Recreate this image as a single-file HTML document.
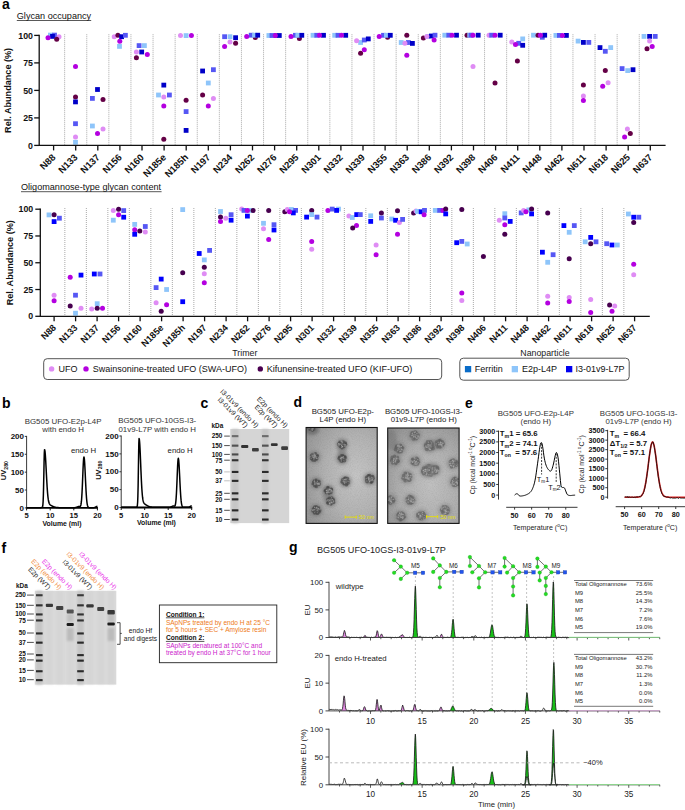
<!DOCTYPE html>
<html><head><meta charset="utf-8"><style>
html,body{margin:0;padding:0;background:#fff;}
svg{display:block;}
text{font-family:"Liberation Sans", sans-serif;}
</style></head><body>
<svg width="685" height="810" viewBox="0 0 685 810">
<rect width="685" height="810" fill="#fff"/>
<text x="2.00" y="9.00" font-size="14" font-weight="bold">a</text>
<text x="2.00" y="408.00" font-size="14" font-weight="bold">b</text>
<text x="200.50" y="408.30" font-size="14" font-weight="bold">c</text>
<text x="293.50" y="407.30" font-size="14" font-weight="bold">d</text>
<text x="465.00" y="408.00" font-size="14" font-weight="bold">e</text>
<text x="1.50" y="553.00" font-size="14" font-weight="bold">f</text>
<text x="289.00" y="551.50" font-size="14" font-weight="bold">g</text>
<text x="16.80" y="19.00" font-size="9.1" fill="#111">Glycan occupancy</text>
<line x1="16.80" y1="20.50" x2="91.20" y2="20.50" stroke="#222" stroke-width="0.75"/>
<line x1="64.65" y1="34.40" x2="64.65" y2="145.40" stroke="#7a7a7a" stroke-width="0.8" stroke-dasharray="0.8 1.2"/>
<line x1="86.75" y1="34.40" x2="86.75" y2="145.40" stroke="#7a7a7a" stroke-width="0.8" stroke-dasharray="0.8 1.2"/>
<line x1="108.85" y1="34.40" x2="108.85" y2="145.40" stroke="#7a7a7a" stroke-width="0.8" stroke-dasharray="0.8 1.2"/>
<line x1="130.95" y1="34.40" x2="130.95" y2="145.40" stroke="#7a7a7a" stroke-width="0.8" stroke-dasharray="0.8 1.2"/>
<line x1="153.05" y1="34.40" x2="153.05" y2="145.40" stroke="#7a7a7a" stroke-width="0.8" stroke-dasharray="0.8 1.2"/>
<line x1="175.15" y1="34.40" x2="175.15" y2="145.40" stroke="#7a7a7a" stroke-width="0.8" stroke-dasharray="0.8 1.2"/>
<line x1="197.25" y1="34.40" x2="197.25" y2="145.40" stroke="#7a7a7a" stroke-width="0.8" stroke-dasharray="0.8 1.2"/>
<line x1="219.35" y1="34.40" x2="219.35" y2="145.40" stroke="#7a7a7a" stroke-width="0.8" stroke-dasharray="0.8 1.2"/>
<line x1="241.45" y1="34.40" x2="241.45" y2="145.40" stroke="#7a7a7a" stroke-width="0.8" stroke-dasharray="0.8 1.2"/>
<line x1="263.55" y1="34.40" x2="263.55" y2="145.40" stroke="#7a7a7a" stroke-width="0.8" stroke-dasharray="0.8 1.2"/>
<line x1="285.65" y1="34.40" x2="285.65" y2="145.40" stroke="#7a7a7a" stroke-width="0.8" stroke-dasharray="0.8 1.2"/>
<line x1="307.75" y1="34.40" x2="307.75" y2="145.40" stroke="#7a7a7a" stroke-width="0.8" stroke-dasharray="0.8 1.2"/>
<line x1="329.85" y1="34.40" x2="329.85" y2="145.40" stroke="#7a7a7a" stroke-width="0.8" stroke-dasharray="0.8 1.2"/>
<line x1="351.95" y1="34.40" x2="351.95" y2="145.40" stroke="#7a7a7a" stroke-width="0.8" stroke-dasharray="0.8 1.2"/>
<line x1="374.05" y1="34.40" x2="374.05" y2="145.40" stroke="#7a7a7a" stroke-width="0.8" stroke-dasharray="0.8 1.2"/>
<line x1="396.15" y1="34.40" x2="396.15" y2="145.40" stroke="#7a7a7a" stroke-width="0.8" stroke-dasharray="0.8 1.2"/>
<line x1="418.25" y1="34.40" x2="418.25" y2="145.40" stroke="#7a7a7a" stroke-width="0.8" stroke-dasharray="0.8 1.2"/>
<line x1="440.35" y1="34.40" x2="440.35" y2="145.40" stroke="#7a7a7a" stroke-width="0.8" stroke-dasharray="0.8 1.2"/>
<line x1="462.45" y1="34.40" x2="462.45" y2="145.40" stroke="#7a7a7a" stroke-width="0.8" stroke-dasharray="0.8 1.2"/>
<line x1="484.55" y1="34.40" x2="484.55" y2="145.40" stroke="#7a7a7a" stroke-width="0.8" stroke-dasharray="0.8 1.2"/>
<line x1="506.65" y1="34.40" x2="506.65" y2="145.40" stroke="#7a7a7a" stroke-width="0.8" stroke-dasharray="0.8 1.2"/>
<line x1="528.75" y1="34.40" x2="528.75" y2="145.40" stroke="#7a7a7a" stroke-width="0.8" stroke-dasharray="0.8 1.2"/>
<line x1="550.85" y1="34.40" x2="550.85" y2="145.40" stroke="#7a7a7a" stroke-width="0.8" stroke-dasharray="0.8 1.2"/>
<line x1="572.95" y1="34.40" x2="572.95" y2="145.40" stroke="#7a7a7a" stroke-width="0.8" stroke-dasharray="0.8 1.2"/>
<line x1="595.05" y1="34.40" x2="595.05" y2="145.40" stroke="#7a7a7a" stroke-width="0.8" stroke-dasharray="0.8 1.2"/>
<line x1="617.15" y1="34.40" x2="617.15" y2="145.40" stroke="#7a7a7a" stroke-width="0.8" stroke-dasharray="0.8 1.2"/>
<line x1="639.25" y1="34.40" x2="639.25" y2="145.40" stroke="#7a7a7a" stroke-width="0.8" stroke-dasharray="0.8 1.2"/>
<rect x="48.0" y="32.7" width="4.8" height="4.8" fill="#8ec5fa"/>
<rect x="52.1" y="32.7" width="4.8" height="4.8" fill="#5657f4"/>
<rect x="50.1" y="34.0" width="4.8" height="4.8" fill="#0000c8"/>
<circle cx="48.0" cy="37.7" r="2.5" fill="#b400e0"/>
<circle cx="59.0" cy="36.7" r="2.5" fill="#df8cf4"/>
<circle cx="56.7" cy="39.2" r="2.5" fill="#640046"/>
<circle cx="75.5" cy="66.4" r="2.5" fill="#b400e0"/>
<circle cx="75.5" cy="97.1" r="2.5" fill="#640046"/>
<rect x="73.1" y="99.5" width="4.8" height="4.8" fill="#0000c8"/>
<rect x="73.1" y="121.3" width="4.8" height="4.8" fill="#5657f4"/>
<circle cx="75.5" cy="137.0" r="2.5" fill="#df8cf4"/>
<rect x="73.1" y="139.9" width="4.8" height="4.8" fill="#8ec5fa"/>
<rect x="95.1" y="87.1" width="4.8" height="4.8" fill="#0000c8"/>
<rect x="90.0" y="96.0" width="4.8" height="4.8" fill="#5657f4"/>
<circle cx="103.0" cy="99.4" r="2.5" fill="#640046"/>
<rect x="90.0" y="123.6" width="4.8" height="4.8" fill="#8ec5fa"/>
<circle cx="97.5" cy="133.6" r="2.5" fill="#b400e0"/>
<circle cx="103.0" cy="129.0" r="2.5" fill="#df8cf4"/>
<circle cx="114.2" cy="36.7" r="2.5" fill="#df8cf4"/>
<circle cx="117.9" cy="35.3" r="2.5" fill="#640046"/>
<rect x="119.2" y="34.3" width="4.8" height="4.8" fill="#0000c8"/>
<rect x="123.0" y="32.9" width="4.8" height="4.8" fill="#5657f4"/>
<circle cx="119.8" cy="41.2" r="2.5" fill="#b400e0"/>
<rect x="117.1" y="44.0" width="4.8" height="4.8" fill="#8ec5fa"/>
<rect x="136.7" y="43.2" width="4.8" height="4.8" fill="#5657f4"/>
<rect x="142.0" y="43.2" width="4.8" height="4.8" fill="#8ec5fa"/>
<circle cx="136.4" cy="52.0" r="2.5" fill="#df8cf4"/>
<rect x="139.3" y="49.6" width="4.8" height="4.8" fill="#0000c8"/>
<circle cx="147.3" cy="54.4" r="2.5" fill="#b400e0"/>
<circle cx="136.4" cy="57.8" r="2.5" fill="#640046"/>
<rect x="161.4" y="82.7" width="4.8" height="4.8" fill="#0000c8"/>
<rect x="156.1" y="92.6" width="4.8" height="4.8" fill="#8ec5fa"/>
<circle cx="163.8" cy="97.1" r="2.5" fill="#df8cf4"/>
<rect x="167.0" y="92.6" width="4.8" height="4.8" fill="#5657f4"/>
<circle cx="163.8" cy="106.0" r="2.5" fill="#b400e0"/>
<circle cx="163.8" cy="139.2" r="2.5" fill="#640046"/>
<circle cx="180.5" cy="35.6" r="2.5" fill="#df8cf4"/>
<rect x="183.7" y="33.2" width="4.8" height="4.8" fill="#8ec5fa"/>
<circle cx="191.4" cy="35.6" r="2.5" fill="#b400e0"/>
<circle cx="186.1" cy="100.3" r="2.5" fill="#640046"/>
<rect x="183.7" y="109.2" width="4.8" height="4.8" fill="#5657f4"/>
<rect x="183.7" y="128.0" width="4.8" height="4.8" fill="#0000c8"/>
<rect x="200.2" y="68.6" width="4.8" height="4.8" fill="#0000c8"/>
<rect x="211.0" y="67.3" width="4.8" height="4.8" fill="#5657f4"/>
<rect x="205.9" y="80.6" width="4.8" height="4.8" fill="#8ec5fa"/>
<circle cx="202.6" cy="95.0" r="2.5" fill="#640046"/>
<circle cx="213.4" cy="98.6" r="2.5" fill="#df8cf4"/>
<circle cx="208.3" cy="106.0" r="2.5" fill="#b400e0"/>
<rect x="222.2" y="34.3" width="4.8" height="4.8" fill="#5657f4"/>
<rect x="227.6" y="34.3" width="4.8" height="4.8" fill="#8ec5fa"/>
<rect x="233.2" y="35.3" width="4.8" height="4.8" fill="#0000c8"/>
<circle cx="230.0" cy="42.0" r="2.5" fill="#df8cf4"/>
<circle cx="224.6" cy="46.4" r="2.5" fill="#b400e0"/>
<circle cx="235.6" cy="43.2" r="2.5" fill="#640046"/>
<circle cx="255.3" cy="37.6" r="2.5" fill="#640046"/>
<rect x="248.8" y="32.8" width="4.8" height="4.8" fill="#5657f4"/>
<rect x="252.1" y="32.8" width="4.8" height="4.8" fill="#8ec5fa"/>
<rect x="255.3" y="32.8" width="4.8" height="4.8" fill="#0000c8"/>
<circle cx="246.7" cy="36.5" r="2.5" fill="#b400e0"/>
<circle cx="275.3" cy="35.5" r="2.5" fill="#640046"/>
<rect x="266.5" y="33.1" width="4.8" height="4.8" fill="#8ec5fa"/>
<rect x="269.6" y="33.1" width="4.8" height="4.8" fill="#5657f4"/>
<rect x="276.9" y="33.1" width="4.8" height="4.8" fill="#0000c8"/>
<circle cx="275.3" cy="35.5" r="2.5" fill="#b400e0"/>
<circle cx="299.4" cy="38.4" r="2.5" fill="#640046"/>
<rect x="293.0" y="32.9" width="4.8" height="4.8" fill="#5657f4"/>
<rect x="295.4" y="32.9" width="4.8" height="4.8" fill="#8ec5fa"/>
<rect x="299.4" y="32.9" width="4.8" height="4.8" fill="#0000c8"/>
<circle cx="291.0" cy="36.5" r="2.5" fill="#b400e0"/>
<rect x="310.6" y="32.9" width="4.8" height="4.8" fill="#8ec5fa"/>
<rect x="314.4" y="32.9" width="4.8" height="4.8" fill="#5657f4"/>
<rect x="321.1" y="32.9" width="4.8" height="4.8" fill="#0000c8"/>
<circle cx="319.5" cy="35.3" r="2.5" fill="#b400e0"/>
<rect x="332.3" y="32.9" width="4.8" height="4.8" fill="#8ec5fa"/>
<rect x="335.6" y="32.9" width="4.8" height="4.8" fill="#5657f4"/>
<rect x="343.3" y="32.9" width="4.8" height="4.8" fill="#0000c8"/>
<circle cx="341.5" cy="35.3" r="2.5" fill="#b400e0"/>
<circle cx="360.6" cy="53.2" r="2.5" fill="#640046"/>
<rect x="358.2" y="40.1" width="4.8" height="4.8" fill="#8ec5fa"/>
<rect x="361.9" y="37.6" width="4.8" height="4.8" fill="#5657f4"/>
<rect x="365.9" y="36.5" width="4.8" height="4.8" fill="#0000c8"/>
<circle cx="356.6" cy="40.8" r="2.5" fill="#df8cf4"/>
<circle cx="364.3" cy="49.7" r="2.5" fill="#b400e0"/>
<circle cx="387.6" cy="37.2" r="2.5" fill="#640046"/>
<rect x="381.1" y="32.9" width="4.8" height="4.8" fill="#5657f4"/>
<rect x="384.0" y="32.9" width="4.8" height="4.8" fill="#8ec5fa"/>
<rect x="387.9" y="32.9" width="4.8" height="4.8" fill="#0000c8"/>
<circle cx="379.2" cy="36.5" r="2.5" fill="#b400e0"/>
<circle cx="406.8" cy="35.2" r="2.5" fill="#640046"/>
<rect x="398.8" y="40.1" width="4.8" height="4.8" fill="#8ec5fa"/>
<rect x="406.0" y="40.1" width="4.8" height="4.8" fill="#5657f4"/>
<rect x="410.0" y="41.0" width="4.8" height="4.8" fill="#0000c8"/>
<circle cx="404.9" cy="43.3" r="2.5" fill="#df8cf4"/>
<circle cx="406.8" cy="55.3" r="2.5" fill="#b400e0"/>
<circle cx="423.4" cy="38.0" r="2.5" fill="#640046"/>
<rect x="425.6" y="34.0" width="4.8" height="4.8" fill="#8ec5fa"/>
<rect x="429.0" y="33.6" width="4.8" height="4.8" fill="#0000c8"/>
<rect x="432.6" y="32.8" width="4.8" height="4.8" fill="#5657f4"/>
<circle cx="426.9" cy="36.4" r="2.5" fill="#df8cf4"/>
<circle cx="434.1" cy="40.0" r="2.5" fill="#b400e0"/>
<rect x="442.4" y="32.8" width="4.8" height="4.8" fill="#8ec5fa"/>
<rect x="446.4" y="32.8" width="4.8" height="4.8" fill="#5657f4"/>
<rect x="454.1" y="32.8" width="4.8" height="4.8" fill="#0000c8"/>
<circle cx="452.0" cy="35.2" r="2.5" fill="#b400e0"/>
<circle cx="467.0" cy="35.2" r="2.5" fill="#640046"/>
<rect x="467.3" y="32.8" width="4.8" height="4.8" fill="#8ec5fa"/>
<rect x="468.6" y="32.8" width="4.8" height="4.8" fill="#5657f4"/>
<rect x="475.8" y="32.8" width="4.8" height="4.8" fill="#0000c8"/>
<circle cx="473.0" cy="35.2" r="2.5" fill="#b400e0"/>
<circle cx="473.0" cy="66.5" r="2.5" fill="#df8cf4"/>
<circle cx="489.0" cy="35.2" r="2.5" fill="#df8cf4"/>
<rect x="489.3" y="32.8" width="4.8" height="4.8" fill="#5657f4"/>
<rect x="497.8" y="32.8" width="4.8" height="4.8" fill="#0000c8"/>
<circle cx="495.0" cy="35.2" r="2.5" fill="#b400e0"/>
<circle cx="495.0" cy="82.9" r="2.5" fill="#640046"/>
<circle cx="517.4" cy="60.9" r="2.5" fill="#640046"/>
<rect x="516.3" y="40.9" width="4.8" height="4.8" fill="#5657f4"/>
<rect x="520.3" y="36.5" width="4.8" height="4.8" fill="#8ec5fa"/>
<rect x="520.3" y="42.9" width="4.8" height="4.8" fill="#0000c8"/>
<circle cx="511.8" cy="42.1" r="2.5" fill="#df8cf4"/>
<circle cx="515.5" cy="44.4" r="2.5" fill="#b400e0"/>
<rect x="531.1" y="32.8" width="4.8" height="4.8" fill="#8ec5fa"/>
<rect x="539.9" y="34.9" width="4.8" height="4.8" fill="#5657f4"/>
<rect x="542.3" y="32.8" width="4.8" height="4.8" fill="#0000c8"/>
<circle cx="538.0" cy="35.2" r="2.5" fill="#640046"/>
<circle cx="540.4" cy="35.2" r="2.5" fill="#b400e0"/>
<rect x="553.5" y="33.0" width="4.8" height="4.8" fill="#8ec5fa"/>
<rect x="557.0" y="33.0" width="4.8" height="4.8" fill="#5657f4"/>
<rect x="564.0" y="33.0" width="4.8" height="4.8" fill="#0000c8"/>
<circle cx="562.4" cy="35.4" r="2.5" fill="#b400e0"/>
<rect x="575.7" y="38.7" width="4.8" height="4.8" fill="#8ec5fa"/>
<rect x="581.0" y="40.0" width="4.8" height="4.8" fill="#0000c8"/>
<rect x="586.4" y="40.0" width="4.8" height="4.8" fill="#5657f4"/>
<circle cx="583.4" cy="85.1" r="2.5" fill="#640046"/>
<circle cx="583.4" cy="96.0" r="2.5" fill="#df8cf4"/>
<circle cx="583.4" cy="100.4" r="2.5" fill="#b400e0"/>
<rect x="597.6" y="45.2" width="4.8" height="4.8" fill="#0000c8"/>
<rect x="602.9" y="48.9" width="4.8" height="4.8" fill="#5657f4"/>
<rect x="608.3" y="45.2" width="4.8" height="4.8" fill="#8ec5fa"/>
<circle cx="605.3" cy="70.6" r="2.5" fill="#640046"/>
<circle cx="608.1" cy="82.8" r="2.5" fill="#df8cf4"/>
<circle cx="602.7" cy="86.2" r="2.5" fill="#b400e0"/>
<rect x="619.7" y="66.2" width="4.8" height="4.8" fill="#5657f4"/>
<rect x="625.3" y="68.2" width="4.8" height="4.8" fill="#8ec5fa"/>
<rect x="630.6" y="67.3" width="4.8" height="4.8" fill="#0000c8"/>
<circle cx="627.4" cy="129.1" r="2.5" fill="#df8cf4"/>
<circle cx="630.3" cy="133.5" r="2.5" fill="#640046"/>
<circle cx="624.6" cy="137.0" r="2.5" fill="#b400e0"/>
<rect x="641.6" y="34.0" width="4.8" height="4.8" fill="#8ec5fa"/>
<rect x="647.2" y="34.0" width="4.8" height="4.8" fill="#0000c8"/>
<rect x="652.8" y="34.0" width="4.8" height="4.8" fill="#5657f4"/>
<circle cx="649.6" cy="41.1" r="2.5" fill="#df8cf4"/>
<circle cx="652.2" cy="46.4" r="2.5" fill="#b400e0"/>
<circle cx="647.0" cy="48.7" r="2.5" fill="#640046"/>
<path d="M39.20 34.80V145.40H665.60" fill="none" stroke="#111" stroke-width="1.3"/>
<line x1="34.20" y1="145.40" x2="39.20" y2="145.40" stroke="#111" stroke-width="1.3"/>
<text x="33.00" y="148.50" font-size="8.8" font-weight="bold" text-anchor="end" fill="#111">0</text>
<line x1="34.20" y1="117.90" x2="39.20" y2="117.90" stroke="#111" stroke-width="1.3"/>
<text x="33.00" y="121.00" font-size="8.8" font-weight="bold" text-anchor="end" fill="#111">25</text>
<line x1="34.20" y1="90.40" x2="39.20" y2="90.40" stroke="#111" stroke-width="1.3"/>
<text x="33.00" y="93.50" font-size="8.8" font-weight="bold" text-anchor="end" fill="#111">50</text>
<line x1="34.20" y1="62.90" x2="39.20" y2="62.90" stroke="#111" stroke-width="1.3"/>
<text x="33.00" y="66.00" font-size="8.8" font-weight="bold" text-anchor="end" fill="#111">75</text>
<line x1="34.20" y1="35.40" x2="39.20" y2="35.40" stroke="#111" stroke-width="1.3"/>
<text x="33.00" y="38.50" font-size="8.8" font-weight="bold" text-anchor="end" fill="#111">100</text>
<line x1="53.60" y1="145.40" x2="53.60" y2="150.40" stroke="#111" stroke-width="1.3"/>
<text x="56.20" y="157.90" font-size="9.5" font-weight="bold" text-anchor="end" fill="#111" transform="rotate(-45 56.20 157.90)">N88</text>
<line x1="75.70" y1="145.40" x2="75.70" y2="150.40" stroke="#111" stroke-width="1.3"/>
<text x="78.30" y="157.90" font-size="9.5" font-weight="bold" text-anchor="end" fill="#111" transform="rotate(-45 78.30 157.90)">N133</text>
<line x1="97.80" y1="145.40" x2="97.80" y2="150.40" stroke="#111" stroke-width="1.3"/>
<text x="100.40" y="157.90" font-size="9.5" font-weight="bold" text-anchor="end" fill="#111" transform="rotate(-45 100.40 157.90)">N137</text>
<line x1="119.90" y1="145.40" x2="119.90" y2="150.40" stroke="#111" stroke-width="1.3"/>
<text x="122.50" y="157.90" font-size="9.5" font-weight="bold" text-anchor="end" fill="#111" transform="rotate(-45 122.50 157.90)">N156</text>
<line x1="142.00" y1="145.40" x2="142.00" y2="150.40" stroke="#111" stroke-width="1.3"/>
<text x="144.60" y="157.90" font-size="9.5" font-weight="bold" text-anchor="end" fill="#111" transform="rotate(-45 144.60 157.90)">N160</text>
<line x1="164.10" y1="145.40" x2="164.10" y2="150.40" stroke="#111" stroke-width="1.3"/>
<text x="166.70" y="157.90" font-size="9.5" font-weight="bold" text-anchor="end" fill="#111" transform="rotate(-45 166.70 157.90)">N185e</text>
<line x1="186.20" y1="145.40" x2="186.20" y2="150.40" stroke="#111" stroke-width="1.3"/>
<text x="188.80" y="157.90" font-size="9.5" font-weight="bold" text-anchor="end" fill="#111" transform="rotate(-45 188.80 157.90)">N185h</text>
<line x1="208.30" y1="145.40" x2="208.30" y2="150.40" stroke="#111" stroke-width="1.3"/>
<text x="210.90" y="157.90" font-size="9.5" font-weight="bold" text-anchor="end" fill="#111" transform="rotate(-45 210.90 157.90)">N197</text>
<line x1="230.40" y1="145.40" x2="230.40" y2="150.40" stroke="#111" stroke-width="1.3"/>
<text x="233.00" y="157.90" font-size="9.5" font-weight="bold" text-anchor="end" fill="#111" transform="rotate(-45 233.00 157.90)">N234</text>
<line x1="252.50" y1="145.40" x2="252.50" y2="150.40" stroke="#111" stroke-width="1.3"/>
<text x="255.10" y="157.90" font-size="9.5" font-weight="bold" text-anchor="end" fill="#111" transform="rotate(-45 255.10 157.90)">N262</text>
<line x1="274.60" y1="145.40" x2="274.60" y2="150.40" stroke="#111" stroke-width="1.3"/>
<text x="277.20" y="157.90" font-size="9.5" font-weight="bold" text-anchor="end" fill="#111" transform="rotate(-45 277.20 157.90)">N276</text>
<line x1="296.70" y1="145.40" x2="296.70" y2="150.40" stroke="#111" stroke-width="1.3"/>
<text x="299.30" y="157.90" font-size="9.5" font-weight="bold" text-anchor="end" fill="#111" transform="rotate(-45 299.30 157.90)">N295</text>
<line x1="318.80" y1="145.40" x2="318.80" y2="150.40" stroke="#111" stroke-width="1.3"/>
<text x="321.40" y="157.90" font-size="9.5" font-weight="bold" text-anchor="end" fill="#111" transform="rotate(-45 321.40 157.90)">N301</text>
<line x1="340.90" y1="145.40" x2="340.90" y2="150.40" stroke="#111" stroke-width="1.3"/>
<text x="343.50" y="157.90" font-size="9.5" font-weight="bold" text-anchor="end" fill="#111" transform="rotate(-45 343.50 157.90)">N332</text>
<line x1="363.00" y1="145.40" x2="363.00" y2="150.40" stroke="#111" stroke-width="1.3"/>
<text x="365.60" y="157.90" font-size="9.5" font-weight="bold" text-anchor="end" fill="#111" transform="rotate(-45 365.60 157.90)">N339</text>
<line x1="385.10" y1="145.40" x2="385.10" y2="150.40" stroke="#111" stroke-width="1.3"/>
<text x="387.70" y="157.90" font-size="9.5" font-weight="bold" text-anchor="end" fill="#111" transform="rotate(-45 387.70 157.90)">N355</text>
<line x1="407.20" y1="145.40" x2="407.20" y2="150.40" stroke="#111" stroke-width="1.3"/>
<text x="409.80" y="157.90" font-size="9.5" font-weight="bold" text-anchor="end" fill="#111" transform="rotate(-45 409.80 157.90)">N363</text>
<line x1="429.30" y1="145.40" x2="429.30" y2="150.40" stroke="#111" stroke-width="1.3"/>
<text x="431.90" y="157.90" font-size="9.5" font-weight="bold" text-anchor="end" fill="#111" transform="rotate(-45 431.90 157.90)">N386</text>
<line x1="451.40" y1="145.40" x2="451.40" y2="150.40" stroke="#111" stroke-width="1.3"/>
<text x="454.00" y="157.90" font-size="9.5" font-weight="bold" text-anchor="end" fill="#111" transform="rotate(-45 454.00 157.90)">N392</text>
<line x1="473.50" y1="145.40" x2="473.50" y2="150.40" stroke="#111" stroke-width="1.3"/>
<text x="476.10" y="157.90" font-size="9.5" font-weight="bold" text-anchor="end" fill="#111" transform="rotate(-45 476.10 157.90)">N398</text>
<line x1="495.60" y1="145.40" x2="495.60" y2="150.40" stroke="#111" stroke-width="1.3"/>
<text x="498.20" y="157.90" font-size="9.5" font-weight="bold" text-anchor="end" fill="#111" transform="rotate(-45 498.20 157.90)">N406</text>
<line x1="517.70" y1="145.40" x2="517.70" y2="150.40" stroke="#111" stroke-width="1.3"/>
<text x="520.30" y="157.90" font-size="9.5" font-weight="bold" text-anchor="end" fill="#111" transform="rotate(-45 520.30 157.90)">N411</text>
<line x1="539.80" y1="145.40" x2="539.80" y2="150.40" stroke="#111" stroke-width="1.3"/>
<text x="542.40" y="157.90" font-size="9.5" font-weight="bold" text-anchor="end" fill="#111" transform="rotate(-45 542.40 157.90)">N448</text>
<line x1="561.90" y1="145.40" x2="561.90" y2="150.40" stroke="#111" stroke-width="1.3"/>
<text x="564.50" y="157.90" font-size="9.5" font-weight="bold" text-anchor="end" fill="#111" transform="rotate(-45 564.50 157.90)">N462</text>
<line x1="584.00" y1="145.40" x2="584.00" y2="150.40" stroke="#111" stroke-width="1.3"/>
<text x="586.60" y="157.90" font-size="9.5" font-weight="bold" text-anchor="end" fill="#111" transform="rotate(-45 586.60 157.90)">N611</text>
<line x1="606.10" y1="145.40" x2="606.10" y2="150.40" stroke="#111" stroke-width="1.3"/>
<text x="608.70" y="157.90" font-size="9.5" font-weight="bold" text-anchor="end" fill="#111" transform="rotate(-45 608.70 157.90)">N618</text>
<line x1="628.20" y1="145.40" x2="628.20" y2="150.40" stroke="#111" stroke-width="1.3"/>
<text x="630.80" y="157.90" font-size="9.5" font-weight="bold" text-anchor="end" fill="#111" transform="rotate(-45 630.80 157.90)">N625</text>
<line x1="650.30" y1="145.40" x2="650.30" y2="150.40" stroke="#111" stroke-width="1.3"/>
<text x="652.90" y="157.90" font-size="9.5" font-weight="bold" text-anchor="end" fill="#111" transform="rotate(-45 652.90 157.90)">N637</text>
<text x="11.30" y="90.40" font-size="9.1" font-weight="bold" text-anchor="middle" fill="#111" transform="rotate(-90 11.30 90.40)">Rel. Abundance (%)</text>
<text x="21.00" y="190.20" font-size="9.1" fill="#111">Oligomannose-type glycan content</text>
<line x1="21.00" y1="191.70" x2="161.60" y2="191.70" stroke="#222" stroke-width="0.75"/>
<line x1="64.85" y1="208.20" x2="64.85" y2="316.30" stroke="#7a7a7a" stroke-width="0.8" stroke-dasharray="0.8 1.2"/>
<line x1="86.35" y1="208.20" x2="86.35" y2="316.30" stroke="#7a7a7a" stroke-width="0.8" stroke-dasharray="0.8 1.2"/>
<line x1="107.85" y1="208.20" x2="107.85" y2="316.30" stroke="#7a7a7a" stroke-width="0.8" stroke-dasharray="0.8 1.2"/>
<line x1="129.35" y1="208.20" x2="129.35" y2="316.30" stroke="#7a7a7a" stroke-width="0.8" stroke-dasharray="0.8 1.2"/>
<line x1="150.85" y1="208.20" x2="150.85" y2="316.30" stroke="#7a7a7a" stroke-width="0.8" stroke-dasharray="0.8 1.2"/>
<line x1="172.35" y1="208.20" x2="172.35" y2="316.30" stroke="#7a7a7a" stroke-width="0.8" stroke-dasharray="0.8 1.2"/>
<line x1="193.85" y1="208.20" x2="193.85" y2="316.30" stroke="#7a7a7a" stroke-width="0.8" stroke-dasharray="0.8 1.2"/>
<line x1="215.35" y1="208.20" x2="215.35" y2="316.30" stroke="#7a7a7a" stroke-width="0.8" stroke-dasharray="0.8 1.2"/>
<line x1="236.85" y1="208.20" x2="236.85" y2="316.30" stroke="#7a7a7a" stroke-width="0.8" stroke-dasharray="0.8 1.2"/>
<line x1="258.35" y1="208.20" x2="258.35" y2="316.30" stroke="#7a7a7a" stroke-width="0.8" stroke-dasharray="0.8 1.2"/>
<line x1="279.85" y1="208.20" x2="279.85" y2="316.30" stroke="#7a7a7a" stroke-width="0.8" stroke-dasharray="0.8 1.2"/>
<line x1="301.35" y1="208.20" x2="301.35" y2="316.30" stroke="#7a7a7a" stroke-width="0.8" stroke-dasharray="0.8 1.2"/>
<line x1="322.85" y1="208.20" x2="322.85" y2="316.30" stroke="#7a7a7a" stroke-width="0.8" stroke-dasharray="0.8 1.2"/>
<line x1="344.35" y1="208.20" x2="344.35" y2="316.30" stroke="#7a7a7a" stroke-width="0.8" stroke-dasharray="0.8 1.2"/>
<line x1="365.85" y1="208.20" x2="365.85" y2="316.30" stroke="#7a7a7a" stroke-width="0.8" stroke-dasharray="0.8 1.2"/>
<line x1="387.35" y1="208.20" x2="387.35" y2="316.30" stroke="#7a7a7a" stroke-width="0.8" stroke-dasharray="0.8 1.2"/>
<line x1="408.85" y1="208.20" x2="408.85" y2="316.30" stroke="#7a7a7a" stroke-width="0.8" stroke-dasharray="0.8 1.2"/>
<line x1="430.35" y1="208.20" x2="430.35" y2="316.30" stroke="#7a7a7a" stroke-width="0.8" stroke-dasharray="0.8 1.2"/>
<line x1="451.85" y1="208.20" x2="451.85" y2="316.30" stroke="#7a7a7a" stroke-width="0.8" stroke-dasharray="0.8 1.2"/>
<line x1="473.35" y1="208.20" x2="473.35" y2="316.30" stroke="#7a7a7a" stroke-width="0.8" stroke-dasharray="0.8 1.2"/>
<line x1="494.85" y1="208.20" x2="494.85" y2="316.30" stroke="#7a7a7a" stroke-width="0.8" stroke-dasharray="0.8 1.2"/>
<line x1="516.35" y1="208.20" x2="516.35" y2="316.30" stroke="#7a7a7a" stroke-width="0.8" stroke-dasharray="0.8 1.2"/>
<line x1="537.85" y1="208.20" x2="537.85" y2="316.30" stroke="#7a7a7a" stroke-width="0.8" stroke-dasharray="0.8 1.2"/>
<line x1="559.35" y1="208.20" x2="559.35" y2="316.30" stroke="#7a7a7a" stroke-width="0.8" stroke-dasharray="0.8 1.2"/>
<line x1="580.85" y1="208.20" x2="580.85" y2="316.30" stroke="#7a7a7a" stroke-width="0.8" stroke-dasharray="0.8 1.2"/>
<line x1="602.35" y1="208.20" x2="602.35" y2="316.30" stroke="#7a7a7a" stroke-width="0.8" stroke-dasharray="0.8 1.2"/>
<line x1="623.85" y1="208.20" x2="623.85" y2="316.30" stroke="#7a7a7a" stroke-width="0.8" stroke-dasharray="0.8 1.2"/>
<rect x="46.6" y="212.5" width="4.8" height="4.8" fill="#8ec5fa"/>
<circle cx="54.1" cy="214.7" r="2.5" fill="#47004f"/>
<rect x="51.7" y="219.2" width="4.8" height="4.8" fill="#0000ff"/>
<rect x="57.0" y="215.8" width="4.8" height="4.8" fill="#5657f4"/>
<circle cx="54.1" cy="295.2" r="2.5" fill="#df8cf4"/>
<circle cx="54.1" cy="300.7" r="2.5" fill="#b400e0"/>
<circle cx="70.2" cy="277.2" r="2.5" fill="#b400e0"/>
<rect x="78.6" y="272.7" width="4.8" height="4.8" fill="#0000ff"/>
<rect x="73.1" y="292.8" width="4.8" height="4.8" fill="#5657f4"/>
<circle cx="70.2" cy="306.0" r="2.5" fill="#47004f"/>
<circle cx="81.0" cy="308.3" r="2.5" fill="#df8cf4"/>
<rect x="73.1" y="310.8" width="4.8" height="4.8" fill="#8ec5fa"/>
<rect x="91.9" y="271.6" width="4.8" height="4.8" fill="#0000ff"/>
<rect x="97.6" y="271.6" width="4.8" height="4.8" fill="#5657f4"/>
<rect x="94.8" y="301.3" width="4.8" height="4.8" fill="#8ec5fa"/>
<circle cx="91.7" cy="309.0" r="2.5" fill="#df8cf4"/>
<circle cx="97.2" cy="308.3" r="2.5" fill="#47004f"/>
<circle cx="102.5" cy="308.3" r="2.5" fill="#b400e0"/>
<circle cx="113.3" cy="210.6" r="2.5" fill="#df8cf4"/>
<circle cx="118.6" cy="209.2" r="2.5" fill="#47004f"/>
<rect x="121.3" y="208.2" width="4.8" height="4.8" fill="#5657f4"/>
<circle cx="118.6" cy="214.7" r="2.5" fill="#b400e0"/>
<rect x="110.9" y="217.8" width="4.8" height="4.8" fill="#8ec5fa"/>
<rect x="121.3" y="214.8" width="4.8" height="4.8" fill="#0000ff"/>
<rect x="132.3" y="222.0" width="4.8" height="4.8" fill="#8ec5fa"/>
<rect x="142.9" y="224.1" width="4.8" height="4.8" fill="#5657f4"/>
<circle cx="134.7" cy="229.7" r="2.5" fill="#b400e0"/>
<circle cx="139.8" cy="230.9" r="2.5" fill="#47004f"/>
<circle cx="145.3" cy="232.0" r="2.5" fill="#df8cf4"/>
<rect x="132.3" y="231.9" width="4.8" height="4.8" fill="#0000ff"/>
<rect x="158.8" y="276.7" width="4.8" height="4.8" fill="#0000ff"/>
<rect x="153.7" y="285.2" width="4.8" height="4.8" fill="#5657f4"/>
<rect x="164.2" y="287.1" width="4.8" height="4.8" fill="#8ec5fa"/>
<circle cx="156.1" cy="302.8" r="2.5" fill="#df8cf4"/>
<circle cx="166.6" cy="304.7" r="2.5" fill="#b400e0"/>
<circle cx="161.2" cy="311.3" r="2.5" fill="#47004f"/>
<rect x="180.3" y="207.2" width="4.8" height="4.8" fill="#8ec5fa"/>
<circle cx="182.7" cy="272.8" r="2.5" fill="#47004f"/>
<rect x="180.3" y="299.3" width="4.8" height="4.8" fill="#0000ff"/>
<rect x="196.8" y="251.1" width="4.8" height="4.8" fill="#0000ff"/>
<rect x="207.2" y="248.0" width="4.8" height="4.8" fill="#5657f4"/>
<rect x="201.9" y="257.5" width="4.8" height="4.8" fill="#8ec5fa"/>
<circle cx="204.3" cy="267.3" r="2.5" fill="#47004f"/>
<circle cx="204.3" cy="273.8" r="2.5" fill="#df8cf4"/>
<circle cx="204.3" cy="282.7" r="2.5" fill="#b400e0"/>
<rect x="218.1" y="209.1" width="4.8" height="4.8" fill="#8ec5fa"/>
<circle cx="220.5" cy="217.0" r="2.5" fill="#47004f"/>
<circle cx="220.5" cy="221.6" r="2.5" fill="#b400e0"/>
<circle cx="225.8" cy="218.2" r="2.5" fill="#df8cf4"/>
<rect x="228.7" y="212.3" width="4.8" height="4.8" fill="#5657f4"/>
<rect x="228.7" y="217.8" width="4.8" height="4.8" fill="#0000ff"/>
<circle cx="241.7" cy="209.1" r="2.5" fill="#df8cf4"/>
<rect x="241.6" y="208.0" width="4.8" height="4.8" fill="#5657f4"/>
<rect x="248.2" y="208.0" width="4.8" height="4.8" fill="#8ec5fa"/>
<circle cx="247.4" cy="210.4" r="2.5" fill="#b400e0"/>
<circle cx="253.1" cy="210.4" r="2.5" fill="#47004f"/>
<rect x="245.0" y="213.7" width="4.8" height="4.8" fill="#0000ff"/>
<circle cx="268.7" cy="210.4" r="2.5" fill="#47004f"/>
<rect x="261.1" y="220.9" width="4.8" height="4.8" fill="#8ec5fa"/>
<circle cx="263.5" cy="228.8" r="2.5" fill="#df8cf4"/>
<rect x="271.6" y="222.3" width="4.8" height="4.8" fill="#5657f4"/>
<rect x="271.6" y="227.6" width="4.8" height="4.8" fill="#0000ff"/>
<circle cx="268.7" cy="239.5" r="2.5" fill="#b400e0"/>
<circle cx="284.8" cy="211.8" r="2.5" fill="#47004f"/>
<circle cx="287.3" cy="209.5" r="2.5" fill="#df8cf4"/>
<rect x="289.0" y="207.1" width="4.8" height="4.8" fill="#8ec5fa"/>
<rect x="293.2" y="208.0" width="4.8" height="4.8" fill="#5657f4"/>
<rect x="290.9" y="210.5" width="4.8" height="4.8" fill="#0000ff"/>
<circle cx="289.5" cy="211.8" r="2.5" fill="#b400e0"/>
<circle cx="311.7" cy="210.4" r="2.5" fill="#47004f"/>
<rect x="304.2" y="214.7" width="4.8" height="4.8" fill="#0000ff"/>
<rect x="309.3" y="212.2" width="4.8" height="4.8" fill="#8ec5fa"/>
<rect x="314.6" y="214.7" width="4.8" height="4.8" fill="#5657f4"/>
<circle cx="311.7" cy="241.4" r="2.5" fill="#b400e0"/>
<circle cx="311.7" cy="249.3" r="2.5" fill="#df8cf4"/>
<circle cx="327.9" cy="210.4" r="2.5" fill="#b400e0"/>
<rect x="329.8" y="206.7" width="4.8" height="4.8" fill="#5657f4"/>
<rect x="336.1" y="206.7" width="4.8" height="4.8" fill="#8ec5fa"/>
<rect x="334.2" y="208.0" width="4.8" height="4.8" fill="#0000ff"/>
<circle cx="348.9" cy="216.1" r="2.5" fill="#df8cf4"/>
<rect x="349.9" y="215.1" width="4.8" height="4.8" fill="#8ec5fa"/>
<rect x="354.3" y="212.2" width="4.8" height="4.8" fill="#0000ff"/>
<rect x="357.9" y="212.2" width="4.8" height="4.8" fill="#5657f4"/>
<circle cx="356.5" cy="225.6" r="2.5" fill="#b400e0"/>
<circle cx="352.7" cy="228.1" r="2.5" fill="#47004f"/>
<rect x="368.3" y="213.4" width="4.8" height="4.8" fill="#8ec5fa"/>
<rect x="368.3" y="219.0" width="4.8" height="4.8" fill="#0000ff"/>
<circle cx="381.4" cy="212.9" r="2.5" fill="#47004f"/>
<rect x="379.0" y="215.6" width="4.8" height="4.8" fill="#5657f4"/>
<circle cx="376.1" cy="245.0" r="2.5" fill="#df8cf4"/>
<circle cx="376.1" cy="254.7" r="2.5" fill="#b400e0"/>
<circle cx="397.5" cy="210.8" r="2.5" fill="#47004f"/>
<rect x="389.4" y="216.6" width="4.8" height="4.8" fill="#8ec5fa"/>
<rect x="393.2" y="217.9" width="4.8" height="4.8" fill="#0000ff"/>
<circle cx="399.4" cy="222.4" r="2.5" fill="#df8cf4"/>
<rect x="400.2" y="217.0" width="4.8" height="4.8" fill="#5657f4"/>
<circle cx="397.5" cy="234.2" r="2.5" fill="#b400e0"/>
<circle cx="413.6" cy="212.9" r="2.5" fill="#47004f"/>
<circle cx="416.0" cy="211.0" r="2.5" fill="#df8cf4"/>
<rect x="415.0" y="209.0" width="4.8" height="4.8" fill="#8ec5fa"/>
<rect x="418.8" y="209.4" width="4.8" height="4.8" fill="#0000ff"/>
<rect x="422.1" y="208.0" width="4.8" height="4.8" fill="#5657f4"/>
<circle cx="424.1" cy="214.8" r="2.5" fill="#b400e0"/>
<rect x="432.9" y="208.0" width="4.8" height="4.8" fill="#8ec5fa"/>
<rect x="437.2" y="208.0" width="4.8" height="4.8" fill="#5657f4"/>
<circle cx="442.9" cy="210.4" r="2.5" fill="#b400e0"/>
<circle cx="445.7" cy="209.1" r="2.5" fill="#47004f"/>
<rect x="443.3" y="211.5" width="4.8" height="4.8" fill="#0000ff"/>
<circle cx="461.8" cy="209.5" r="2.5" fill="#47004f"/>
<rect x="454.3" y="240.3" width="4.8" height="4.8" fill="#0000ff"/>
<rect x="459.4" y="239.0" width="4.8" height="4.8" fill="#5657f4"/>
<rect x="464.8" y="241.6" width="4.8" height="4.8" fill="#8ec5fa"/>
<circle cx="461.8" cy="293.0" r="2.5" fill="#b400e0"/>
<circle cx="461.8" cy="300.6" r="2.5" fill="#df8cf4"/>
<circle cx="483.4" cy="256.6" r="2.5" fill="#47004f"/>
<rect x="502.4" y="211.3" width="4.8" height="4.8" fill="#8ec5fa"/>
<rect x="502.4" y="215.6" width="4.8" height="4.8" fill="#5657f4"/>
<circle cx="499.3" cy="220.3" r="2.5" fill="#df8cf4"/>
<rect x="507.8" y="219.0" width="4.8" height="4.8" fill="#0000ff"/>
<circle cx="504.8" cy="224.7" r="2.5" fill="#b400e0"/>
<circle cx="504.8" cy="234.2" r="2.5" fill="#47004f"/>
<rect x="518.8" y="210.5" width="4.8" height="4.8" fill="#5657f4"/>
<circle cx="523.6" cy="210.4" r="2.5" fill="#df8cf4"/>
<rect x="526.4" y="207.5" width="4.8" height="4.8" fill="#8ec5fa"/>
<circle cx="531.6" cy="209.1" r="2.5" fill="#47004f"/>
<rect x="529.2" y="211.5" width="4.8" height="4.8" fill="#0000ff"/>
<circle cx="525.9" cy="211.8" r="2.5" fill="#b400e0"/>
<circle cx="547.7" cy="212.9" r="2.5" fill="#47004f"/>
<rect x="540.0" y="249.8" width="4.8" height="4.8" fill="#0000ff"/>
<rect x="550.7" y="252.3" width="4.8" height="4.8" fill="#5657f4"/>
<rect x="545.3" y="259.9" width="4.8" height="4.8" fill="#8ec5fa"/>
<circle cx="547.7" cy="296.2" r="2.5" fill="#df8cf4"/>
<circle cx="547.7" cy="302.9" r="2.5" fill="#b400e0"/>
<rect x="561.5" y="223.2" width="4.8" height="4.8" fill="#0000ff"/>
<rect x="571.9" y="223.2" width="4.8" height="4.8" fill="#5657f4"/>
<rect x="566.8" y="229.9" width="4.8" height="4.8" fill="#8ec5fa"/>
<circle cx="569.2" cy="258.8" r="2.5" fill="#47004f"/>
<circle cx="569.2" cy="297.4" r="2.5" fill="#df8cf4"/>
<circle cx="569.2" cy="301.5" r="2.5" fill="#b400e0"/>
<rect x="588.3" y="235.0" width="4.8" height="4.8" fill="#0000ff"/>
<rect x="582.8" y="239.4" width="4.8" height="4.8" fill="#8ec5fa"/>
<rect x="593.6" y="239.4" width="4.8" height="4.8" fill="#5657f4"/>
<circle cx="590.7" cy="243.7" r="2.5" fill="#47004f"/>
<circle cx="590.7" cy="299.6" r="2.5" fill="#df8cf4"/>
<circle cx="590.7" cy="312.4" r="2.5" fill="#b400e0"/>
<rect x="604.3" y="241.3" width="4.8" height="4.8" fill="#5657f4"/>
<rect x="609.6" y="242.6" width="4.8" height="4.8" fill="#0000ff"/>
<rect x="614.9" y="242.6" width="4.8" height="4.8" fill="#8ec5fa"/>
<circle cx="609.6" cy="304.9" r="2.5" fill="#47004f"/>
<circle cx="614.7" cy="306.0" r="2.5" fill="#df8cf4"/>
<circle cx="612.0" cy="311.3" r="2.5" fill="#b400e0"/>
<rect x="626.0" y="211.6" width="4.8" height="4.8" fill="#8ec5fa"/>
<rect x="631.3" y="214.8" width="4.8" height="4.8" fill="#0000ff"/>
<rect x="636.4" y="214.8" width="4.8" height="4.8" fill="#5657f4"/>
<circle cx="633.7" cy="222.5" r="2.5" fill="#47004f"/>
<circle cx="633.7" cy="264.2" r="2.5" fill="#b400e0"/>
<circle cx="633.7" cy="274.7" r="2.5" fill="#df8cf4"/>
<path d="M40.30 208.60V316.30H649.80" fill="none" stroke="#111" stroke-width="1.3"/>
<line x1="35.30" y1="316.30" x2="40.30" y2="316.30" stroke="#111" stroke-width="1.3"/>
<text x="33.20" y="319.40" font-size="8.8" font-weight="bold" text-anchor="end" fill="#111">0</text>
<line x1="35.30" y1="289.52" x2="40.30" y2="289.52" stroke="#111" stroke-width="1.3"/>
<text x="33.20" y="292.62" font-size="8.8" font-weight="bold" text-anchor="end" fill="#111">25</text>
<line x1="35.30" y1="262.75" x2="40.30" y2="262.75" stroke="#111" stroke-width="1.3"/>
<text x="33.20" y="265.85" font-size="8.8" font-weight="bold" text-anchor="end" fill="#111">50</text>
<line x1="35.30" y1="235.97" x2="40.30" y2="235.97" stroke="#111" stroke-width="1.3"/>
<text x="33.20" y="239.07" font-size="8.8" font-weight="bold" text-anchor="end" fill="#111">75</text>
<line x1="35.30" y1="209.20" x2="40.30" y2="209.20" stroke="#111" stroke-width="1.3"/>
<text x="33.20" y="212.30" font-size="8.8" font-weight="bold" text-anchor="end" fill="#111">100</text>
<line x1="54.10" y1="316.30" x2="54.10" y2="321.30" stroke="#111" stroke-width="1.3"/>
<text x="56.70" y="328.30" font-size="9.2" font-weight="bold" text-anchor="end" fill="#111" transform="rotate(-45 56.70 328.30)">N88</text>
<line x1="75.60" y1="316.30" x2="75.60" y2="321.30" stroke="#111" stroke-width="1.3"/>
<text x="78.20" y="328.30" font-size="9.2" font-weight="bold" text-anchor="end" fill="#111" transform="rotate(-45 78.20 328.30)">N133</text>
<line x1="97.10" y1="316.30" x2="97.10" y2="321.30" stroke="#111" stroke-width="1.3"/>
<text x="99.70" y="328.30" font-size="9.2" font-weight="bold" text-anchor="end" fill="#111" transform="rotate(-45 99.70 328.30)">N137</text>
<line x1="118.60" y1="316.30" x2="118.60" y2="321.30" stroke="#111" stroke-width="1.3"/>
<text x="121.20" y="328.30" font-size="9.2" font-weight="bold" text-anchor="end" fill="#111" transform="rotate(-45 121.20 328.30)">N156</text>
<line x1="140.10" y1="316.30" x2="140.10" y2="321.30" stroke="#111" stroke-width="1.3"/>
<text x="142.70" y="328.30" font-size="9.2" font-weight="bold" text-anchor="end" fill="#111" transform="rotate(-45 142.70 328.30)">N160</text>
<line x1="161.60" y1="316.30" x2="161.60" y2="321.30" stroke="#111" stroke-width="1.3"/>
<text x="164.20" y="328.30" font-size="9.2" font-weight="bold" text-anchor="end" fill="#111" transform="rotate(-45 164.20 328.30)">N185e</text>
<line x1="183.10" y1="316.30" x2="183.10" y2="321.30" stroke="#111" stroke-width="1.3"/>
<text x="185.70" y="328.30" font-size="9.2" font-weight="bold" text-anchor="end" fill="#111" transform="rotate(-45 185.70 328.30)">N185h</text>
<line x1="204.60" y1="316.30" x2="204.60" y2="321.30" stroke="#111" stroke-width="1.3"/>
<text x="207.20" y="328.30" font-size="9.2" font-weight="bold" text-anchor="end" fill="#111" transform="rotate(-45 207.20 328.30)">N197</text>
<line x1="226.10" y1="316.30" x2="226.10" y2="321.30" stroke="#111" stroke-width="1.3"/>
<text x="228.70" y="328.30" font-size="9.2" font-weight="bold" text-anchor="end" fill="#111" transform="rotate(-45 228.70 328.30)">N234</text>
<line x1="247.60" y1="316.30" x2="247.60" y2="321.30" stroke="#111" stroke-width="1.3"/>
<text x="250.20" y="328.30" font-size="9.2" font-weight="bold" text-anchor="end" fill="#111" transform="rotate(-45 250.20 328.30)">N262</text>
<line x1="269.10" y1="316.30" x2="269.10" y2="321.30" stroke="#111" stroke-width="1.3"/>
<text x="271.70" y="328.30" font-size="9.2" font-weight="bold" text-anchor="end" fill="#111" transform="rotate(-45 271.70 328.30)">N276</text>
<line x1="290.60" y1="316.30" x2="290.60" y2="321.30" stroke="#111" stroke-width="1.3"/>
<text x="293.20" y="328.30" font-size="9.2" font-weight="bold" text-anchor="end" fill="#111" transform="rotate(-45 293.20 328.30)">N295</text>
<line x1="312.10" y1="316.30" x2="312.10" y2="321.30" stroke="#111" stroke-width="1.3"/>
<text x="314.70" y="328.30" font-size="9.2" font-weight="bold" text-anchor="end" fill="#111" transform="rotate(-45 314.70 328.30)">N301</text>
<line x1="333.60" y1="316.30" x2="333.60" y2="321.30" stroke="#111" stroke-width="1.3"/>
<text x="336.20" y="328.30" font-size="9.2" font-weight="bold" text-anchor="end" fill="#111" transform="rotate(-45 336.20 328.30)">N332</text>
<line x1="355.10" y1="316.30" x2="355.10" y2="321.30" stroke="#111" stroke-width="1.3"/>
<text x="357.70" y="328.30" font-size="9.2" font-weight="bold" text-anchor="end" fill="#111" transform="rotate(-45 357.70 328.30)">N339</text>
<line x1="376.60" y1="316.30" x2="376.60" y2="321.30" stroke="#111" stroke-width="1.3"/>
<text x="379.20" y="328.30" font-size="9.2" font-weight="bold" text-anchor="end" fill="#111" transform="rotate(-45 379.20 328.30)">N355</text>
<line x1="398.10" y1="316.30" x2="398.10" y2="321.30" stroke="#111" stroke-width="1.3"/>
<text x="400.70" y="328.30" font-size="9.2" font-weight="bold" text-anchor="end" fill="#111" transform="rotate(-45 400.70 328.30)">N363</text>
<line x1="419.60" y1="316.30" x2="419.60" y2="321.30" stroke="#111" stroke-width="1.3"/>
<text x="422.20" y="328.30" font-size="9.2" font-weight="bold" text-anchor="end" fill="#111" transform="rotate(-45 422.20 328.30)">N386</text>
<line x1="441.10" y1="316.30" x2="441.10" y2="321.30" stroke="#111" stroke-width="1.3"/>
<text x="443.70" y="328.30" font-size="9.2" font-weight="bold" text-anchor="end" fill="#111" transform="rotate(-45 443.70 328.30)">N392</text>
<line x1="462.60" y1="316.30" x2="462.60" y2="321.30" stroke="#111" stroke-width="1.3"/>
<text x="465.20" y="328.30" font-size="9.2" font-weight="bold" text-anchor="end" fill="#111" transform="rotate(-45 465.20 328.30)">N398</text>
<line x1="484.10" y1="316.30" x2="484.10" y2="321.30" stroke="#111" stroke-width="1.3"/>
<text x="486.70" y="328.30" font-size="9.2" font-weight="bold" text-anchor="end" fill="#111" transform="rotate(-45 486.70 328.30)">N406</text>
<line x1="505.60" y1="316.30" x2="505.60" y2="321.30" stroke="#111" stroke-width="1.3"/>
<text x="508.20" y="328.30" font-size="9.2" font-weight="bold" text-anchor="end" fill="#111" transform="rotate(-45 508.20 328.30)">N411</text>
<line x1="527.10" y1="316.30" x2="527.10" y2="321.30" stroke="#111" stroke-width="1.3"/>
<text x="529.70" y="328.30" font-size="9.2" font-weight="bold" text-anchor="end" fill="#111" transform="rotate(-45 529.70 328.30)">N448</text>
<line x1="548.60" y1="316.30" x2="548.60" y2="321.30" stroke="#111" stroke-width="1.3"/>
<text x="551.20" y="328.30" font-size="9.2" font-weight="bold" text-anchor="end" fill="#111" transform="rotate(-45 551.20 328.30)">N462</text>
<line x1="570.10" y1="316.30" x2="570.10" y2="321.30" stroke="#111" stroke-width="1.3"/>
<text x="572.70" y="328.30" font-size="9.2" font-weight="bold" text-anchor="end" fill="#111" transform="rotate(-45 572.70 328.30)">N611</text>
<line x1="591.60" y1="316.30" x2="591.60" y2="321.30" stroke="#111" stroke-width="1.3"/>
<text x="594.20" y="328.30" font-size="9.2" font-weight="bold" text-anchor="end" fill="#111" transform="rotate(-45 594.20 328.30)">N618</text>
<line x1="613.10" y1="316.30" x2="613.10" y2="321.30" stroke="#111" stroke-width="1.3"/>
<text x="615.70" y="328.30" font-size="9.2" font-weight="bold" text-anchor="end" fill="#111" transform="rotate(-45 615.70 328.30)">N625</text>
<line x1="634.60" y1="316.30" x2="634.60" y2="321.30" stroke="#111" stroke-width="1.3"/>
<text x="637.20" y="328.30" font-size="9.2" font-weight="bold" text-anchor="end" fill="#111" transform="rotate(-45 637.20 328.30)">N637</text>
<text x="13.10" y="262.75" font-size="9.1" font-weight="bold" text-anchor="middle" fill="#111" transform="rotate(-90 13.10 262.75)">Rel. Abundance (%)</text>
<text x="244.80" y="355.50" font-size="8.8" text-anchor="middle" fill="#222">Trimer</text>
<text x="545.00" y="355.50" font-size="8.8" text-anchor="middle" fill="#222">Nanoparticle</text>
<rect x="43.7" y="358.7" width="398" height="20.8" rx="3.5" fill="none" stroke="#555" stroke-width="1"/>
<rect x="459.8" y="358.2" width="169.4" height="22" rx="3.5" fill="none" stroke="#555" stroke-width="1"/>
<circle cx="51.6" cy="368.9" r="2.7" fill="#df8cf4"/>
<text x="58.40" y="372.00" font-size="9" fill="#111">UFO</text>
<circle cx="86" cy="368.9" r="2.7" fill="#b400e0"/>
<text x="92.70" y="372.00" font-size="9" fill="#111">Swainsonine-treated UFO (SWA-UFO)</text>
<circle cx="260.3" cy="368.9" r="2.7" fill="#4a0050"/>
<text x="266.70" y="372.00" font-size="9.1" fill="#111">Kifunensine-treated UFO (KIF-UFO)</text>
<rect x="464.9" y="366" width="6.3" height="6.3" fill="#0a6cc8"/>
<text x="474.80" y="372.20" font-size="9" fill="#111">Ferritin</text>
<rect x="511.7" y="366" width="6.3" height="6.3" fill="#8ec5fa"/>
<text x="522.00" y="372.20" font-size="9" fill="#111">E2p-L4P</text>
<rect x="566" y="366" width="6.3" height="6.3" fill="#0000f0"/>
<text x="575.40" y="372.20" font-size="9" fill="#111">I3-01v9-L7P</text>
<text x="63.10" y="423.60" font-size="7.9" text-anchor="middle" fill="#333">BG505 UFO-E2p-L4P</text>
<text x="63.10" y="432.30" font-size="7.9" text-anchor="middle" fill="#333">with endo H</text>
<line x1="26.60" y1="435.90" x2="26.60" y2="507.90" stroke="#222" stroke-width="0.9"/>
<line x1="24.80" y1="507.90" x2="26.60" y2="507.90" stroke="#222" stroke-width="0.9"/>
<text x="24.00" y="510.60" font-size="8" font-weight="bold" text-anchor="end" fill="#111">0</text>
<line x1="24.80" y1="490.02" x2="26.60" y2="490.02" stroke="#222" stroke-width="0.9"/>
<text x="24.00" y="492.72" font-size="8" font-weight="bold" text-anchor="end" fill="#111">50</text>
<line x1="24.80" y1="472.15" x2="26.60" y2="472.15" stroke="#222" stroke-width="0.9"/>
<text x="24.00" y="474.85" font-size="8" font-weight="bold" text-anchor="end" fill="#111">100</text>
<line x1="24.80" y1="454.27" x2="26.60" y2="454.27" stroke="#222" stroke-width="0.9"/>
<text x="24.00" y="456.97" font-size="8" font-weight="bold" text-anchor="end" fill="#111">150</text>
<line x1="24.80" y1="436.40" x2="26.60" y2="436.40" stroke="#222" stroke-width="0.9"/>
<text x="24.00" y="439.10" font-size="8" font-weight="bold" text-anchor="end" fill="#111">200</text>
<line x1="26.60" y1="507.90" x2="97.90" y2="507.90" stroke="#000" stroke-width="1.8"/>
<line x1="26.60" y1="507.90" x2="26.60" y2="510.40" stroke="#111" stroke-width="1"/>
<text x="26.60" y="518.10" font-size="7.6" font-weight="bold" text-anchor="middle" fill="#111">5</text>
<line x1="50.20" y1="507.90" x2="50.20" y2="510.40" stroke="#111" stroke-width="1"/>
<text x="50.20" y="518.10" font-size="7.6" font-weight="bold" text-anchor="middle" fill="#111">10</text>
<line x1="73.80" y1="507.90" x2="73.80" y2="510.40" stroke="#111" stroke-width="1"/>
<text x="73.80" y="518.10" font-size="7.6" font-weight="bold" text-anchor="middle" fill="#111">15</text>
<line x1="97.40" y1="507.90" x2="97.40" y2="510.40" stroke="#111" stroke-width="1"/>
<text x="97.40" y="518.10" font-size="7.6" font-weight="bold" text-anchor="middle" fill="#111">20</text>
<text x="62.00" y="525.50" font-size="6.9" font-weight="bold" text-anchor="middle" fill="#111">Volume (ml)</text>
<text x="6.00" y="470.65" font-size="7.6" font-weight="bold" text-anchor="middle" fill="#111" transform="rotate(-90 6.00 470.65)">UV<tspan font-size="5.2" dy="1.9">280</tspan></text>
<text x="70.90" y="452.60" font-size="7.8" fill="#222">endo H</text>
<path d="M26.60 507.69 L26.84 507.69 L27.07 507.69 L27.31 507.69 L27.54 507.69 L27.78 507.69 L28.02 507.69 L28.25 507.69 L28.49 507.69 L28.72 507.69 L28.96 507.69 L29.20 507.69 L29.43 507.69 L29.67 507.69 L29.90 507.69 L30.14 507.69 L30.38 507.69 L30.61 507.69 L30.85 507.69 L31.08 507.69 L31.32 507.69 L31.56 507.69 L31.79 507.69 L32.03 507.69 L32.26 507.69 L32.50 507.69 L32.74 507.69 L32.97 507.69 L33.21 507.69 L33.44 507.69 L33.68 507.69 L33.92 507.69 L34.15 507.69 L34.39 507.69 L34.62 507.69 L34.86 507.69 L35.10 507.69 L35.33 507.69 L35.57 507.69 L35.80 507.69 L36.04 507.69 L36.28 507.69 L36.51 507.69 L36.75 507.69 L36.98 507.69 L37.22 507.69 L37.46 507.69 L37.69 507.69 L37.93 507.69 L38.16 507.68 L38.40 507.68 L38.64 507.68 L38.87 507.68 L39.11 507.68 L39.34 507.68 L39.58 507.68 L39.82 507.68 L40.05 507.67 L40.29 507.67 L40.52 507.66 L40.76 507.65 L41.00 507.64 L41.23 507.62 L41.47 507.60 L41.70 507.57 L41.94 507.52 L42.18 507.41 L42.41 507.13 L42.65 506.44 L42.88 504.83 L43.12 501.53 L43.36 495.62 L43.59 486.56 L43.83 474.91 L44.06 462.75 L44.30 453.31 L44.54 449.64 L44.77 450.01 L45.01 451.43 L45.24 453.81 L45.48 457.02 L45.72 460.88 L45.95 465.18 L46.19 469.73 L46.42 474.34 L46.66 478.82 L46.90 483.05 L47.13 486.92 L47.37 490.36 L47.60 493.35 L47.84 495.88 L48.08 497.99 L48.31 499.68 L48.55 501.02 L48.78 502.07 L49.02 502.87 L49.26 503.49 L49.49 503.95 L49.73 504.31 L49.96 504.59 L50.20 504.82 L50.44 505.01 L50.67 505.17 L50.91 505.32 L51.14 505.46 L51.38 505.60 L51.62 505.72 L51.85 505.85 L52.09 505.97 L52.32 506.09 L52.56 506.21 L52.80 506.33 L53.03 506.44 L53.27 506.54 L53.50 506.64 L53.74 506.74 L53.98 506.83 L54.21 506.91 L54.45 506.99 L54.68 507.06 L54.92 507.13 L55.16 507.19 L55.39 507.25 L55.63 507.30 L55.86 507.35 L56.10 507.39 L56.34 507.43 L56.57 507.46 L56.81 507.49 L57.04 507.52 L57.28 507.54 L57.52 507.56 L57.75 507.58 L57.99 507.60 L58.22 507.61 L58.46 507.62 L58.70 507.63 L58.93 507.64 L59.17 507.65 L59.40 507.66 L59.64 507.66 L59.88 507.67 L60.11 507.67 L60.35 507.67 L60.58 507.67 L60.82 507.68 L61.06 507.68 L61.29 507.68 L61.53 507.68 L61.76 507.68 L62.00 507.68 L62.24 507.68 L62.47 507.68 L62.71 507.68 L62.94 507.68 L63.18 507.68 L63.42 507.68 L63.65 507.68 L63.89 507.69 L64.12 507.69 L64.36 507.69 L64.60 507.69 L64.83 507.69 L65.07 507.69 L65.30 507.69 L65.54 507.69 L65.78 507.69 L66.01 507.69 L66.25 507.69 L66.48 507.69 L66.72 507.69 L66.96 507.69 L67.19 507.69 L67.43 507.69 L67.66 507.69 L67.90 507.69 L68.14 507.69 L68.37 507.69 L68.61 507.69 L68.84 507.69 L69.08 507.69 L69.32 507.69 L69.55 507.69 L69.79 507.69 L70.02 507.69 L70.26 507.69 L70.50 507.69 L70.73 507.69 L70.97 507.69 L71.20 507.69 L71.44 507.69 L71.68 507.69 L71.91 507.69 L72.15 507.69 L72.38 507.69 L72.62 507.68 L72.86 507.68 L73.09 507.68 L73.33 507.68 L73.56 507.68 L73.80 507.68 L74.04 507.67 L74.27 507.66 L74.51 507.65 L74.74 507.64 L74.98 507.62 L75.22 507.59 L75.45 507.56 L75.69 507.52 L75.92 507.46 L76.16 507.40 L76.40 507.32 L76.63 507.23 L76.87 507.14 L77.10 507.03 L77.34 506.93 L77.58 506.82 L77.81 506.72 L78.05 506.62 L78.28 506.54 L78.52 506.48 L78.76 506.44 L78.99 506.42 L79.23 506.42 L79.46 506.44 L79.70 506.45 L79.94 506.44 L80.17 506.35 L80.41 506.13 L80.64 505.70 L80.88 504.94 L81.12 503.74 L81.35 501.96 L81.59 499.46 L81.82 496.16 L82.06 492.02 L82.30 487.09 L82.53 481.54 L82.77 475.68 L83.00 469.90 L83.24 464.69 L83.48 460.53 L83.71 457.85 L83.95 456.92 L84.18 457.62 L84.42 459.66 L84.66 462.89 L84.89 467.04 L85.13 471.81 L85.36 476.89 L85.60 481.98 L85.84 486.82 L86.07 491.20 L86.31 495.03 L86.54 498.23 L86.78 500.82 L87.02 502.83 L87.25 504.35 L87.49 505.46 L87.72 506.24 L87.96 506.77 L88.20 507.12 L88.43 507.35 L88.67 507.49 L88.90 507.57 L89.14 507.62 L89.38 507.65 L89.61 507.67 L89.85 507.68 L90.08 507.68 L90.32 507.68 L90.56 507.68 L90.79 507.69 L91.03 507.69 L91.26 507.69 L91.50 507.69 L91.74 507.69 L91.97 507.69 L92.21 507.69 L92.44 507.68 L92.68 507.68 L92.92 507.68 L93.15 507.68 L93.39 507.67 L93.62 507.66 L93.86 507.64 L94.10 507.62 L94.33 507.57 L94.57 507.52 L94.80 507.44 L95.04 507.34 L95.28 507.22 L95.51 507.08 L95.75 506.93 L95.98 506.78 L96.22 506.64 L96.46 506.53 L96.69 506.46 L96.93 506.43 L97.16 506.47 L97.40 506.58" fill="none" stroke="#000" stroke-width="1.5" stroke-linejoin="round"/>
<text x="157.20" y="423.20" font-size="7.9" text-anchor="middle" fill="#333">BG505 UFO-10GS-I3-</text>
<text x="157.20" y="432.30" font-size="7.9" text-anchor="middle" fill="#333">01v9-L7P with endo H</text>
<line x1="121.20" y1="435.50" x2="121.20" y2="507.50" stroke="#222" stroke-width="0.9"/>
<line x1="119.40" y1="507.50" x2="121.20" y2="507.50" stroke="#222" stroke-width="0.9"/>
<text x="118.60" y="510.20" font-size="8" font-weight="bold" text-anchor="end" fill="#111">0</text>
<line x1="119.40" y1="489.62" x2="121.20" y2="489.62" stroke="#222" stroke-width="0.9"/>
<text x="118.60" y="492.32" font-size="8" font-weight="bold" text-anchor="end" fill="#111">50</text>
<line x1="119.40" y1="471.75" x2="121.20" y2="471.75" stroke="#222" stroke-width="0.9"/>
<text x="118.60" y="474.45" font-size="8" font-weight="bold" text-anchor="end" fill="#111">100</text>
<line x1="119.40" y1="453.88" x2="121.20" y2="453.88" stroke="#222" stroke-width="0.9"/>
<text x="118.60" y="456.57" font-size="8" font-weight="bold" text-anchor="end" fill="#111">150</text>
<line x1="119.40" y1="436.00" x2="121.20" y2="436.00" stroke="#222" stroke-width="0.9"/>
<text x="118.60" y="438.70" font-size="8" font-weight="bold" text-anchor="end" fill="#111">200</text>
<line x1="121.20" y1="507.50" x2="192.20" y2="507.50" stroke="#000" stroke-width="1.8"/>
<line x1="121.20" y1="507.50" x2="121.20" y2="510.00" stroke="#111" stroke-width="1"/>
<text x="121.20" y="517.70" font-size="7.6" font-weight="bold" text-anchor="middle" fill="#111">5</text>
<line x1="144.70" y1="507.50" x2="144.70" y2="510.00" stroke="#111" stroke-width="1"/>
<text x="144.70" y="517.70" font-size="7.6" font-weight="bold" text-anchor="middle" fill="#111">10</text>
<line x1="168.20" y1="507.50" x2="168.20" y2="510.00" stroke="#111" stroke-width="1"/>
<text x="168.20" y="517.70" font-size="7.6" font-weight="bold" text-anchor="middle" fill="#111">15</text>
<line x1="191.70" y1="507.50" x2="191.70" y2="510.00" stroke="#111" stroke-width="1"/>
<text x="191.70" y="517.70" font-size="7.6" font-weight="bold" text-anchor="middle" fill="#111">20</text>
<text x="156.45" y="525.10" font-size="6.9" font-weight="bold" text-anchor="middle" fill="#111">Volume (ml)</text>
<text x="100.60" y="470.25" font-size="7.6" font-weight="bold" text-anchor="middle" fill="#111" transform="rotate(-90 100.60 470.25)">UV<tspan font-size="5.2" dy="1.9">280</tspan></text>
<text x="167.60" y="453.00" font-size="7.8" fill="#222">endo H</text>
<path d="M121.20 507.29 L121.44 507.29 L121.67 507.29 L121.91 507.29 L122.14 507.29 L122.38 507.29 L122.61 507.29 L122.84 507.29 L123.08 507.29 L123.31 507.29 L123.55 507.29 L123.78 507.29 L124.02 507.29 L124.25 507.29 L124.49 507.29 L124.72 507.29 L124.96 507.29 L125.19 507.29 L125.43 507.29 L125.66 507.29 L125.90 507.29 L126.13 507.29 L126.37 507.29 L126.60 507.29 L126.84 507.29 L127.07 507.29 L127.31 507.29 L127.54 507.29 L127.78 507.29 L128.01 507.29 L128.25 507.29 L128.48 507.29 L128.72 507.29 L128.95 507.29 L129.19 507.29 L129.42 507.29 L129.66 507.29 L129.89 507.29 L130.13 507.29 L130.36 507.29 L130.60 507.29 L130.83 507.29 L131.07 507.29 L131.30 507.29 L131.54 507.29 L131.77 507.29 L132.01 507.29 L132.24 507.29 L132.48 507.28 L132.71 507.28 L132.95 507.28 L133.18 507.28 L133.42 507.28 L133.65 507.28 L133.89 507.28 L134.12 507.28 L134.36 507.27 L134.59 507.27 L134.83 507.26 L135.06 507.25 L135.30 507.24 L135.53 507.23 L135.77 507.21 L136.00 507.18 L136.24 507.15 L136.47 507.10 L136.71 507.02 L136.94 506.84 L137.18 506.34 L137.41 505.06 L137.65 502.06 L137.88 496.06 L138.12 485.93 L138.35 471.82 L138.59 456.20 L138.82 443.59 L139.06 438.60 L139.30 439.11 L139.53 441.01 L139.77 444.16 L140.00 448.37 L140.24 453.37 L140.47 458.89 L140.71 464.64 L140.94 470.36 L141.18 475.82 L141.41 480.86 L141.65 485.36 L141.88 489.27 L142.12 492.56 L142.35 495.28 L142.59 497.46 L142.82 499.16 L143.06 500.47 L143.29 501.45 L143.53 502.18 L143.76 502.73 L144.00 503.14 L144.23 503.46 L144.47 503.71 L144.70 503.92 L144.94 504.10 L145.17 504.27 L145.41 504.43 L145.64 504.59 L145.88 504.74 L146.11 504.90 L146.35 505.05 L146.58 505.20 L146.82 505.34 L147.05 505.48 L147.29 505.62 L147.52 505.76 L147.76 505.89 L147.99 506.01 L148.23 506.13 L148.46 506.24 L148.70 506.34 L148.93 506.44 L149.17 506.52 L149.40 506.61 L149.64 506.68 L149.87 506.75 L150.11 506.82 L150.34 506.87 L150.58 506.93 L150.81 506.97 L151.05 507.01 L151.28 507.05 L151.52 507.08 L151.75 507.11 L151.99 507.14 L152.22 507.16 L152.46 507.18 L152.69 507.20 L152.93 507.21 L153.16 507.22 L153.40 507.23 L153.63 507.24 L153.87 507.25 L154.10 507.26 L154.34 507.26 L154.57 507.27 L154.81 507.27 L155.04 507.27 L155.28 507.27 L155.51 507.28 L155.75 507.28 L155.98 507.28 L156.22 507.28 L156.45 507.28 L156.69 507.28 L156.92 507.28 L157.16 507.28 L157.39 507.28 L157.63 507.28 L157.86 507.28 L158.10 507.28 L158.33 507.29 L158.57 507.29 L158.80 507.29 L159.04 507.29 L159.27 507.29 L159.51 507.29 L159.74 507.29 L159.98 507.29 L160.21 507.29 L160.45 507.29 L160.68 507.29 L160.92 507.29 L161.15 507.29 L161.39 507.29 L161.62 507.29 L161.86 507.29 L162.09 507.29 L162.33 507.29 L162.56 507.29 L162.80 507.29 L163.03 507.29 L163.27 507.29 L163.50 507.29 L163.74 507.29 L163.97 507.29 L164.21 507.29 L164.44 507.29 L164.68 507.29 L164.91 507.29 L165.15 507.29 L165.38 507.29 L165.62 507.29 L165.85 507.29 L166.09 507.29 L166.32 507.29 L166.56 507.29 L166.79 507.29 L167.03 507.28 L167.26 507.28 L167.50 507.28 L167.73 507.28 L167.97 507.28 L168.20 507.28 L168.44 507.27 L168.67 507.26 L168.91 507.25 L169.14 507.24 L169.38 507.22 L169.61 507.19 L169.85 507.16 L170.08 507.12 L170.32 507.06 L170.55 507.00 L170.79 506.92 L171.02 506.83 L171.26 506.74 L171.49 506.63 L171.73 506.53 L171.96 506.42 L172.20 506.32 L172.43 506.22 L172.67 506.14 L172.90 506.08 L173.14 506.04 L173.37 506.03 L173.61 506.04 L173.84 506.07 L174.08 506.11 L174.31 506.13 L174.55 506.11 L174.78 505.98 L175.02 505.68 L175.25 505.10 L175.49 504.13 L175.72 502.62 L175.96 500.42 L176.19 497.42 L176.43 493.55 L176.66 488.82 L176.90 483.39 L177.13 477.54 L177.37 471.70 L177.60 466.36 L177.84 462.07 L178.07 459.27 L178.31 458.31 L178.54 458.98 L178.78 460.95 L179.01 464.06 L179.25 468.07 L179.48 472.68 L179.72 477.58 L179.95 482.49 L180.19 487.15 L180.42 491.38 L180.66 495.07 L180.89 498.16 L181.13 500.66 L181.36 502.60 L181.60 504.07 L181.83 505.13 L182.07 505.89 L182.30 506.40 L182.54 506.74 L182.77 506.96 L183.01 507.10 L183.24 507.18 L183.48 507.23 L183.71 507.25 L183.95 507.27 L184.18 507.28 L184.42 507.28 L184.65 507.28 L184.89 507.28 L185.12 507.29 L185.36 507.29 L185.59 507.29 L185.83 507.29 L186.06 507.29 L186.30 507.29 L186.53 507.29 L186.77 507.28 L187.00 507.28 L187.24 507.28 L187.47 507.28 L187.71 507.27 L187.94 507.26 L188.18 507.24 L188.41 507.22 L188.65 507.17 L188.88 507.12 L189.12 507.04 L189.35 506.94 L189.59 506.82 L189.82 506.68 L190.06 506.53 L190.29 506.38 L190.53 506.24 L190.76 506.13 L191.00 506.06 L191.23 506.03 L191.47 506.07 L191.70 506.18" fill="none" stroke="#000" stroke-width="1.5" stroke-linejoin="round"/>
<defs><filter id="bl" x="-20%" y="-50%" width="140%" height="200%"><feGaussianBlur stdDeviation="0.5"/></filter><filter id="bl2" x="-20%" y="-100%" width="140%" height="300%"><feGaussianBlur stdDeviation="0.8"/></filter><filter id="blp" x="-50%" y="-50%" width="200%" height="200%"><feGaussianBlur stdDeviation="0.9"/></filter><filter id="blq" x="-50%" y="-50%" width="200%" height="200%"><feGaussianBlur stdDeviation="1.1"/></filter><filter id="bls" x="-100%" y="-100%" width="300%" height="300%"><feGaussianBlur stdDeviation="0.35"/></filter><filter id="bl3" x="-50%" y="-50%" width="200%" height="200%"><feGaussianBlur stdDeviation="1.6"/></filter><filter id="noise" x="0" y="0" width="100%" height="100%"><feTurbulence type="fractalNoise" baseFrequency="0.9" numOctaves="2" seed="3"/><feColorMatrix type="matrix" values="0 0 0 0 0  0 0 0 0 0  0 0 0 0 0  0 0 0 -0.9 0.55"/></filter><filter id="pnoise" x="-30%" y="-30%" width="160%" height="160%"><feTurbulence type="fractalNoise" baseFrequency="1.1" numOctaves="1" seed="9" result="t"/><feColorMatrix in="t" type="matrix" values="0 0 0 0 1  0 0 0 0 1  0 0 0 0 1  0 0 0 1.6 -0.55" result="w"/><feComposite in="w" in2="SourceGraphic" operator="in" result="wi"/><feMerge><feMergeNode in="SourceGraphic"/><feMergeNode in="wi"/></feMerge></filter><radialGradient id="emg1" cx="0.7" cy="0.5" r="0.85"><stop offset="0" stop-color="#c4c4c4"/><stop offset="0.5" stop-color="#b2b2b2"/><stop offset="1" stop-color="#929292"/></radialGradient><radialGradient id="emg2" cx="0.6" cy="0.6" r="0.8"><stop offset="0" stop-color="#c0c0c0"/><stop offset="0.55" stop-color="#aeaeae"/><stop offset="1" stop-color="#8e8e8e"/></radialGradient><radialGradient id="part" cx="0.5" cy="0.5" r="0.5"><stop offset="0" stop-color="#8a8a8a"/><stop offset="0.55" stop-color="#7a7a7a"/><stop offset="0.8" stop-color="#5f5f5f"/><stop offset="1" stop-color="#8f8f8f" stop-opacity="0"/></radialGradient></defs>
<rect x="230.3" y="429" width="58.90" height="94.10" fill="#d5d5d5"/>
<rect x="231.70" y="429" width="6.8" height="94.10" fill="#c6c6c6" filter="url(#blp)"/>
<rect x="231.80" y="435.10" width="6.6" height="2.1" fill="#202020" opacity="0.55" filter="url(#bl)"/>
<rect x="231.80" y="444.60" width="6.6" height="2.1" fill="#202020" opacity="0.7" filter="url(#bl)"/>
<rect x="231.80" y="453.40" width="6.6" height="2.1" fill="#202020" opacity="0.75" filter="url(#bl)"/>
<rect x="231.80" y="459.20" width="6.6" height="2.1" fill="#202020" opacity="0.9" filter="url(#bl)"/>
<rect x="231.80" y="470.90" width="6.6" height="2.1" fill="#202020" opacity="0.95" filter="url(#bl)"/>
<rect x="231.80" y="479.80" width="6.6" height="2.1" fill="#202020" opacity="0.95" filter="url(#bl)"/>
<rect x="231.80" y="492.30" width="6.6" height="2.1" fill="#202020" opacity="0.95" filter="url(#bl)"/>
<rect x="231.80" y="498.30" width="6.6" height="2.1" fill="#202020" opacity="0.95" filter="url(#bl)"/>
<rect x="231.80" y="509.30" width="6.6" height="2.1" fill="#202020" opacity="0.95" filter="url(#bl)"/>
<rect x="231.80" y="518.50" width="6.6" height="2.1" fill="#202020" opacity="0.95" filter="url(#bl)"/>
<rect x="261.90" y="429" width="6.8" height="94.10" fill="#c6c6c6" filter="url(#blp)"/>
<rect x="262.00" y="435.10" width="6.6" height="2.1" fill="#202020" opacity="0.55" filter="url(#bl)"/>
<rect x="262.00" y="444.60" width="6.6" height="2.1" fill="#202020" opacity="0.7" filter="url(#bl)"/>
<rect x="262.00" y="453.40" width="6.6" height="2.1" fill="#202020" opacity="0.75" filter="url(#bl)"/>
<rect x="262.00" y="459.20" width="6.6" height="2.1" fill="#202020" opacity="0.9" filter="url(#bl)"/>
<rect x="262.00" y="470.90" width="6.6" height="2.1" fill="#202020" opacity="0.95" filter="url(#bl)"/>
<rect x="262.00" y="479.80" width="6.6" height="2.1" fill="#202020" opacity="0.95" filter="url(#bl)"/>
<rect x="262.00" y="492.30" width="6.6" height="2.1" fill="#202020" opacity="0.95" filter="url(#bl)"/>
<rect x="262.00" y="498.30" width="6.6" height="2.1" fill="#202020" opacity="0.95" filter="url(#bl)"/>
<rect x="262.00" y="509.30" width="6.6" height="2.1" fill="#202020" opacity="0.95" filter="url(#bl)"/>
<rect x="262.00" y="518.50" width="6.6" height="2.1" fill="#202020" opacity="0.95" filter="url(#bl)"/>
<rect x="241.10" y="445.10" width="7.20" height="3.00" rx="1" fill="#1e1e1e" opacity="0.88" filter="url(#bl)"/>
<rect x="252.00" y="447.90" width="6.80" height="3.60" rx="1" fill="#1e1e1e" opacity="0.82" filter="url(#bl)"/>
<rect x="270.90" y="443.20" width="6.80" height="2.80" rx="1" fill="#1e1e1e" opacity="0.88" filter="url(#bl)"/>
<rect x="281.20" y="446.30" width="6.80" height="3.60" rx="1" fill="#1e1e1e" opacity="0.82" filter="url(#bl)"/>
<text x="211.50" y="428.20" font-size="6.4" font-weight="bold" fill="#111">kDa</text>
<text x="222.30" y="438.40" font-size="6.4" font-weight="bold" text-anchor="end" fill="#111">250</text>
<line x1="224.20" y1="436.10" x2="229.80" y2="436.10" stroke="#222" stroke-width="0.8"/>
<text x="222.30" y="447.90" font-size="6.4" font-weight="bold" text-anchor="end" fill="#111">150</text>
<line x1="224.20" y1="445.60" x2="229.80" y2="445.60" stroke="#222" stroke-width="0.8"/>
<text x="222.30" y="456.70" font-size="6.4" font-weight="bold" text-anchor="end" fill="#111">100</text>
<line x1="224.20" y1="454.40" x2="229.80" y2="454.40" stroke="#222" stroke-width="0.8"/>
<text x="222.30" y="462.50" font-size="6.4" font-weight="bold" text-anchor="end" fill="#111">75</text>
<line x1="224.20" y1="460.20" x2="229.80" y2="460.20" stroke="#222" stroke-width="0.8"/>
<text x="222.30" y="474.20" font-size="6.4" font-weight="bold" text-anchor="end" fill="#111">50</text>
<line x1="224.20" y1="471.90" x2="229.80" y2="471.90" stroke="#b0b0b0" stroke-width="0.8"/>
<text x="222.30" y="483.10" font-size="6.4" font-weight="bold" text-anchor="end" fill="#111">37</text>
<line x1="224.20" y1="480.80" x2="229.80" y2="480.80" stroke="#b0b0b0" stroke-width="0.8"/>
<text x="222.30" y="495.60" font-size="6.4" font-weight="bold" text-anchor="end" fill="#111">25</text>
<line x1="224.20" y1="493.30" x2="229.80" y2="493.30" stroke="#222" stroke-width="0.8"/>
<text x="222.30" y="501.60" font-size="6.4" font-weight="bold" text-anchor="end" fill="#111">20</text>
<line x1="224.20" y1="499.30" x2="229.80" y2="499.30" stroke="#222" stroke-width="0.8"/>
<text x="222.30" y="512.60" font-size="6.4" font-weight="bold" text-anchor="end" fill="#111">15</text>
<line x1="224.20" y1="510.30" x2="229.80" y2="510.30" stroke="#222" stroke-width="0.8"/>
<text x="222.30" y="521.80" font-size="6.4" font-weight="bold" text-anchor="end" fill="#111">10</text>
<line x1="224.20" y1="519.50" x2="229.80" y2="519.50" stroke="#222" stroke-width="0.8"/>
<text x="245.20" y="428.00" font-size="6.8" text-anchor="end" fill="#222" transform="rotate(45 245.20 428.00)">I3-01v9 (WT)</text>
<text x="255.90" y="428.00" font-size="6.8" text-anchor="end" fill="#222" transform="rotate(45 255.90 428.00)">I3-01v9 (endo H)</text>
<text x="274.80" y="428.00" font-size="6.8" text-anchor="end" fill="#222" transform="rotate(45 274.80 428.00)">E2p (WT)</text>
<text x="285.10" y="428.00" font-size="6.8" text-anchor="end" fill="#222" transform="rotate(45 285.10 428.00)">E2p (endo H)</text>
<svg x="306.1" y="427.5" width="71.10" height="95.90" viewBox="0 0 71.10 95.90" overflow="hidden">
<rect width="71.10" height="95.90" fill="url(#emg1)"/>
<rect width="71.10" height="95.90" fill="#000" filter="url(#noise)" opacity="0.12"/>
<ellipse cx="35.90" cy="23.50" rx="4.00" ry="8.00" fill="#5a5a5a" opacity="0.35" filter="url(#bl3)"/>
<ellipse cx="20.90" cy="66.50" rx="5.00" ry="7.00" fill="#5a5a5a" opacity="0.25" filter="url(#bl3)"/>
<ellipse cx="5.90" cy="2.50" rx="7.00" ry="5.00" fill="#5a5a5a" opacity="0.5" filter="url(#bl3)"/>
<g opacity="1.0">
<circle cx="36.00" cy="16.90" r="6.80" fill="#6a6a6a" opacity="0.35" filter="url(#bl3)"/>
<circle cx="36.00" cy="16.90" r="4.23" fill="#727272" filter="url(#blp)"/>
<circle cx="39.53" cy="16.73" r="1.66" fill="#434343" opacity="0.6" filter="url(#bl)"/>
<circle cx="37.78" cy="19.32" r="1.66" fill="#434343" opacity="0.6" filter="url(#bl)"/>
<circle cx="35.93" cy="20.38" r="1.56" fill="#434343" opacity="0.6" filter="url(#bl)"/>
<circle cx="34.28" cy="19.22" r="1.65" fill="#434343" opacity="0.6" filter="url(#bl)"/>
<circle cx="32.86" cy="17.79" r="1.48" fill="#434343" opacity="0.6" filter="url(#bl)"/>
<circle cx="32.73" cy="16.12" r="1.60" fill="#434343" opacity="0.6" filter="url(#bl)"/>
<circle cx="33.76" cy="14.70" r="1.61" fill="#434343" opacity="0.6" filter="url(#bl)"/>
<circle cx="37.30" cy="14.01" r="1.38" fill="#434343" opacity="0.6" filter="url(#bl)"/>
<circle cx="39.27" cy="15.32" r="1.61" fill="#434343" opacity="0.6" filter="url(#bl)"/>
<circle cx="36.26" cy="14.28" r="0.56" fill="#4a4a4a" opacity="0.75" filter="url(#bls)"/>
<circle cx="36.37" cy="19.30" r="0.76" fill="#ababab" opacity="0.75" filter="url(#bls)"/>
<circle cx="34.10" cy="14.56" r="0.72" fill="#4a4a4a" opacity="0.75" filter="url(#bls)"/>
<circle cx="36.03" cy="15.45" r="0.73" fill="#9a9a9a" opacity="0.75" filter="url(#bls)"/>
<circle cx="36.35" cy="18.83" r="0.67" fill="#ababab" opacity="0.75" filter="url(#bls)"/>
<circle cx="32.87" cy="18.23" r="0.61" fill="#a6a6a6" opacity="0.75" filter="url(#bls)"/>
<circle cx="38.98" cy="17.19" r="0.76" fill="#ababab" opacity="0.75" filter="url(#bls)"/>
<circle cx="36.29" cy="14.58" r="0.77" fill="#ababab" opacity="0.75" filter="url(#bls)"/>
<circle cx="37.91" cy="18.23" r="0.53" fill="#505050" opacity="0.75" filter="url(#bls)"/>
<circle cx="37.92" cy="17.24" r="0.57" fill="#4a4a4a" opacity="0.75" filter="url(#bls)"/>
<circle cx="33.46" cy="16.62" r="0.55" fill="#9a9a9a" opacity="0.75" filter="url(#bls)"/>
<circle cx="34.49" cy="18.42" r="0.60" fill="#4a4a4a" opacity="0.75" filter="url(#bls)"/>
<circle cx="36.28" cy="17.61" r="0.61" fill="#4a4a4a" opacity="0.75" filter="url(#bls)"/>
<circle cx="35.03" cy="14.09" r="0.71" fill="#ababab" opacity="0.75" filter="url(#bls)"/>
<circle cx="32.66" cy="16.17" r="0.82" fill="#a6a6a6" opacity="0.75" filter="url(#bls)"/>
<circle cx="32.57" cy="16.83" r="0.54" fill="#ababab" opacity="0.75" filter="url(#bls)"/>
<circle cx="33.80" cy="17.06" r="0.74" fill="#9a9a9a" opacity="0.75" filter="url(#bls)"/>
<circle cx="35.16" cy="15.80" r="0.61" fill="#a6a6a6" opacity="0.75" filter="url(#bls)"/>
<circle cx="38.72" cy="18.41" r="0.72" fill="#ababab" opacity="0.75" filter="url(#bls)"/>
<circle cx="35.56" cy="19.87" r="0.62" fill="#a6a6a6" opacity="0.75" filter="url(#bls)"/>
<circle cx="37.54" cy="17.73" r="0.75" fill="#505050" opacity="0.75" filter="url(#bls)"/>
<circle cx="38.04" cy="16.66" r="0.71" fill="#a6a6a6" opacity="0.75" filter="url(#bls)"/>
<circle cx="35.66" cy="15.82" r="0.81" fill="#505050" opacity="0.75" filter="url(#bls)"/>
<circle cx="35.44" cy="18.21" r="0.60" fill="#ababab" opacity="0.75" filter="url(#bls)"/>
<circle cx="37.27" cy="16.06" r="0.80" fill="#505050" opacity="0.75" filter="url(#bls)"/>
<circle cx="36.00" cy="30.90" r="6.80" fill="#6a6a6a" opacity="0.35" filter="url(#bl3)"/>
<circle cx="36.00" cy="30.90" r="4.23" fill="#727272" filter="url(#blp)"/>
<circle cx="39.10" cy="30.25" r="1.70" fill="#434343" opacity="0.6" filter="url(#bl)"/>
<circle cx="38.45" cy="33.24" r="1.71" fill="#434343" opacity="0.6" filter="url(#bl)"/>
<circle cx="36.15" cy="33.86" r="1.48" fill="#434343" opacity="0.6" filter="url(#bl)"/>
<circle cx="34.90" cy="33.54" r="1.65" fill="#434343" opacity="0.6" filter="url(#bl)"/>
<circle cx="32.80" cy="31.11" r="1.50" fill="#434343" opacity="0.6" filter="url(#bl)"/>
<circle cx="33.28" cy="29.49" r="1.55" fill="#434343" opacity="0.6" filter="url(#bl)"/>
<circle cx="35.30" cy="27.93" r="1.34" fill="#434343" opacity="0.6" filter="url(#bl)"/>
<circle cx="36.68" cy="27.91" r="1.47" fill="#434343" opacity="0.6" filter="url(#bl)"/>
<circle cx="38.68" cy="29.08" r="1.61" fill="#434343" opacity="0.6" filter="url(#bl)"/>
<circle cx="35.98" cy="30.15" r="0.83" fill="#ababab" opacity="0.75" filter="url(#bls)"/>
<circle cx="34.82" cy="32.19" r="0.68" fill="#505050" opacity="0.75" filter="url(#bls)"/>
<circle cx="36.97" cy="28.63" r="0.59" fill="#505050" opacity="0.75" filter="url(#bls)"/>
<circle cx="36.71" cy="31.52" r="0.63" fill="#9a9a9a" opacity="0.75" filter="url(#bls)"/>
<circle cx="37.61" cy="33.42" r="0.59" fill="#a6a6a6" opacity="0.75" filter="url(#bls)"/>
<circle cx="37.27" cy="33.56" r="0.60" fill="#4a4a4a" opacity="0.75" filter="url(#bls)"/>
<circle cx="37.00" cy="30.64" r="0.67" fill="#4a4a4a" opacity="0.75" filter="url(#bls)"/>
<circle cx="33.31" cy="32.82" r="0.62" fill="#505050" opacity="0.75" filter="url(#bls)"/>
<circle cx="35.65" cy="30.34" r="0.52" fill="#a6a6a6" opacity="0.75" filter="url(#bls)"/>
<circle cx="37.67" cy="30.34" r="0.54" fill="#a6a6a6" opacity="0.75" filter="url(#bls)"/>
<circle cx="33.44" cy="31.65" r="0.59" fill="#4a4a4a" opacity="0.75" filter="url(#bls)"/>
<circle cx="37.63" cy="31.57" r="0.81" fill="#505050" opacity="0.75" filter="url(#bls)"/>
<circle cx="33.52" cy="29.76" r="0.61" fill="#505050" opacity="0.75" filter="url(#bls)"/>
<circle cx="36.13" cy="33.59" r="0.53" fill="#4a4a4a" opacity="0.75" filter="url(#bls)"/>
<circle cx="37.37" cy="28.01" r="0.73" fill="#4a4a4a" opacity="0.75" filter="url(#bls)"/>
<circle cx="33.34" cy="29.67" r="0.65" fill="#4a4a4a" opacity="0.75" filter="url(#bls)"/>
<circle cx="34.30" cy="30.73" r="0.75" fill="#ababab" opacity="0.75" filter="url(#bls)"/>
<circle cx="35.37" cy="33.86" r="0.62" fill="#4a4a4a" opacity="0.75" filter="url(#bls)"/>
<circle cx="37.20" cy="29.19" r="0.76" fill="#9a9a9a" opacity="0.75" filter="url(#bls)"/>
<circle cx="37.66" cy="30.73" r="0.56" fill="#a6a6a6" opacity="0.75" filter="url(#bls)"/>
<circle cx="35.23" cy="33.55" r="0.72" fill="#9a9a9a" opacity="0.75" filter="url(#bls)"/>
<circle cx="37.06" cy="34.09" r="0.71" fill="#505050" opacity="0.75" filter="url(#bls)"/>
<circle cx="36.64" cy="32.09" r="0.72" fill="#505050" opacity="0.75" filter="url(#bls)"/>
<circle cx="36.50" cy="31.56" r="0.53" fill="#4a4a4a" opacity="0.75" filter="url(#bls)"/>
<circle cx="35.04" cy="32.10" r="0.53" fill="#9a9a9a" opacity="0.75" filter="url(#bls)"/>
<circle cx="8.20" cy="29.40" r="6.80" fill="#6a6a6a" opacity="0.35" filter="url(#bl3)"/>
<circle cx="8.20" cy="29.40" r="4.23" fill="#727272" filter="url(#blp)"/>
<circle cx="11.21" cy="28.57" r="1.37" fill="#434343" opacity="0.6" filter="url(#bl)"/>
<circle cx="10.62" cy="31.52" r="1.63" fill="#434343" opacity="0.6" filter="url(#bl)"/>
<circle cx="8.80" cy="32.89" r="1.49" fill="#434343" opacity="0.6" filter="url(#bl)"/>
<circle cx="6.76" cy="32.65" r="1.65" fill="#434343" opacity="0.6" filter="url(#bl)"/>
<circle cx="5.23" cy="31.22" r="1.62" fill="#434343" opacity="0.6" filter="url(#bl)"/>
<circle cx="5.23" cy="27.80" r="1.35" fill="#434343" opacity="0.6" filter="url(#bl)"/>
<circle cx="5.97" cy="27.19" r="1.36" fill="#434343" opacity="0.6" filter="url(#bl)"/>
<circle cx="9.40" cy="25.96" r="1.41" fill="#434343" opacity="0.6" filter="url(#bl)"/>
<circle cx="11.44" cy="28.01" r="1.42" fill="#434343" opacity="0.6" filter="url(#bl)"/>
<circle cx="10.98" cy="29.79" r="0.66" fill="#505050" opacity="0.75" filter="url(#bls)"/>
<circle cx="5.04" cy="29.73" r="0.59" fill="#4a4a4a" opacity="0.75" filter="url(#bls)"/>
<circle cx="7.85" cy="28.00" r="0.50" fill="#4a4a4a" opacity="0.75" filter="url(#bls)"/>
<circle cx="9.26" cy="28.62" r="0.58" fill="#ababab" opacity="0.75" filter="url(#bls)"/>
<circle cx="6.85" cy="28.31" r="0.77" fill="#a6a6a6" opacity="0.75" filter="url(#bls)"/>
<circle cx="7.72" cy="26.85" r="0.81" fill="#505050" opacity="0.75" filter="url(#bls)"/>
<circle cx="10.85" cy="28.87" r="0.66" fill="#505050" opacity="0.75" filter="url(#bls)"/>
<circle cx="8.63" cy="29.17" r="0.51" fill="#ababab" opacity="0.75" filter="url(#bls)"/>
<circle cx="7.11" cy="30.10" r="0.65" fill="#ababab" opacity="0.75" filter="url(#bls)"/>
<circle cx="6.86" cy="27.57" r="0.51" fill="#ababab" opacity="0.75" filter="url(#bls)"/>
<circle cx="5.19" cy="30.77" r="0.58" fill="#a6a6a6" opacity="0.75" filter="url(#bls)"/>
<circle cx="11.02" cy="29.64" r="0.73" fill="#505050" opacity="0.75" filter="url(#bls)"/>
<circle cx="6.23" cy="31.07" r="0.78" fill="#4a4a4a" opacity="0.75" filter="url(#bls)"/>
<circle cx="11.52" cy="29.37" r="0.68" fill="#505050" opacity="0.75" filter="url(#bls)"/>
<circle cx="8.64" cy="26.53" r="0.56" fill="#9a9a9a" opacity="0.75" filter="url(#bls)"/>
<circle cx="10.68" cy="30.96" r="0.83" fill="#a6a6a6" opacity="0.75" filter="url(#bls)"/>
<circle cx="8.95" cy="27.55" r="0.54" fill="#ababab" opacity="0.75" filter="url(#bls)"/>
<circle cx="8.08" cy="26.67" r="0.79" fill="#9a9a9a" opacity="0.75" filter="url(#bls)"/>
<circle cx="5.52" cy="27.44" r="0.51" fill="#ababab" opacity="0.75" filter="url(#bls)"/>
<circle cx="8.38" cy="29.56" r="0.66" fill="#9a9a9a" opacity="0.75" filter="url(#bls)"/>
<circle cx="10.09" cy="30.15" r="0.51" fill="#9a9a9a" opacity="0.75" filter="url(#bls)"/>
<circle cx="8.64" cy="27.99" r="0.65" fill="#a6a6a6" opacity="0.75" filter="url(#bls)"/>
<circle cx="10.78" cy="28.86" r="0.60" fill="#9a9a9a" opacity="0.75" filter="url(#bls)"/>
<circle cx="7.78" cy="32.26" r="0.61" fill="#9a9a9a" opacity="0.75" filter="url(#bls)"/>
<circle cx="10.23" cy="31.93" r="0.61" fill="#4a4a4a" opacity="0.75" filter="url(#bls)"/>
<circle cx="10.20" cy="55.60" r="6.80" fill="#6a6a6a" opacity="0.35" filter="url(#bl3)"/>
<circle cx="10.20" cy="55.60" r="4.23" fill="#727272" filter="url(#blp)"/>
<circle cx="13.29" cy="56.06" r="1.34" fill="#434343" opacity="0.6" filter="url(#bl)"/>
<circle cx="13.02" cy="57.04" r="1.61" fill="#434343" opacity="0.6" filter="url(#bl)"/>
<circle cx="10.27" cy="59.26" r="1.54" fill="#434343" opacity="0.6" filter="url(#bl)"/>
<circle cx="8.50" cy="58.36" r="1.57" fill="#434343" opacity="0.6" filter="url(#bl)"/>
<circle cx="6.76" cy="56.41" r="1.46" fill="#434343" opacity="0.6" filter="url(#bl)"/>
<circle cx="7.17" cy="54.56" r="1.32" fill="#434343" opacity="0.6" filter="url(#bl)"/>
<circle cx="8.39" cy="53.10" r="1.55" fill="#434343" opacity="0.6" filter="url(#bl)"/>
<circle cx="9.89" cy="52.43" r="1.39" fill="#434343" opacity="0.6" filter="url(#bl)"/>
<circle cx="12.85" cy="53.88" r="1.70" fill="#434343" opacity="0.6" filter="url(#bl)"/>
<circle cx="10.08" cy="55.99" r="0.75" fill="#ababab" opacity="0.75" filter="url(#bls)"/>
<circle cx="7.75" cy="55.36" r="0.78" fill="#505050" opacity="0.75" filter="url(#bls)"/>
<circle cx="11.99" cy="53.03" r="0.62" fill="#505050" opacity="0.75" filter="url(#bls)"/>
<circle cx="9.58" cy="54.27" r="0.50" fill="#4a4a4a" opacity="0.75" filter="url(#bls)"/>
<circle cx="11.35" cy="54.30" r="0.65" fill="#4a4a4a" opacity="0.75" filter="url(#bls)"/>
<circle cx="11.24" cy="54.49" r="0.51" fill="#9a9a9a" opacity="0.75" filter="url(#bls)"/>
<circle cx="12.32" cy="55.88" r="0.76" fill="#a6a6a6" opacity="0.75" filter="url(#bls)"/>
<circle cx="8.76" cy="55.95" r="0.81" fill="#4a4a4a" opacity="0.75" filter="url(#bls)"/>
<circle cx="10.91" cy="55.36" r="0.53" fill="#505050" opacity="0.75" filter="url(#bls)"/>
<circle cx="10.26" cy="53.92" r="0.58" fill="#4a4a4a" opacity="0.75" filter="url(#bls)"/>
<circle cx="11.12" cy="53.90" r="0.54" fill="#a6a6a6" opacity="0.75" filter="url(#bls)"/>
<circle cx="8.62" cy="56.50" r="0.80" fill="#ababab" opacity="0.75" filter="url(#bls)"/>
<circle cx="10.83" cy="57.71" r="0.82" fill="#4a4a4a" opacity="0.75" filter="url(#bls)"/>
<circle cx="8.30" cy="54.32" r="0.82" fill="#a6a6a6" opacity="0.75" filter="url(#bls)"/>
<circle cx="8.48" cy="52.62" r="0.67" fill="#9a9a9a" opacity="0.75" filter="url(#bls)"/>
<circle cx="12.84" cy="54.07" r="0.63" fill="#4a4a4a" opacity="0.75" filter="url(#bls)"/>
<circle cx="10.71" cy="52.38" r="0.69" fill="#505050" opacity="0.75" filter="url(#bls)"/>
<circle cx="11.92" cy="56.98" r="0.52" fill="#ababab" opacity="0.75" filter="url(#bls)"/>
<circle cx="13.34" cy="55.68" r="0.67" fill="#a6a6a6" opacity="0.75" filter="url(#bls)"/>
<circle cx="10.49" cy="56.44" r="0.60" fill="#4a4a4a" opacity="0.75" filter="url(#bls)"/>
<circle cx="10.19" cy="58.98" r="0.51" fill="#4a4a4a" opacity="0.75" filter="url(#bls)"/>
<circle cx="10.61" cy="53.66" r="0.60" fill="#505050" opacity="0.75" filter="url(#bls)"/>
<circle cx="13.34" cy="56.74" r="0.83" fill="#9a9a9a" opacity="0.75" filter="url(#bls)"/>
<circle cx="12.47" cy="56.68" r="0.59" fill="#9a9a9a" opacity="0.75" filter="url(#bls)"/>
<circle cx="11.31" cy="56.25" r="0.74" fill="#ababab" opacity="0.75" filter="url(#bls)"/>
<circle cx="39.40" cy="53.90" r="6.80" fill="#6a6a6a" opacity="0.35" filter="url(#bl3)"/>
<circle cx="39.40" cy="53.90" r="4.23" fill="#727272" filter="url(#blp)"/>
<circle cx="42.48" cy="53.94" r="1.44" fill="#434343" opacity="0.6" filter="url(#bl)"/>
<circle cx="41.97" cy="55.80" r="1.51" fill="#434343" opacity="0.6" filter="url(#bl)"/>
<circle cx="40.43" cy="57.40" r="1.69" fill="#434343" opacity="0.6" filter="url(#bl)"/>
<circle cx="37.77" cy="56.42" r="1.47" fill="#434343" opacity="0.6" filter="url(#bl)"/>
<circle cx="35.87" cy="54.50" r="1.71" fill="#434343" opacity="0.6" filter="url(#bl)"/>
<circle cx="36.48" cy="52.10" r="1.62" fill="#434343" opacity="0.6" filter="url(#bl)"/>
<circle cx="38.29" cy="50.56" r="1.32" fill="#434343" opacity="0.6" filter="url(#bl)"/>
<circle cx="39.45" cy="50.39" r="1.74" fill="#434343" opacity="0.6" filter="url(#bl)"/>
<circle cx="41.34" cy="50.96" r="1.68" fill="#434343" opacity="0.6" filter="url(#bl)"/>
<circle cx="41.90" cy="54.11" r="0.66" fill="#ababab" opacity="0.75" filter="url(#bls)"/>
<circle cx="42.82" cy="54.05" r="0.70" fill="#9a9a9a" opacity="0.75" filter="url(#bls)"/>
<circle cx="40.84" cy="57.00" r="0.71" fill="#505050" opacity="0.75" filter="url(#bls)"/>
<circle cx="39.85" cy="52.09" r="0.73" fill="#a6a6a6" opacity="0.75" filter="url(#bls)"/>
<circle cx="39.58" cy="53.53" r="0.63" fill="#ababab" opacity="0.75" filter="url(#bls)"/>
<circle cx="39.88" cy="52.78" r="0.72" fill="#505050" opacity="0.75" filter="url(#bls)"/>
<circle cx="37.92" cy="52.55" r="0.77" fill="#4a4a4a" opacity="0.75" filter="url(#bls)"/>
<circle cx="38.61" cy="54.50" r="0.65" fill="#9a9a9a" opacity="0.75" filter="url(#bls)"/>
<circle cx="37.01" cy="53.49" r="0.75" fill="#ababab" opacity="0.75" filter="url(#bls)"/>
<circle cx="40.77" cy="51.35" r="0.71" fill="#9a9a9a" opacity="0.75" filter="url(#bls)"/>
<circle cx="36.75" cy="52.32" r="0.73" fill="#9a9a9a" opacity="0.75" filter="url(#bls)"/>
<circle cx="38.23" cy="56.93" r="0.85" fill="#505050" opacity="0.75" filter="url(#bls)"/>
<circle cx="41.95" cy="54.75" r="0.51" fill="#505050" opacity="0.75" filter="url(#bls)"/>
<circle cx="39.51" cy="51.41" r="0.52" fill="#ababab" opacity="0.75" filter="url(#bls)"/>
<circle cx="38.39" cy="51.08" r="0.55" fill="#505050" opacity="0.75" filter="url(#bls)"/>
<circle cx="36.47" cy="52.59" r="0.64" fill="#4a4a4a" opacity="0.75" filter="url(#bls)"/>
<circle cx="39.56" cy="55.22" r="0.68" fill="#9a9a9a" opacity="0.75" filter="url(#bls)"/>
<circle cx="39.73" cy="53.75" r="0.60" fill="#4a4a4a" opacity="0.75" filter="url(#bls)"/>
<circle cx="37.68" cy="54.38" r="0.60" fill="#9a9a9a" opacity="0.75" filter="url(#bls)"/>
<circle cx="38.32" cy="52.00" r="0.82" fill="#a6a6a6" opacity="0.75" filter="url(#bls)"/>
<circle cx="42.10" cy="55.29" r="0.52" fill="#9a9a9a" opacity="0.75" filter="url(#bls)"/>
<circle cx="41.99" cy="54.74" r="0.72" fill="#4a4a4a" opacity="0.75" filter="url(#bls)"/>
<circle cx="39.34" cy="55.32" r="0.68" fill="#4a4a4a" opacity="0.75" filter="url(#bls)"/>
<circle cx="38.77" cy="55.94" r="0.82" fill="#a6a6a6" opacity="0.75" filter="url(#bls)"/>
<circle cx="39.43" cy="56.24" r="0.75" fill="#4a4a4a" opacity="0.75" filter="url(#bls)"/>
<circle cx="63.60" cy="51.60" r="7.20" fill="#6a6a6a" opacity="0.35" filter="url(#bl3)"/>
<circle cx="63.60" cy="51.60" r="4.60" fill="#727272" filter="url(#blp)"/>
<circle cx="67.25" cy="50.81" r="1.57" fill="#434343" opacity="0.6" filter="url(#bl)"/>
<circle cx="65.81" cy="54.31" r="1.65" fill="#434343" opacity="0.6" filter="url(#bl)"/>
<circle cx="65.01" cy="55.03" r="1.49" fill="#434343" opacity="0.6" filter="url(#bl)"/>
<circle cx="60.95" cy="54.20" r="1.81" fill="#434343" opacity="0.6" filter="url(#bl)"/>
<circle cx="60.49" cy="52.39" r="1.57" fill="#434343" opacity="0.6" filter="url(#bl)"/>
<circle cx="60.60" cy="49.75" r="1.74" fill="#434343" opacity="0.6" filter="url(#bl)"/>
<circle cx="62.18" cy="48.01" r="1.42" fill="#434343" opacity="0.6" filter="url(#bl)"/>
<circle cx="63.46" cy="47.97" r="1.76" fill="#434343" opacity="0.6" filter="url(#bl)"/>
<circle cx="66.58" cy="49.01" r="1.75" fill="#434343" opacity="0.6" filter="url(#bl)"/>
<circle cx="62.39" cy="51.23" r="0.71" fill="#4a4a4a" opacity="0.75" filter="url(#bls)"/>
<circle cx="62.83" cy="51.18" r="0.81" fill="#9a9a9a" opacity="0.75" filter="url(#bls)"/>
<circle cx="61.55" cy="50.39" r="0.65" fill="#a6a6a6" opacity="0.75" filter="url(#bls)"/>
<circle cx="65.40" cy="49.70" r="0.80" fill="#9a9a9a" opacity="0.75" filter="url(#bls)"/>
<circle cx="61.17" cy="50.75" r="0.71" fill="#9a9a9a" opacity="0.75" filter="url(#bls)"/>
<circle cx="62.37" cy="52.26" r="0.62" fill="#a6a6a6" opacity="0.75" filter="url(#bls)"/>
<circle cx="66.73" cy="53.41" r="0.72" fill="#505050" opacity="0.75" filter="url(#bls)"/>
<circle cx="60.81" cy="53.58" r="0.79" fill="#9a9a9a" opacity="0.75" filter="url(#bls)"/>
<circle cx="65.24" cy="54.67" r="0.84" fill="#4a4a4a" opacity="0.75" filter="url(#bls)"/>
<circle cx="63.09" cy="49.11" r="0.84" fill="#505050" opacity="0.75" filter="url(#bls)"/>
<circle cx="63.48" cy="53.11" r="0.82" fill="#4a4a4a" opacity="0.75" filter="url(#bls)"/>
<circle cx="66.25" cy="49.65" r="0.58" fill="#4a4a4a" opacity="0.75" filter="url(#bls)"/>
<circle cx="63.56" cy="54.00" r="0.77" fill="#ababab" opacity="0.75" filter="url(#bls)"/>
<circle cx="66.72" cy="50.58" r="0.75" fill="#ababab" opacity="0.75" filter="url(#bls)"/>
<circle cx="65.82" cy="48.63" r="0.66" fill="#4a4a4a" opacity="0.75" filter="url(#bls)"/>
<circle cx="63.56" cy="52.20" r="0.61" fill="#505050" opacity="0.75" filter="url(#bls)"/>
<circle cx="64.44" cy="51.37" r="0.77" fill="#a6a6a6" opacity="0.75" filter="url(#bls)"/>
<circle cx="61.29" cy="50.30" r="0.82" fill="#4a4a4a" opacity="0.75" filter="url(#bls)"/>
<circle cx="62.08" cy="50.47" r="0.54" fill="#a6a6a6" opacity="0.75" filter="url(#bls)"/>
<circle cx="63.73" cy="52.53" r="0.84" fill="#ababab" opacity="0.75" filter="url(#bls)"/>
<circle cx="65.80" cy="53.13" r="0.54" fill="#a6a6a6" opacity="0.75" filter="url(#bls)"/>
<circle cx="60.64" cy="51.15" r="0.55" fill="#ababab" opacity="0.75" filter="url(#bls)"/>
<circle cx="66.14" cy="52.26" r="0.77" fill="#a6a6a6" opacity="0.75" filter="url(#bls)"/>
<circle cx="61.22" cy="51.67" r="0.81" fill="#4a4a4a" opacity="0.75" filter="url(#bls)"/>
<circle cx="62.19" cy="50.07" r="0.51" fill="#9a9a9a" opacity="0.75" filter="url(#bls)"/>
<circle cx="62.47" cy="51.41" r="0.61" fill="#ababab" opacity="0.75" filter="url(#bls)"/>
<circle cx="62.88" cy="49.59" r="0.75" fill="#a6a6a6" opacity="0.75" filter="url(#bls)"/>
<circle cx="64.16" cy="49.75" r="0.64" fill="#4a4a4a" opacity="0.75" filter="url(#bls)"/>
<circle cx="63.73" cy="48.11" r="0.61" fill="#4a4a4a" opacity="0.75" filter="url(#bls)"/>
<circle cx="64.55" cy="51.53" r="0.75" fill="#4a4a4a" opacity="0.75" filter="url(#bls)"/>
<circle cx="22.40" cy="63.10" r="6.60" fill="#6a6a6a" opacity="0.35" filter="url(#bl3)"/>
<circle cx="22.40" cy="63.10" r="4.05" fill="#727272" filter="url(#blp)"/>
<circle cx="25.64" cy="62.25" r="1.48" fill="#434343" opacity="0.6" filter="url(#bl)"/>
<circle cx="25.03" cy="65.22" r="1.43" fill="#434343" opacity="0.6" filter="url(#bl)"/>
<circle cx="22.93" cy="66.31" r="1.27" fill="#434343" opacity="0.6" filter="url(#bl)"/>
<circle cx="20.03" cy="65.60" r="1.28" fill="#434343" opacity="0.6" filter="url(#bl)"/>
<circle cx="18.93" cy="63.46" r="1.60" fill="#434343" opacity="0.6" filter="url(#bl)"/>
<circle cx="19.60" cy="62.69" r="1.54" fill="#434343" opacity="0.6" filter="url(#bl)"/>
<circle cx="21.33" cy="59.79" r="1.38" fill="#434343" opacity="0.6" filter="url(#bl)"/>
<circle cx="22.27" cy="59.71" r="1.24" fill="#434343" opacity="0.6" filter="url(#bl)"/>
<circle cx="25.29" cy="61.54" r="1.53" fill="#434343" opacity="0.6" filter="url(#bl)"/>
<circle cx="24.50" cy="65.35" r="0.58" fill="#505050" opacity="0.75" filter="url(#bls)"/>
<circle cx="23.64" cy="62.07" r="0.61" fill="#a6a6a6" opacity="0.75" filter="url(#bls)"/>
<circle cx="22.42" cy="64.74" r="0.80" fill="#9a9a9a" opacity="0.75" filter="url(#bls)"/>
<circle cx="23.81" cy="62.20" r="0.63" fill="#505050" opacity="0.75" filter="url(#bls)"/>
<circle cx="21.73" cy="62.21" r="0.53" fill="#a6a6a6" opacity="0.75" filter="url(#bls)"/>
<circle cx="21.92" cy="63.63" r="0.80" fill="#9a9a9a" opacity="0.75" filter="url(#bls)"/>
<circle cx="23.29" cy="62.25" r="0.56" fill="#ababab" opacity="0.75" filter="url(#bls)"/>
<circle cx="23.94" cy="65.91" r="0.76" fill="#505050" opacity="0.75" filter="url(#bls)"/>
<circle cx="20.81" cy="62.92" r="0.80" fill="#9a9a9a" opacity="0.75" filter="url(#bls)"/>
<circle cx="23.68" cy="63.72" r="0.81" fill="#505050" opacity="0.75" filter="url(#bls)"/>
<circle cx="23.40" cy="61.82" r="0.56" fill="#ababab" opacity="0.75" filter="url(#bls)"/>
<circle cx="25.00" cy="64.35" r="0.74" fill="#9a9a9a" opacity="0.75" filter="url(#bls)"/>
<circle cx="21.15" cy="62.20" r="0.57" fill="#505050" opacity="0.75" filter="url(#bls)"/>
<circle cx="21.81" cy="63.64" r="0.57" fill="#4a4a4a" opacity="0.75" filter="url(#bls)"/>
<circle cx="23.80" cy="64.84" r="0.53" fill="#ababab" opacity="0.75" filter="url(#bls)"/>
<circle cx="25.51" cy="62.96" r="0.80" fill="#a6a6a6" opacity="0.75" filter="url(#bls)"/>
<circle cx="20.46" cy="65.37" r="0.71" fill="#9a9a9a" opacity="0.75" filter="url(#bls)"/>
<circle cx="20.24" cy="62.88" r="0.66" fill="#ababab" opacity="0.75" filter="url(#bls)"/>
<circle cx="20.23" cy="61.07" r="0.85" fill="#505050" opacity="0.75" filter="url(#bls)"/>
<circle cx="24.64" cy="62.15" r="0.78" fill="#a6a6a6" opacity="0.75" filter="url(#bls)"/>
<circle cx="20.90" cy="64.86" r="0.78" fill="#ababab" opacity="0.75" filter="url(#bls)"/>
<circle cx="20.69" cy="65.07" r="0.76" fill="#9a9a9a" opacity="0.75" filter="url(#bls)"/>
<circle cx="21.76" cy="63.33" r="0.65" fill="#9a9a9a" opacity="0.75" filter="url(#bls)"/>
<circle cx="24.40" cy="73.30" r="6.80" fill="#6a6a6a" opacity="0.35" filter="url(#bl3)"/>
<circle cx="24.40" cy="73.30" r="4.23" fill="#727272" filter="url(#blp)"/>
<circle cx="27.72" cy="73.41" r="1.29" fill="#434343" opacity="0.6" filter="url(#bl)"/>
<circle cx="27.62" cy="75.05" r="1.59" fill="#434343" opacity="0.6" filter="url(#bl)"/>
<circle cx="24.88" cy="76.80" r="1.49" fill="#434343" opacity="0.6" filter="url(#bl)"/>
<circle cx="21.96" cy="75.75" r="1.68" fill="#434343" opacity="0.6" filter="url(#bl)"/>
<circle cx="21.39" cy="75.06" r="1.29" fill="#434343" opacity="0.6" filter="url(#bl)"/>
<circle cx="21.82" cy="71.76" r="1.65" fill="#434343" opacity="0.6" filter="url(#bl)"/>
<circle cx="23.29" cy="70.28" r="1.34" fill="#434343" opacity="0.6" filter="url(#bl)"/>
<circle cx="25.67" cy="70.33" r="1.66" fill="#434343" opacity="0.6" filter="url(#bl)"/>
<circle cx="27.20" cy="71.82" r="1.60" fill="#434343" opacity="0.6" filter="url(#bl)"/>
<circle cx="21.69" cy="72.72" r="0.67" fill="#9a9a9a" opacity="0.75" filter="url(#bls)"/>
<circle cx="26.93" cy="71.70" r="0.68" fill="#505050" opacity="0.75" filter="url(#bls)"/>
<circle cx="27.13" cy="72.74" r="0.59" fill="#9a9a9a" opacity="0.75" filter="url(#bls)"/>
<circle cx="26.83" cy="74.67" r="0.70" fill="#ababab" opacity="0.75" filter="url(#bls)"/>
<circle cx="23.53" cy="74.31" r="0.75" fill="#505050" opacity="0.75" filter="url(#bls)"/>
<circle cx="23.17" cy="72.51" r="0.60" fill="#4a4a4a" opacity="0.75" filter="url(#bls)"/>
<circle cx="25.16" cy="76.21" r="0.56" fill="#4a4a4a" opacity="0.75" filter="url(#bls)"/>
<circle cx="25.35" cy="74.98" r="0.74" fill="#ababab" opacity="0.75" filter="url(#bls)"/>
<circle cx="26.18" cy="72.34" r="0.79" fill="#ababab" opacity="0.75" filter="url(#bls)"/>
<circle cx="22.79" cy="74.28" r="0.56" fill="#ababab" opacity="0.75" filter="url(#bls)"/>
<circle cx="22.89" cy="73.68" r="0.55" fill="#505050" opacity="0.75" filter="url(#bls)"/>
<circle cx="23.62" cy="76.11" r="0.85" fill="#ababab" opacity="0.75" filter="url(#bls)"/>
<circle cx="25.51" cy="70.35" r="0.57" fill="#a6a6a6" opacity="0.75" filter="url(#bls)"/>
<circle cx="23.38" cy="72.77" r="0.82" fill="#9a9a9a" opacity="0.75" filter="url(#bls)"/>
<circle cx="25.17" cy="75.83" r="0.74" fill="#4a4a4a" opacity="0.75" filter="url(#bls)"/>
<circle cx="25.98" cy="73.13" r="0.57" fill="#4a4a4a" opacity="0.75" filter="url(#bls)"/>
<circle cx="23.52" cy="70.21" r="0.52" fill="#505050" opacity="0.75" filter="url(#bls)"/>
<circle cx="24.64" cy="76.42" r="0.66" fill="#4a4a4a" opacity="0.75" filter="url(#bls)"/>
<circle cx="22.14" cy="72.09" r="0.61" fill="#ababab" opacity="0.75" filter="url(#bls)"/>
<circle cx="23.46" cy="75.70" r="0.77" fill="#a6a6a6" opacity="0.75" filter="url(#bls)"/>
<circle cx="27.06" cy="73.85" r="0.83" fill="#505050" opacity="0.75" filter="url(#bls)"/>
<circle cx="25.30" cy="75.34" r="0.77" fill="#a6a6a6" opacity="0.75" filter="url(#bls)"/>
<circle cx="24.28" cy="76.40" r="0.60" fill="#9a9a9a" opacity="0.75" filter="url(#bls)"/>
<circle cx="22.32" cy="71.24" r="0.73" fill="#4a4a4a" opacity="0.75" filter="url(#bls)"/>
<circle cx="27.54" cy="73.75" r="0.77" fill="#a6a6a6" opacity="0.75" filter="url(#bls)"/>
<circle cx="10.20" cy="82.80" r="7.00" fill="#6a6a6a" opacity="0.35" filter="url(#bl3)"/>
<circle cx="10.20" cy="82.80" r="4.42" fill="#727272" filter="url(#blp)"/>
<circle cx="13.72" cy="83.19" r="1.66" fill="#434343" opacity="0.6" filter="url(#bl)"/>
<circle cx="12.95" cy="84.84" r="1.41" fill="#434343" opacity="0.6" filter="url(#bl)"/>
<circle cx="11.56" cy="85.93" r="1.59" fill="#434343" opacity="0.6" filter="url(#bl)"/>
<circle cx="8.42" cy="85.53" r="1.65" fill="#434343" opacity="0.6" filter="url(#bl)"/>
<circle cx="6.96" cy="83.45" r="1.82" fill="#434343" opacity="0.6" filter="url(#bl)"/>
<circle cx="7.32" cy="81.15" r="1.70" fill="#434343" opacity="0.6" filter="url(#bl)"/>
<circle cx="8.52" cy="79.41" r="1.65" fill="#434343" opacity="0.6" filter="url(#bl)"/>
<circle cx="10.23" cy="79.07" r="1.50" fill="#434343" opacity="0.6" filter="url(#bl)"/>
<circle cx="12.53" cy="80.33" r="1.48" fill="#434343" opacity="0.6" filter="url(#bl)"/>
<circle cx="12.24" cy="82.36" r="0.74" fill="#505050" opacity="0.75" filter="url(#bls)"/>
<circle cx="10.23" cy="84.74" r="0.78" fill="#4a4a4a" opacity="0.75" filter="url(#bls)"/>
<circle cx="7.09" cy="81.55" r="0.73" fill="#4a4a4a" opacity="0.75" filter="url(#bls)"/>
<circle cx="9.35" cy="82.96" r="0.57" fill="#4a4a4a" opacity="0.75" filter="url(#bls)"/>
<circle cx="11.05" cy="84.84" r="0.59" fill="#a6a6a6" opacity="0.75" filter="url(#bls)"/>
<circle cx="10.49" cy="85.97" r="0.69" fill="#505050" opacity="0.75" filter="url(#bls)"/>
<circle cx="10.77" cy="80.54" r="0.81" fill="#ababab" opacity="0.75" filter="url(#bls)"/>
<circle cx="8.77" cy="84.72" r="0.67" fill="#ababab" opacity="0.75" filter="url(#bls)"/>
<circle cx="8.21" cy="83.56" r="0.81" fill="#4a4a4a" opacity="0.75" filter="url(#bls)"/>
<circle cx="10.10" cy="79.88" r="0.58" fill="#ababab" opacity="0.75" filter="url(#bls)"/>
<circle cx="8.97" cy="81.79" r="0.81" fill="#505050" opacity="0.75" filter="url(#bls)"/>
<circle cx="12.25" cy="81.30" r="0.78" fill="#ababab" opacity="0.75" filter="url(#bls)"/>
<circle cx="9.69" cy="84.50" r="0.52" fill="#9a9a9a" opacity="0.75" filter="url(#bls)"/>
<circle cx="8.03" cy="82.16" r="0.83" fill="#9a9a9a" opacity="0.75" filter="url(#bls)"/>
<circle cx="6.75" cy="82.64" r="0.78" fill="#ababab" opacity="0.75" filter="url(#bls)"/>
<circle cx="10.52" cy="86.37" r="0.73" fill="#4a4a4a" opacity="0.75" filter="url(#bls)"/>
<circle cx="8.43" cy="79.77" r="0.61" fill="#a6a6a6" opacity="0.75" filter="url(#bls)"/>
<circle cx="13.72" cy="82.15" r="0.62" fill="#ababab" opacity="0.75" filter="url(#bls)"/>
<circle cx="10.77" cy="81.78" r="0.84" fill="#505050" opacity="0.75" filter="url(#bls)"/>
<circle cx="13.23" cy="82.85" r="0.80" fill="#4a4a4a" opacity="0.75" filter="url(#bls)"/>
<circle cx="10.23" cy="84.57" r="0.67" fill="#4a4a4a" opacity="0.75" filter="url(#bls)"/>
<circle cx="11.77" cy="82.40" r="0.69" fill="#9a9a9a" opacity="0.75" filter="url(#bls)"/>
<circle cx="10.02" cy="83.78" r="0.84" fill="#4a4a4a" opacity="0.75" filter="url(#bls)"/>
<circle cx="11.70" cy="84.36" r="0.73" fill="#a6a6a6" opacity="0.75" filter="url(#bls)"/>
<circle cx="11.55" cy="84.28" r="0.81" fill="#4a4a4a" opacity="0.75" filter="url(#bls)"/>
<circle cx="9.90" cy="86.32" r="0.73" fill="#505050" opacity="0.75" filter="url(#bls)"/>
<circle cx="9.31" cy="85.16" r="0.84" fill="#505050" opacity="0.75" filter="url(#bls)"/>
<circle cx="5.90" cy="0.00" r="6.20" fill="#6a6a6a" opacity="0.35" filter="url(#bl3)"/>
<circle cx="5.90" cy="0.00" r="3.68" fill="#727272" filter="url(#blp)"/>
<circle cx="8.58" cy="-0.13" r="1.37" fill="#434343" opacity="0.6" filter="url(#bl)"/>
<circle cx="8.01" cy="1.98" r="1.37" fill="#434343" opacity="0.6" filter="url(#bl)"/>
<circle cx="6.36" cy="3.12" r="1.48" fill="#434343" opacity="0.6" filter="url(#bl)"/>
<circle cx="3.65" cy="2.16" r="1.29" fill="#434343" opacity="0.6" filter="url(#bl)"/>
<circle cx="2.73" cy="0.30" r="1.50" fill="#434343" opacity="0.6" filter="url(#bl)"/>
<circle cx="3.28" cy="-0.92" r="1.22" fill="#434343" opacity="0.6" filter="url(#bl)"/>
<circle cx="5.18" cy="-2.82" r="1.41" fill="#434343" opacity="0.6" filter="url(#bl)"/>
<circle cx="7.07" cy="-2.58" r="1.34" fill="#434343" opacity="0.6" filter="url(#bl)"/>
<circle cx="7.38" cy="-2.22" r="1.21" fill="#434343" opacity="0.6" filter="url(#bl)"/>
<circle cx="6.42" cy="-2.76" r="0.84" fill="#4a4a4a" opacity="0.75" filter="url(#bls)"/>
<circle cx="6.72" cy="-2.54" r="0.52" fill="#505050" opacity="0.75" filter="url(#bls)"/>
<circle cx="8.41" cy="-0.14" r="0.63" fill="#a6a6a6" opacity="0.75" filter="url(#bls)"/>
<circle cx="3.46" cy="0.62" r="0.81" fill="#505050" opacity="0.75" filter="url(#bls)"/>
<circle cx="4.55" cy="-0.11" r="0.61" fill="#ababab" opacity="0.75" filter="url(#bls)"/>
<circle cx="7.89" cy="2.12" r="0.71" fill="#4a4a4a" opacity="0.75" filter="url(#bls)"/>
<circle cx="2.94" cy="0.48" r="0.79" fill="#ababab" opacity="0.75" filter="url(#bls)"/>
<circle cx="6.62" cy="-1.73" r="0.61" fill="#a6a6a6" opacity="0.75" filter="url(#bls)"/>
<circle cx="6.17" cy="2.58" r="0.76" fill="#ababab" opacity="0.75" filter="url(#bls)"/>
<circle cx="7.40" cy="-1.05" r="0.71" fill="#a6a6a6" opacity="0.75" filter="url(#bls)"/>
<circle cx="5.39" cy="-2.01" r="0.84" fill="#a6a6a6" opacity="0.75" filter="url(#bls)"/>
<circle cx="3.69" cy="-1.05" r="0.60" fill="#505050" opacity="0.75" filter="url(#bls)"/>
<circle cx="6.25" cy="-1.38" r="0.56" fill="#9a9a9a" opacity="0.75" filter="url(#bls)"/>
<circle cx="7.28" cy="1.36" r="0.54" fill="#9a9a9a" opacity="0.75" filter="url(#bls)"/>
<circle cx="4.69" cy="0.73" r="0.61" fill="#505050" opacity="0.75" filter="url(#bls)"/>
<circle cx="6.41" cy="0.49" r="0.60" fill="#a6a6a6" opacity="0.75" filter="url(#bls)"/>
<circle cx="5.98" cy="0.23" r="0.55" fill="#9a9a9a" opacity="0.75" filter="url(#bls)"/>
<circle cx="7.54" cy="-2.35" r="0.54" fill="#a6a6a6" opacity="0.75" filter="url(#bls)"/>
<circle cx="6.31" cy="-1.90" r="0.73" fill="#4a4a4a" opacity="0.75" filter="url(#bls)"/>
</g>
</svg>
<rect x="306.10" y="427.50" width="71.10" height="95.90" fill="none" stroke="#111" stroke-width="1.1"/>
<line x1="345.20" y1="517.10" x2="356.30" y2="517.10" stroke="#e8e000" stroke-width="0.9"/>
<line x1="345.20" y1="515.50" x2="345.20" y2="518.70" stroke="#e8e000" stroke-width="0.9"/>
<line x1="356.30" y1="515.50" x2="356.30" y2="518.70" stroke="#e8e000" stroke-width="0.9"/>
<text x="359.00" y="519.10" font-size="5.4" fill="#e8e000">50 nm</text>
<svg x="387.7" y="428" width="71.40" height="95.40" viewBox="0 0 71.40 95.40" overflow="hidden">
<rect width="71.40" height="95.40" fill="url(#emg2)"/>
<rect width="71.40" height="95.40" fill="#000" filter="url(#noise)" opacity="0.12"/>
<ellipse cx="3.30" cy="12.00" rx="6.00" ry="10.00" fill="#5a5a5a" opacity="0.25" filter="url(#bl3)"/>
<ellipse cx="46.30" cy="17.00" rx="9.00" ry="5.00" fill="#5a5a5a" opacity="0.2" filter="url(#bl3)"/>
<g opacity="0.72">
<circle cx="26.90" cy="7.60" r="7.20" fill="#6a6a6a" opacity="0.35" filter="url(#bl3)"/>
<circle cx="26.90" cy="7.60" r="4.60" fill="#727272" filter="url(#blp)"/>
<circle cx="30.55" cy="6.90" r="1.71" fill="#434343" opacity="0.6" filter="url(#bl)"/>
<circle cx="28.95" cy="10.15" r="1.72" fill="#434343" opacity="0.6" filter="url(#bl)"/>
<circle cx="28.27" cy="10.93" r="1.63" fill="#434343" opacity="0.6" filter="url(#bl)"/>
<circle cx="25.67" cy="10.94" r="1.89" fill="#434343" opacity="0.6" filter="url(#bl)"/>
<circle cx="23.53" cy="7.83" r="1.81" fill="#434343" opacity="0.6" filter="url(#bl)"/>
<circle cx="24.16" cy="5.60" r="1.41" fill="#434343" opacity="0.6" filter="url(#bl)"/>
<circle cx="24.59" cy="4.76" r="1.84" fill="#434343" opacity="0.6" filter="url(#bl)"/>
<circle cx="27.63" cy="4.18" r="1.84" fill="#434343" opacity="0.6" filter="url(#bl)"/>
<circle cx="28.73" cy="4.81" r="1.50" fill="#434343" opacity="0.6" filter="url(#bl)"/>
<circle cx="25.96" cy="8.45" r="0.69" fill="#ababab" opacity="0.75" filter="url(#bls)"/>
<circle cx="30.48" cy="7.92" r="0.73" fill="#ababab" opacity="0.75" filter="url(#bls)"/>
<circle cx="27.80" cy="9.54" r="0.56" fill="#a6a6a6" opacity="0.75" filter="url(#bls)"/>
<circle cx="24.50" cy="6.05" r="0.70" fill="#9a9a9a" opacity="0.75" filter="url(#bls)"/>
<circle cx="24.01" cy="7.44" r="0.71" fill="#9a9a9a" opacity="0.75" filter="url(#bls)"/>
<circle cx="28.02" cy="10.88" r="0.51" fill="#9a9a9a" opacity="0.75" filter="url(#bls)"/>
<circle cx="28.63" cy="7.98" r="0.70" fill="#4a4a4a" opacity="0.75" filter="url(#bls)"/>
<circle cx="28.20" cy="11.08" r="0.69" fill="#505050" opacity="0.75" filter="url(#bls)"/>
<circle cx="26.31" cy="7.56" r="0.51" fill="#505050" opacity="0.75" filter="url(#bls)"/>
<circle cx="25.02" cy="8.39" r="0.61" fill="#505050" opacity="0.75" filter="url(#bls)"/>
<circle cx="25.67" cy="8.90" r="0.52" fill="#a6a6a6" opacity="0.75" filter="url(#bls)"/>
<circle cx="29.19" cy="5.39" r="0.56" fill="#ababab" opacity="0.75" filter="url(#bls)"/>
<circle cx="29.29" cy="7.12" r="0.76" fill="#505050" opacity="0.75" filter="url(#bls)"/>
<circle cx="24.93" cy="7.34" r="0.76" fill="#9a9a9a" opacity="0.75" filter="url(#bls)"/>
<circle cx="26.63" cy="4.46" r="0.73" fill="#a6a6a6" opacity="0.75" filter="url(#bls)"/>
<circle cx="29.38" cy="8.33" r="0.71" fill="#505050" opacity="0.75" filter="url(#bls)"/>
<circle cx="24.68" cy="5.18" r="0.75" fill="#a6a6a6" opacity="0.75" filter="url(#bls)"/>
<circle cx="27.95" cy="4.08" r="0.73" fill="#4a4a4a" opacity="0.75" filter="url(#bls)"/>
<circle cx="28.71" cy="8.90" r="0.64" fill="#4a4a4a" opacity="0.75" filter="url(#bls)"/>
<circle cx="27.38" cy="9.88" r="0.62" fill="#505050" opacity="0.75" filter="url(#bls)"/>
<circle cx="27.74" cy="4.01" r="0.82" fill="#ababab" opacity="0.75" filter="url(#bls)"/>
<circle cx="30.11" cy="8.43" r="0.51" fill="#ababab" opacity="0.75" filter="url(#bls)"/>
<circle cx="26.12" cy="5.37" r="0.70" fill="#505050" opacity="0.75" filter="url(#bls)"/>
<circle cx="27.65" cy="8.88" r="0.72" fill="#ababab" opacity="0.75" filter="url(#bls)"/>
<circle cx="25.87" cy="10.94" r="0.82" fill="#505050" opacity="0.75" filter="url(#bls)"/>
<circle cx="29.18" cy="10.45" r="0.71" fill="#ababab" opacity="0.75" filter="url(#bls)"/>
<circle cx="25.27" cy="10.86" r="0.57" fill="#9a9a9a" opacity="0.75" filter="url(#bls)"/>
<circle cx="26.01" cy="10.42" r="0.69" fill="#505050" opacity="0.75" filter="url(#bls)"/>
<circle cx="29.39" cy="7.31" r="0.63" fill="#9a9a9a" opacity="0.75" filter="url(#bls)"/>
<circle cx="29.34" cy="9.86" r="0.77" fill="#9a9a9a" opacity="0.75" filter="url(#bls)"/>
<circle cx="11.30" cy="20.50" r="7.20" fill="#6a6a6a" opacity="0.35" filter="url(#bl3)"/>
<circle cx="11.30" cy="20.50" r="4.60" fill="#727272" filter="url(#blp)"/>
<circle cx="14.99" cy="20.08" r="1.75" fill="#434343" opacity="0.6" filter="url(#bl)"/>
<circle cx="13.58" cy="23.43" r="1.76" fill="#434343" opacity="0.6" filter="url(#bl)"/>
<circle cx="11.95" cy="24.04" r="1.71" fill="#434343" opacity="0.6" filter="url(#bl)"/>
<circle cx="10.39" cy="23.72" r="1.68" fill="#434343" opacity="0.6" filter="url(#bl)"/>
<circle cx="7.90" cy="21.61" r="1.84" fill="#434343" opacity="0.6" filter="url(#bl)"/>
<circle cx="8.35" cy="19.49" r="1.49" fill="#434343" opacity="0.6" filter="url(#bl)"/>
<circle cx="9.05" cy="18.10" r="1.79" fill="#434343" opacity="0.6" filter="url(#bl)"/>
<circle cx="13.04" cy="17.07" r="1.43" fill="#434343" opacity="0.6" filter="url(#bl)"/>
<circle cx="14.17" cy="19.22" r="1.44" fill="#434343" opacity="0.6" filter="url(#bl)"/>
<circle cx="10.83" cy="19.63" r="0.71" fill="#505050" opacity="0.75" filter="url(#bls)"/>
<circle cx="12.77" cy="19.96" r="0.67" fill="#4a4a4a" opacity="0.75" filter="url(#bls)"/>
<circle cx="13.55" cy="20.48" r="0.70" fill="#ababab" opacity="0.75" filter="url(#bls)"/>
<circle cx="14.11" cy="19.10" r="0.68" fill="#4a4a4a" opacity="0.75" filter="url(#bls)"/>
<circle cx="12.49" cy="19.99" r="0.62" fill="#ababab" opacity="0.75" filter="url(#bls)"/>
<circle cx="11.75" cy="20.03" r="0.73" fill="#505050" opacity="0.75" filter="url(#bls)"/>
<circle cx="9.83" cy="17.82" r="0.62" fill="#505050" opacity="0.75" filter="url(#bls)"/>
<circle cx="13.65" cy="21.57" r="0.78" fill="#4a4a4a" opacity="0.75" filter="url(#bls)"/>
<circle cx="10.37" cy="18.00" r="0.78" fill="#a6a6a6" opacity="0.75" filter="url(#bls)"/>
<circle cx="11.75" cy="17.90" r="0.55" fill="#a6a6a6" opacity="0.75" filter="url(#bls)"/>
<circle cx="10.35" cy="18.29" r="0.58" fill="#9a9a9a" opacity="0.75" filter="url(#bls)"/>
<circle cx="11.28" cy="19.05" r="0.58" fill="#ababab" opacity="0.75" filter="url(#bls)"/>
<circle cx="13.51" cy="18.54" r="0.82" fill="#a6a6a6" opacity="0.75" filter="url(#bls)"/>
<circle cx="14.07" cy="21.47" r="0.70" fill="#ababab" opacity="0.75" filter="url(#bls)"/>
<circle cx="11.61" cy="19.20" r="0.66" fill="#a6a6a6" opacity="0.75" filter="url(#bls)"/>
<circle cx="10.72" cy="20.02" r="0.51" fill="#505050" opacity="0.75" filter="url(#bls)"/>
<circle cx="9.87" cy="17.96" r="0.63" fill="#9a9a9a" opacity="0.75" filter="url(#bls)"/>
<circle cx="14.02" cy="19.77" r="0.76" fill="#4a4a4a" opacity="0.75" filter="url(#bls)"/>
<circle cx="12.10" cy="23.76" r="0.59" fill="#ababab" opacity="0.75" filter="url(#bls)"/>
<circle cx="8.98" cy="19.02" r="0.58" fill="#a6a6a6" opacity="0.75" filter="url(#bls)"/>
<circle cx="12.56" cy="23.38" r="0.79" fill="#9a9a9a" opacity="0.75" filter="url(#bls)"/>
<circle cx="13.88" cy="21.72" r="0.60" fill="#9a9a9a" opacity="0.75" filter="url(#bls)"/>
<circle cx="13.25" cy="23.35" r="0.61" fill="#a6a6a6" opacity="0.75" filter="url(#bls)"/>
<circle cx="13.37" cy="18.84" r="0.60" fill="#a6a6a6" opacity="0.75" filter="url(#bls)"/>
<circle cx="8.74" cy="19.25" r="0.80" fill="#4a4a4a" opacity="0.75" filter="url(#bls)"/>
<circle cx="12.00" cy="20.31" r="0.77" fill="#4a4a4a" opacity="0.75" filter="url(#bls)"/>
<circle cx="10.01" cy="22.68" r="0.56" fill="#9a9a9a" opacity="0.75" filter="url(#bls)"/>
<circle cx="11.10" cy="20.31" r="0.60" fill="#9a9a9a" opacity="0.75" filter="url(#bls)"/>
<circle cx="12.98" cy="19.99" r="0.51" fill="#4a4a4a" opacity="0.75" filter="url(#bls)"/>
<circle cx="10.30" cy="17.39" r="0.69" fill="#a6a6a6" opacity="0.75" filter="url(#bls)"/>
<circle cx="41.80" cy="17.80" r="7.80" fill="#6a6a6a" opacity="0.35" filter="url(#bl3)"/>
<circle cx="41.80" cy="17.80" r="5.15" fill="#727272" filter="url(#blp)"/>
<circle cx="45.46" cy="18.56" r="1.63" fill="#434343" opacity="0.6" filter="url(#bl)"/>
<circle cx="45.28" cy="20.60" r="1.93" fill="#434343" opacity="0.6" filter="url(#bl)"/>
<circle cx="42.39" cy="21.59" r="1.78" fill="#434343" opacity="0.6" filter="url(#bl)"/>
<circle cx="39.00" cy="21.12" r="2.11" fill="#434343" opacity="0.6" filter="url(#bl)"/>
<circle cx="37.76" cy="18.02" r="1.60" fill="#434343" opacity="0.6" filter="url(#bl)"/>
<circle cx="37.83" cy="16.74" r="1.67" fill="#434343" opacity="0.6" filter="url(#bl)"/>
<circle cx="40.03" cy="14.17" r="2.06" fill="#434343" opacity="0.6" filter="url(#bl)"/>
<circle cx="42.80" cy="14.00" r="2.12" fill="#434343" opacity="0.6" filter="url(#bl)"/>
<circle cx="45.00" cy="16.00" r="1.64" fill="#434343" opacity="0.6" filter="url(#bl)"/>
<circle cx="39.43" cy="19.43" r="0.77" fill="#505050" opacity="0.75" filter="url(#bls)"/>
<circle cx="43.05" cy="13.87" r="0.58" fill="#9a9a9a" opacity="0.75" filter="url(#bls)"/>
<circle cx="44.53" cy="15.35" r="0.55" fill="#4a4a4a" opacity="0.75" filter="url(#bls)"/>
<circle cx="40.04" cy="19.38" r="0.75" fill="#9a9a9a" opacity="0.75" filter="url(#bls)"/>
<circle cx="44.02" cy="15.57" r="0.51" fill="#505050" opacity="0.75" filter="url(#bls)"/>
<circle cx="39.85" cy="18.57" r="0.66" fill="#4a4a4a" opacity="0.75" filter="url(#bls)"/>
<circle cx="43.36" cy="18.52" r="0.84" fill="#4a4a4a" opacity="0.75" filter="url(#bls)"/>
<circle cx="41.41" cy="20.68" r="0.64" fill="#ababab" opacity="0.75" filter="url(#bls)"/>
<circle cx="41.35" cy="14.22" r="0.65" fill="#ababab" opacity="0.75" filter="url(#bls)"/>
<circle cx="40.59" cy="14.20" r="0.62" fill="#a6a6a6" opacity="0.75" filter="url(#bls)"/>
<circle cx="44.07" cy="14.49" r="0.57" fill="#9a9a9a" opacity="0.75" filter="url(#bls)"/>
<circle cx="42.31" cy="17.39" r="0.65" fill="#9a9a9a" opacity="0.75" filter="url(#bls)"/>
<circle cx="41.84" cy="13.92" r="0.80" fill="#4a4a4a" opacity="0.75" filter="url(#bls)"/>
<circle cx="42.23" cy="15.18" r="0.82" fill="#4a4a4a" opacity="0.75" filter="url(#bls)"/>
<circle cx="44.61" cy="15.57" r="0.77" fill="#505050" opacity="0.75" filter="url(#bls)"/>
<circle cx="39.41" cy="20.44" r="0.51" fill="#505050" opacity="0.75" filter="url(#bls)"/>
<circle cx="39.10" cy="15.86" r="0.66" fill="#505050" opacity="0.75" filter="url(#bls)"/>
<circle cx="42.29" cy="21.71" r="0.61" fill="#ababab" opacity="0.75" filter="url(#bls)"/>
<circle cx="44.53" cy="20.98" r="0.63" fill="#4a4a4a" opacity="0.75" filter="url(#bls)"/>
<circle cx="38.58" cy="18.56" r="0.84" fill="#505050" opacity="0.75" filter="url(#bls)"/>
<circle cx="44.33" cy="16.52" r="0.59" fill="#4a4a4a" opacity="0.75" filter="url(#bls)"/>
<circle cx="42.74" cy="18.84" r="0.56" fill="#4a4a4a" opacity="0.75" filter="url(#bls)"/>
<circle cx="39.32" cy="14.61" r="0.60" fill="#505050" opacity="0.75" filter="url(#bls)"/>
<circle cx="39.20" cy="19.20" r="0.84" fill="#a6a6a6" opacity="0.75" filter="url(#bls)"/>
<circle cx="38.13" cy="16.44" r="0.68" fill="#505050" opacity="0.75" filter="url(#bls)"/>
<circle cx="38.04" cy="18.47" r="0.61" fill="#9a9a9a" opacity="0.75" filter="url(#bls)"/>
<circle cx="40.44" cy="16.69" r="0.79" fill="#ababab" opacity="0.75" filter="url(#bls)"/>
<circle cx="38.33" cy="17.52" r="0.56" fill="#ababab" opacity="0.75" filter="url(#bls)"/>
<circle cx="40.48" cy="18.27" r="0.55" fill="#a6a6a6" opacity="0.75" filter="url(#bls)"/>
<circle cx="41.47" cy="20.30" r="0.53" fill="#9a9a9a" opacity="0.75" filter="url(#bls)"/>
<circle cx="42.17" cy="21.31" r="0.82" fill="#9a9a9a" opacity="0.75" filter="url(#bls)"/>
<circle cx="38.35" cy="19.23" r="0.50" fill="#ababab" opacity="0.75" filter="url(#bls)"/>
<circle cx="40.29" cy="19.86" r="0.54" fill="#505050" opacity="0.75" filter="url(#bls)"/>
<circle cx="44.55" cy="20.88" r="0.72" fill="#4a4a4a" opacity="0.75" filter="url(#bls)"/>
<circle cx="42.73" cy="21.43" r="0.77" fill="#a6a6a6" opacity="0.75" filter="url(#bls)"/>
<circle cx="43.99" cy="15.93" r="0.58" fill="#ababab" opacity="0.75" filter="url(#bls)"/>
<circle cx="43.25" cy="18.58" r="0.70" fill="#ababab" opacity="0.75" filter="url(#bls)"/>
<circle cx="52.00" cy="15.80" r="7.00" fill="#6a6a6a" opacity="0.35" filter="url(#bl3)"/>
<circle cx="52.00" cy="15.80" r="4.42" fill="#727272" filter="url(#blp)"/>
<circle cx="55.84" cy="15.72" r="1.60" fill="#434343" opacity="0.6" filter="url(#bl)"/>
<circle cx="54.84" cy="17.10" r="1.79" fill="#434343" opacity="0.6" filter="url(#bl)"/>
<circle cx="52.38" cy="19.08" r="1.72" fill="#434343" opacity="0.6" filter="url(#bl)"/>
<circle cx="49.95" cy="18.92" r="1.55" fill="#434343" opacity="0.6" filter="url(#bl)"/>
<circle cx="48.85" cy="16.67" r="1.59" fill="#434343" opacity="0.6" filter="url(#bl)"/>
<circle cx="49.00" cy="13.94" r="1.80" fill="#434343" opacity="0.6" filter="url(#bl)"/>
<circle cx="51.31" cy="12.85" r="1.77" fill="#434343" opacity="0.6" filter="url(#bl)"/>
<circle cx="52.51" cy="12.15" r="1.57" fill="#434343" opacity="0.6" filter="url(#bl)"/>
<circle cx="54.59" cy="13.86" r="1.76" fill="#434343" opacity="0.6" filter="url(#bl)"/>
<circle cx="52.69" cy="16.47" r="0.60" fill="#9a9a9a" opacity="0.75" filter="url(#bls)"/>
<circle cx="53.44" cy="14.40" r="0.77" fill="#9a9a9a" opacity="0.75" filter="url(#bls)"/>
<circle cx="51.31" cy="16.39" r="0.82" fill="#9a9a9a" opacity="0.75" filter="url(#bls)"/>
<circle cx="48.67" cy="16.67" r="0.78" fill="#9a9a9a" opacity="0.75" filter="url(#bls)"/>
<circle cx="53.11" cy="16.75" r="0.70" fill="#a6a6a6" opacity="0.75" filter="url(#bls)"/>
<circle cx="52.74" cy="14.96" r="0.68" fill="#9a9a9a" opacity="0.75" filter="url(#bls)"/>
<circle cx="55.27" cy="15.08" r="0.59" fill="#ababab" opacity="0.75" filter="url(#bls)"/>
<circle cx="49.13" cy="16.64" r="0.82" fill="#4a4a4a" opacity="0.75" filter="url(#bls)"/>
<circle cx="52.89" cy="14.57" r="0.60" fill="#a6a6a6" opacity="0.75" filter="url(#bls)"/>
<circle cx="55.03" cy="15.45" r="0.84" fill="#9a9a9a" opacity="0.75" filter="url(#bls)"/>
<circle cx="54.06" cy="16.89" r="0.53" fill="#a6a6a6" opacity="0.75" filter="url(#bls)"/>
<circle cx="52.04" cy="13.51" r="0.77" fill="#505050" opacity="0.75" filter="url(#bls)"/>
<circle cx="50.97" cy="16.16" r="0.57" fill="#505050" opacity="0.75" filter="url(#bls)"/>
<circle cx="51.42" cy="16.32" r="0.54" fill="#a6a6a6" opacity="0.75" filter="url(#bls)"/>
<circle cx="48.74" cy="14.84" r="0.56" fill="#505050" opacity="0.75" filter="url(#bls)"/>
<circle cx="54.17" cy="17.37" r="0.52" fill="#ababab" opacity="0.75" filter="url(#bls)"/>
<circle cx="52.98" cy="13.92" r="0.56" fill="#ababab" opacity="0.75" filter="url(#bls)"/>
<circle cx="54.29" cy="18.28" r="0.75" fill="#ababab" opacity="0.75" filter="url(#bls)"/>
<circle cx="53.91" cy="16.52" r="0.84" fill="#a6a6a6" opacity="0.75" filter="url(#bls)"/>
<circle cx="49.99" cy="14.97" r="0.52" fill="#505050" opacity="0.75" filter="url(#bls)"/>
<circle cx="50.79" cy="15.02" r="0.74" fill="#4a4a4a" opacity="0.75" filter="url(#bls)"/>
<circle cx="53.97" cy="13.35" r="0.54" fill="#4a4a4a" opacity="0.75" filter="url(#bls)"/>
<circle cx="53.21" cy="18.86" r="0.55" fill="#505050" opacity="0.75" filter="url(#bls)"/>
<circle cx="48.69" cy="15.83" r="0.59" fill="#ababab" opacity="0.75" filter="url(#bls)"/>
<circle cx="51.10" cy="16.31" r="0.58" fill="#a6a6a6" opacity="0.75" filter="url(#bls)"/>
<circle cx="50.48" cy="14.16" r="0.73" fill="#9a9a9a" opacity="0.75" filter="url(#bls)"/>
<circle cx="50.05" cy="17.03" r="0.60" fill="#4a4a4a" opacity="0.75" filter="url(#bls)"/>
<circle cx="7.20" cy="32.10" r="7.20" fill="#6a6a6a" opacity="0.35" filter="url(#bl3)"/>
<circle cx="7.20" cy="32.10" r="4.60" fill="#727272" filter="url(#blp)"/>
<circle cx="10.37" cy="33.05" r="1.80" fill="#434343" opacity="0.6" filter="url(#bl)"/>
<circle cx="10.18" cy="33.41" r="1.82" fill="#434343" opacity="0.6" filter="url(#bl)"/>
<circle cx="8.25" cy="35.70" r="1.51" fill="#434343" opacity="0.6" filter="url(#bl)"/>
<circle cx="4.86" cy="35.11" r="1.58" fill="#434343" opacity="0.6" filter="url(#bl)"/>
<circle cx="3.86" cy="32.99" r="1.51" fill="#434343" opacity="0.6" filter="url(#bl)"/>
<circle cx="4.09" cy="31.78" r="1.77" fill="#434343" opacity="0.6" filter="url(#bl)"/>
<circle cx="4.61" cy="29.39" r="1.86" fill="#434343" opacity="0.6" filter="url(#bl)"/>
<circle cx="6.91" cy="28.12" r="1.62" fill="#434343" opacity="0.6" filter="url(#bl)"/>
<circle cx="9.90" cy="29.22" r="1.47" fill="#434343" opacity="0.6" filter="url(#bl)"/>
<circle cx="7.65" cy="32.31" r="0.75" fill="#9a9a9a" opacity="0.75" filter="url(#bls)"/>
<circle cx="3.89" cy="30.62" r="0.50" fill="#505050" opacity="0.75" filter="url(#bls)"/>
<circle cx="6.00" cy="31.97" r="0.59" fill="#a6a6a6" opacity="0.75" filter="url(#bls)"/>
<circle cx="9.75" cy="34.50" r="0.56" fill="#505050" opacity="0.75" filter="url(#bls)"/>
<circle cx="7.39" cy="32.57" r="0.81" fill="#4a4a4a" opacity="0.75" filter="url(#bls)"/>
<circle cx="4.36" cy="32.84" r="0.66" fill="#a6a6a6" opacity="0.75" filter="url(#bls)"/>
<circle cx="9.04" cy="30.25" r="0.81" fill="#a6a6a6" opacity="0.75" filter="url(#bls)"/>
<circle cx="9.00" cy="32.61" r="0.64" fill="#a6a6a6" opacity="0.75" filter="url(#bls)"/>
<circle cx="8.53" cy="32.85" r="0.82" fill="#505050" opacity="0.75" filter="url(#bls)"/>
<circle cx="4.55" cy="32.54" r="0.53" fill="#4a4a4a" opacity="0.75" filter="url(#bls)"/>
<circle cx="10.55" cy="31.26" r="0.69" fill="#505050" opacity="0.75" filter="url(#bls)"/>
<circle cx="7.39" cy="35.52" r="0.63" fill="#505050" opacity="0.75" filter="url(#bls)"/>
<circle cx="9.15" cy="30.81" r="0.66" fill="#9a9a9a" opacity="0.75" filter="url(#bls)"/>
<circle cx="6.32" cy="34.62" r="0.71" fill="#4a4a4a" opacity="0.75" filter="url(#bls)"/>
<circle cx="5.78" cy="34.18" r="0.54" fill="#ababab" opacity="0.75" filter="url(#bls)"/>
<circle cx="8.00" cy="28.62" r="0.60" fill="#505050" opacity="0.75" filter="url(#bls)"/>
<circle cx="6.10" cy="30.76" r="0.77" fill="#ababab" opacity="0.75" filter="url(#bls)"/>
<circle cx="4.03" cy="33.89" r="0.51" fill="#9a9a9a" opacity="0.75" filter="url(#bls)"/>
<circle cx="7.99" cy="32.30" r="0.59" fill="#9a9a9a" opacity="0.75" filter="url(#bls)"/>
<circle cx="5.77" cy="34.74" r="0.73" fill="#ababab" opacity="0.75" filter="url(#bls)"/>
<circle cx="4.05" cy="31.27" r="0.83" fill="#505050" opacity="0.75" filter="url(#bls)"/>
<circle cx="7.79" cy="33.64" r="0.66" fill="#a6a6a6" opacity="0.75" filter="url(#bls)"/>
<circle cx="6.38" cy="35.46" r="0.77" fill="#505050" opacity="0.75" filter="url(#bls)"/>
<circle cx="9.47" cy="34.89" r="0.77" fill="#505050" opacity="0.75" filter="url(#bls)"/>
<circle cx="7.73" cy="32.62" r="0.55" fill="#a6a6a6" opacity="0.75" filter="url(#bls)"/>
<circle cx="8.65" cy="29.05" r="0.51" fill="#a6a6a6" opacity="0.75" filter="url(#bls)"/>
<circle cx="6.01" cy="32.18" r="0.74" fill="#ababab" opacity="0.75" filter="url(#bls)"/>
<circle cx="9.01" cy="29.43" r="0.55" fill="#505050" opacity="0.75" filter="url(#bls)"/>
<circle cx="6.93" cy="32.42" r="0.55" fill="#505050" opacity="0.75" filter="url(#bls)"/>
<circle cx="8.65" cy="30.03" r="0.53" fill="#9a9a9a" opacity="0.75" filter="url(#bls)"/>
<circle cx="27.60" cy="33.40" r="7.00" fill="#6a6a6a" opacity="0.35" filter="url(#bl3)"/>
<circle cx="27.60" cy="33.40" r="4.42" fill="#727272" filter="url(#blp)"/>
<circle cx="30.98" cy="33.88" r="1.61" fill="#434343" opacity="0.6" filter="url(#bl)"/>
<circle cx="29.88" cy="36.00" r="1.73" fill="#434343" opacity="0.6" filter="url(#bl)"/>
<circle cx="27.83" cy="36.41" r="1.55" fill="#434343" opacity="0.6" filter="url(#bl)"/>
<circle cx="25.61" cy="35.97" r="1.59" fill="#434343" opacity="0.6" filter="url(#bl)"/>
<circle cx="24.28" cy="35.17" r="1.38" fill="#434343" opacity="0.6" filter="url(#bl)"/>
<circle cx="24.59" cy="31.18" r="1.37" fill="#434343" opacity="0.6" filter="url(#bl)"/>
<circle cx="25.36" cy="31.17" r="1.63" fill="#434343" opacity="0.6" filter="url(#bl)"/>
<circle cx="29.11" cy="30.18" r="1.78" fill="#434343" opacity="0.6" filter="url(#bl)"/>
<circle cx="30.04" cy="31.29" r="1.56" fill="#434343" opacity="0.6" filter="url(#bl)"/>
<circle cx="27.24" cy="36.67" r="0.68" fill="#4a4a4a" opacity="0.75" filter="url(#bls)"/>
<circle cx="28.55" cy="31.75" r="0.77" fill="#505050" opacity="0.75" filter="url(#bls)"/>
<circle cx="30.23" cy="32.77" r="0.75" fill="#4a4a4a" opacity="0.75" filter="url(#bls)"/>
<circle cx="28.05" cy="33.18" r="0.78" fill="#9a9a9a" opacity="0.75" filter="url(#bls)"/>
<circle cx="28.37" cy="33.89" r="0.75" fill="#9a9a9a" opacity="0.75" filter="url(#bls)"/>
<circle cx="30.59" cy="33.41" r="0.83" fill="#4a4a4a" opacity="0.75" filter="url(#bls)"/>
<circle cx="26.78" cy="31.29" r="0.54" fill="#4a4a4a" opacity="0.75" filter="url(#bls)"/>
<circle cx="27.58" cy="35.32" r="0.54" fill="#9a9a9a" opacity="0.75" filter="url(#bls)"/>
<circle cx="29.30" cy="35.69" r="0.84" fill="#9a9a9a" opacity="0.75" filter="url(#bls)"/>
<circle cx="26.67" cy="32.41" r="0.66" fill="#ababab" opacity="0.75" filter="url(#bls)"/>
<circle cx="26.60" cy="30.06" r="0.71" fill="#9a9a9a" opacity="0.75" filter="url(#bls)"/>
<circle cx="29.36" cy="31.23" r="0.72" fill="#505050" opacity="0.75" filter="url(#bls)"/>
<circle cx="24.79" cy="33.99" r="0.65" fill="#9a9a9a" opacity="0.75" filter="url(#bls)"/>
<circle cx="29.00" cy="36.19" r="0.58" fill="#505050" opacity="0.75" filter="url(#bls)"/>
<circle cx="24.95" cy="31.16" r="0.53" fill="#4a4a4a" opacity="0.75" filter="url(#bls)"/>
<circle cx="28.26" cy="36.54" r="0.81" fill="#ababab" opacity="0.75" filter="url(#bls)"/>
<circle cx="30.37" cy="34.55" r="0.65" fill="#a6a6a6" opacity="0.75" filter="url(#bls)"/>
<circle cx="26.68" cy="35.89" r="0.63" fill="#ababab" opacity="0.75" filter="url(#bls)"/>
<circle cx="25.79" cy="35.20" r="0.77" fill="#4a4a4a" opacity="0.75" filter="url(#bls)"/>
<circle cx="28.96" cy="34.27" r="0.79" fill="#ababab" opacity="0.75" filter="url(#bls)"/>
<circle cx="28.45" cy="33.28" r="0.62" fill="#a6a6a6" opacity="0.75" filter="url(#bls)"/>
<circle cx="27.98" cy="32.31" r="0.84" fill="#4a4a4a" opacity="0.75" filter="url(#bls)"/>
<circle cx="30.03" cy="31.44" r="0.51" fill="#ababab" opacity="0.75" filter="url(#bls)"/>
<circle cx="28.16" cy="34.76" r="0.63" fill="#a6a6a6" opacity="0.75" filter="url(#bls)"/>
<circle cx="28.19" cy="30.23" r="0.50" fill="#9a9a9a" opacity="0.75" filter="url(#bls)"/>
<circle cx="29.09" cy="34.42" r="0.59" fill="#4a4a4a" opacity="0.75" filter="url(#bls)"/>
<circle cx="24.91" cy="34.40" r="0.59" fill="#a6a6a6" opacity="0.75" filter="url(#bls)"/>
<circle cx="42.50" cy="42.20" r="8.40" fill="#6a6a6a" opacity="0.35" filter="url(#bl3)"/>
<circle cx="42.50" cy="42.20" r="5.70" fill="#727272" filter="url(#blp)"/>
<circle cx="46.75" cy="42.37" r="2.34" fill="#434343" opacity="0.6" filter="url(#bl)"/>
<circle cx="46.01" cy="44.77" r="2.04" fill="#434343" opacity="0.6" filter="url(#bl)"/>
<circle cx="43.25" cy="47.07" r="1.93" fill="#434343" opacity="0.6" filter="url(#bl)"/>
<circle cx="40.73" cy="46.59" r="1.86" fill="#434343" opacity="0.6" filter="url(#bl)"/>
<circle cx="38.30" cy="44.44" r="2.33" fill="#434343" opacity="0.6" filter="url(#bl)"/>
<circle cx="38.71" cy="40.45" r="1.94" fill="#434343" opacity="0.6" filter="url(#bl)"/>
<circle cx="40.57" cy="37.88" r="2.13" fill="#434343" opacity="0.6" filter="url(#bl)"/>
<circle cx="42.14" cy="38.25" r="2.25" fill="#434343" opacity="0.6" filter="url(#bl)"/>
<circle cx="46.07" cy="40.27" r="2.18" fill="#434343" opacity="0.6" filter="url(#bl)"/>
<circle cx="45.48" cy="44.79" r="0.67" fill="#a6a6a6" opacity="0.75" filter="url(#bls)"/>
<circle cx="39.20" cy="44.59" r="0.82" fill="#ababab" opacity="0.75" filter="url(#bls)"/>
<circle cx="41.58" cy="39.61" r="0.76" fill="#9a9a9a" opacity="0.75" filter="url(#bls)"/>
<circle cx="42.16" cy="45.37" r="0.54" fill="#505050" opacity="0.75" filter="url(#bls)"/>
<circle cx="41.79" cy="44.63" r="0.74" fill="#9a9a9a" opacity="0.75" filter="url(#bls)"/>
<circle cx="38.79" cy="40.33" r="0.62" fill="#ababab" opacity="0.75" filter="url(#bls)"/>
<circle cx="44.14" cy="41.39" r="0.80" fill="#4a4a4a" opacity="0.75" filter="url(#bls)"/>
<circle cx="41.66" cy="41.52" r="0.71" fill="#9a9a9a" opacity="0.75" filter="url(#bls)"/>
<circle cx="47.00" cy="41.22" r="0.53" fill="#505050" opacity="0.75" filter="url(#bls)"/>
<circle cx="45.53" cy="39.78" r="0.55" fill="#ababab" opacity="0.75" filter="url(#bls)"/>
<circle cx="43.97" cy="41.46" r="0.79" fill="#505050" opacity="0.75" filter="url(#bls)"/>
<circle cx="38.47" cy="44.31" r="0.55" fill="#9a9a9a" opacity="0.75" filter="url(#bls)"/>
<circle cx="44.33" cy="42.15" r="0.73" fill="#505050" opacity="0.75" filter="url(#bls)"/>
<circle cx="44.27" cy="38.95" r="0.60" fill="#a6a6a6" opacity="0.75" filter="url(#bls)"/>
<circle cx="41.49" cy="46.29" r="0.66" fill="#4a4a4a" opacity="0.75" filter="url(#bls)"/>
<circle cx="44.45" cy="39.29" r="0.70" fill="#505050" opacity="0.75" filter="url(#bls)"/>
<circle cx="38.47" cy="44.35" r="0.56" fill="#505050" opacity="0.75" filter="url(#bls)"/>
<circle cx="45.40" cy="38.94" r="0.60" fill="#505050" opacity="0.75" filter="url(#bls)"/>
<circle cx="45.09" cy="42.18" r="0.69" fill="#ababab" opacity="0.75" filter="url(#bls)"/>
<circle cx="39.61" cy="42.46" r="0.80" fill="#4a4a4a" opacity="0.75" filter="url(#bls)"/>
<circle cx="46.93" cy="43.23" r="0.72" fill="#4a4a4a" opacity="0.75" filter="url(#bls)"/>
<circle cx="44.14" cy="45.60" r="0.74" fill="#9a9a9a" opacity="0.75" filter="url(#bls)"/>
<circle cx="40.00" cy="43.50" r="0.50" fill="#ababab" opacity="0.75" filter="url(#bls)"/>
<circle cx="44.99" cy="44.83" r="0.53" fill="#a6a6a6" opacity="0.75" filter="url(#bls)"/>
<circle cx="45.04" cy="42.48" r="0.73" fill="#9a9a9a" opacity="0.75" filter="url(#bls)"/>
<circle cx="46.55" cy="40.63" r="0.80" fill="#9a9a9a" opacity="0.75" filter="url(#bls)"/>
<circle cx="39.64" cy="44.89" r="0.77" fill="#ababab" opacity="0.75" filter="url(#bls)"/>
<circle cx="43.07" cy="46.24" r="0.67" fill="#a6a6a6" opacity="0.75" filter="url(#bls)"/>
<circle cx="40.75" cy="46.50" r="0.64" fill="#a6a6a6" opacity="0.75" filter="url(#bls)"/>
<circle cx="43.39" cy="44.70" r="0.80" fill="#a6a6a6" opacity="0.75" filter="url(#bls)"/>
<circle cx="45.19" cy="39.56" r="0.78" fill="#a6a6a6" opacity="0.75" filter="url(#bls)"/>
<circle cx="41.24" cy="42.62" r="0.82" fill="#4a4a4a" opacity="0.75" filter="url(#bls)"/>
<circle cx="43.76" cy="40.71" r="0.55" fill="#505050" opacity="0.75" filter="url(#bls)"/>
<circle cx="44.06" cy="39.75" r="0.68" fill="#ababab" opacity="0.75" filter="url(#bls)"/>
<circle cx="40.88" cy="41.93" r="0.74" fill="#505050" opacity="0.75" filter="url(#bls)"/>
<circle cx="45.21" cy="41.36" r="0.61" fill="#a6a6a6" opacity="0.75" filter="url(#bls)"/>
<circle cx="38.97" cy="42.50" r="0.51" fill="#4a4a4a" opacity="0.75" filter="url(#bls)"/>
<circle cx="41.55" cy="46.11" r="0.63" fill="#ababab" opacity="0.75" filter="url(#bls)"/>
<circle cx="41.86" cy="44.38" r="0.72" fill="#ababab" opacity="0.75" filter="url(#bls)"/>
<circle cx="45.66" cy="42.87" r="0.72" fill="#9a9a9a" opacity="0.75" filter="url(#bls)"/>
<circle cx="42.72" cy="45.29" r="0.72" fill="#4a4a4a" opacity="0.75" filter="url(#bls)"/>
<circle cx="46.85" cy="41.70" r="0.52" fill="#4a4a4a" opacity="0.75" filter="url(#bls)"/>
<circle cx="45.58" cy="39.31" r="0.73" fill="#505050" opacity="0.75" filter="url(#bls)"/>
<circle cx="42.86" cy="39.59" r="0.58" fill="#9a9a9a" opacity="0.75" filter="url(#bls)"/>
<circle cx="44.00" cy="44.79" r="0.72" fill="#a6a6a6" opacity="0.75" filter="url(#bls)"/>
<circle cx="44.85" cy="41.93" r="0.56" fill="#505050" opacity="0.75" filter="url(#bls)"/>
<circle cx="65.60" cy="35.50" r="7.20" fill="#6a6a6a" opacity="0.35" filter="url(#bl3)"/>
<circle cx="65.60" cy="35.50" r="4.60" fill="#727272" filter="url(#blp)"/>
<circle cx="68.98" cy="34.82" r="1.86" fill="#434343" opacity="0.6" filter="url(#bl)"/>
<circle cx="68.58" cy="37.42" r="1.54" fill="#434343" opacity="0.6" filter="url(#bl)"/>
<circle cx="65.81" cy="38.79" r="1.49" fill="#434343" opacity="0.6" filter="url(#bl)"/>
<circle cx="63.83" cy="38.97" r="1.71" fill="#434343" opacity="0.6" filter="url(#bl)"/>
<circle cx="62.72" cy="36.92" r="1.41" fill="#434343" opacity="0.6" filter="url(#bl)"/>
<circle cx="62.79" cy="33.67" r="1.75" fill="#434343" opacity="0.6" filter="url(#bl)"/>
<circle cx="63.75" cy="32.51" r="1.63" fill="#434343" opacity="0.6" filter="url(#bl)"/>
<circle cx="65.59" cy="32.00" r="1.80" fill="#434343" opacity="0.6" filter="url(#bl)"/>
<circle cx="68.61" cy="33.45" r="1.68" fill="#434343" opacity="0.6" filter="url(#bl)"/>
<circle cx="65.78" cy="37.91" r="0.81" fill="#9a9a9a" opacity="0.75" filter="url(#bls)"/>
<circle cx="67.05" cy="34.57" r="0.72" fill="#505050" opacity="0.75" filter="url(#bls)"/>
<circle cx="65.95" cy="36.59" r="0.83" fill="#505050" opacity="0.75" filter="url(#bls)"/>
<circle cx="63.93" cy="33.82" r="0.54" fill="#9a9a9a" opacity="0.75" filter="url(#bls)"/>
<circle cx="64.91" cy="38.55" r="0.58" fill="#4a4a4a" opacity="0.75" filter="url(#bls)"/>
<circle cx="65.87" cy="38.73" r="0.79" fill="#505050" opacity="0.75" filter="url(#bls)"/>
<circle cx="64.81" cy="35.55" r="0.78" fill="#a6a6a6" opacity="0.75" filter="url(#bls)"/>
<circle cx="65.89" cy="33.49" r="0.83" fill="#ababab" opacity="0.75" filter="url(#bls)"/>
<circle cx="65.86" cy="38.88" r="0.78" fill="#ababab" opacity="0.75" filter="url(#bls)"/>
<circle cx="62.49" cy="35.50" r="0.66" fill="#a6a6a6" opacity="0.75" filter="url(#bls)"/>
<circle cx="64.21" cy="38.28" r="0.59" fill="#a6a6a6" opacity="0.75" filter="url(#bls)"/>
<circle cx="65.73" cy="31.76" r="0.53" fill="#4a4a4a" opacity="0.75" filter="url(#bls)"/>
<circle cx="62.27" cy="35.51" r="0.57" fill="#ababab" opacity="0.75" filter="url(#bls)"/>
<circle cx="67.09" cy="33.23" r="0.74" fill="#a6a6a6" opacity="0.75" filter="url(#bls)"/>
<circle cx="65.80" cy="38.61" r="0.75" fill="#a6a6a6" opacity="0.75" filter="url(#bls)"/>
<circle cx="64.27" cy="33.13" r="0.63" fill="#9a9a9a" opacity="0.75" filter="url(#bls)"/>
<circle cx="64.25" cy="34.33" r="0.82" fill="#4a4a4a" opacity="0.75" filter="url(#bls)"/>
<circle cx="64.66" cy="35.21" r="0.75" fill="#a6a6a6" opacity="0.75" filter="url(#bls)"/>
<circle cx="64.45" cy="35.03" r="0.61" fill="#505050" opacity="0.75" filter="url(#bls)"/>
<circle cx="62.51" cy="33.85" r="0.64" fill="#a6a6a6" opacity="0.75" filter="url(#bls)"/>
<circle cx="67.07" cy="33.57" r="0.66" fill="#505050" opacity="0.75" filter="url(#bls)"/>
<circle cx="67.29" cy="34.90" r="0.62" fill="#4a4a4a" opacity="0.75" filter="url(#bls)"/>
<circle cx="65.34" cy="32.18" r="0.63" fill="#a6a6a6" opacity="0.75" filter="url(#bls)"/>
<circle cx="63.63" cy="37.55" r="0.70" fill="#ababab" opacity="0.75" filter="url(#bls)"/>
<circle cx="68.74" cy="37.33" r="0.53" fill="#9a9a9a" opacity="0.75" filter="url(#bls)"/>
<circle cx="67.37" cy="34.51" r="0.65" fill="#4a4a4a" opacity="0.75" filter="url(#bls)"/>
<circle cx="63.71" cy="36.06" r="0.66" fill="#505050" opacity="0.75" filter="url(#bls)"/>
<circle cx="62.73" cy="37.36" r="0.83" fill="#a6a6a6" opacity="0.75" filter="url(#bls)"/>
<circle cx="64.74" cy="36.68" r="0.54" fill="#505050" opacity="0.75" filter="url(#bls)"/>
<circle cx="64.96" cy="32.46" r="0.79" fill="#ababab" opacity="0.75" filter="url(#bls)"/>
<circle cx="19.40" cy="49.00" r="7.70" fill="#6a6a6a" opacity="0.35" filter="url(#bl3)"/>
<circle cx="19.40" cy="49.00" r="5.06" fill="#727272" filter="url(#blp)"/>
<circle cx="22.83" cy="48.50" r="1.74" fill="#434343" opacity="0.6" filter="url(#bl)"/>
<circle cx="22.30" cy="51.94" r="1.73" fill="#434343" opacity="0.6" filter="url(#bl)"/>
<circle cx="21.04" cy="52.43" r="1.66" fill="#434343" opacity="0.6" filter="url(#bl)"/>
<circle cx="17.45" cy="52.57" r="1.91" fill="#434343" opacity="0.6" filter="url(#bl)"/>
<circle cx="15.29" cy="50.24" r="1.77" fill="#434343" opacity="0.6" filter="url(#bl)"/>
<circle cx="16.11" cy="47.82" r="1.99" fill="#434343" opacity="0.6" filter="url(#bl)"/>
<circle cx="17.45" cy="45.07" r="1.68" fill="#434343" opacity="0.6" filter="url(#bl)"/>
<circle cx="19.94" cy="45.52" r="1.88" fill="#434343" opacity="0.6" filter="url(#bl)"/>
<circle cx="22.57" cy="46.70" r="1.58" fill="#434343" opacity="0.6" filter="url(#bl)"/>
<circle cx="19.67" cy="47.28" r="0.67" fill="#4a4a4a" opacity="0.75" filter="url(#bls)"/>
<circle cx="20.61" cy="46.72" r="0.75" fill="#ababab" opacity="0.75" filter="url(#bls)"/>
<circle cx="22.30" cy="47.70" r="0.65" fill="#4a4a4a" opacity="0.75" filter="url(#bls)"/>
<circle cx="20.23" cy="50.47" r="0.76" fill="#a6a6a6" opacity="0.75" filter="url(#bls)"/>
<circle cx="21.80" cy="50.33" r="0.57" fill="#9a9a9a" opacity="0.75" filter="url(#bls)"/>
<circle cx="17.71" cy="51.50" r="0.78" fill="#505050" opacity="0.75" filter="url(#bls)"/>
<circle cx="21.52" cy="51.72" r="0.80" fill="#a6a6a6" opacity="0.75" filter="url(#bls)"/>
<circle cx="19.72" cy="47.96" r="0.67" fill="#a6a6a6" opacity="0.75" filter="url(#bls)"/>
<circle cx="18.29" cy="52.71" r="0.53" fill="#a6a6a6" opacity="0.75" filter="url(#bls)"/>
<circle cx="21.04" cy="47.46" r="0.65" fill="#a6a6a6" opacity="0.75" filter="url(#bls)"/>
<circle cx="23.08" cy="47.76" r="0.82" fill="#9a9a9a" opacity="0.75" filter="url(#bls)"/>
<circle cx="22.53" cy="51.43" r="0.71" fill="#505050" opacity="0.75" filter="url(#bls)"/>
<circle cx="20.01" cy="45.15" r="0.78" fill="#ababab" opacity="0.75" filter="url(#bls)"/>
<circle cx="21.26" cy="50.85" r="0.78" fill="#9a9a9a" opacity="0.75" filter="url(#bls)"/>
<circle cx="19.43" cy="49.45" r="0.80" fill="#505050" opacity="0.75" filter="url(#bls)"/>
<circle cx="19.28" cy="50.01" r="0.78" fill="#ababab" opacity="0.75" filter="url(#bls)"/>
<circle cx="17.89" cy="49.72" r="0.85" fill="#ababab" opacity="0.75" filter="url(#bls)"/>
<circle cx="22.42" cy="49.60" r="0.61" fill="#ababab" opacity="0.75" filter="url(#bls)"/>
<circle cx="18.73" cy="46.97" r="0.74" fill="#9a9a9a" opacity="0.75" filter="url(#bls)"/>
<circle cx="20.31" cy="48.39" r="0.58" fill="#ababab" opacity="0.75" filter="url(#bls)"/>
<circle cx="18.61" cy="51.62" r="0.52" fill="#505050" opacity="0.75" filter="url(#bls)"/>
<circle cx="20.55" cy="46.97" r="0.79" fill="#a6a6a6" opacity="0.75" filter="url(#bls)"/>
<circle cx="17.48" cy="49.06" r="0.57" fill="#9a9a9a" opacity="0.75" filter="url(#bls)"/>
<circle cx="19.80" cy="46.44" r="0.56" fill="#ababab" opacity="0.75" filter="url(#bls)"/>
<circle cx="22.53" cy="50.53" r="0.83" fill="#505050" opacity="0.75" filter="url(#bls)"/>
<circle cx="15.48" cy="49.48" r="0.76" fill="#9a9a9a" opacity="0.75" filter="url(#bls)"/>
<circle cx="19.59" cy="49.55" r="0.58" fill="#a6a6a6" opacity="0.75" filter="url(#bls)"/>
<circle cx="18.06" cy="47.04" r="0.52" fill="#9a9a9a" opacity="0.75" filter="url(#bls)"/>
<circle cx="17.68" cy="51.45" r="0.73" fill="#4a4a4a" opacity="0.75" filter="url(#bls)"/>
<circle cx="23.23" cy="47.56" r="0.67" fill="#a6a6a6" opacity="0.75" filter="url(#bls)"/>
<circle cx="17.71" cy="52.65" r="0.78" fill="#505050" opacity="0.75" filter="url(#bls)"/>
<circle cx="17.17" cy="49.68" r="0.53" fill="#4a4a4a" opacity="0.75" filter="url(#bls)"/>
<circle cx="21.63" cy="45.91" r="0.59" fill="#505050" opacity="0.75" filter="url(#bls)"/>
<circle cx="20.51" cy="51.12" r="0.69" fill="#a6a6a6" opacity="0.75" filter="url(#bls)"/>
<circle cx="21.14" cy="46.54" r="0.63" fill="#505050" opacity="0.75" filter="url(#bls)"/>
<circle cx="20.90" cy="48.36" r="0.71" fill="#505050" opacity="0.75" filter="url(#bls)"/>
<circle cx="67.60" cy="53.80" r="7.20" fill="#6a6a6a" opacity="0.35" filter="url(#bl3)"/>
<circle cx="67.60" cy="53.80" r="4.60" fill="#727272" filter="url(#blp)"/>
<circle cx="71.12" cy="54.11" r="1.50" fill="#434343" opacity="0.6" filter="url(#bl)"/>
<circle cx="69.97" cy="56.76" r="1.44" fill="#434343" opacity="0.6" filter="url(#bl)"/>
<circle cx="67.88" cy="57.38" r="1.53" fill="#434343" opacity="0.6" filter="url(#bl)"/>
<circle cx="65.98" cy="57.35" r="1.80" fill="#434343" opacity="0.6" filter="url(#bl)"/>
<circle cx="64.35" cy="54.50" r="1.82" fill="#434343" opacity="0.6" filter="url(#bl)"/>
<circle cx="64.83" cy="52.19" r="1.42" fill="#434343" opacity="0.6" filter="url(#bl)"/>
<circle cx="66.32" cy="50.93" r="1.89" fill="#434343" opacity="0.6" filter="url(#bl)"/>
<circle cx="67.34" cy="49.92" r="1.48" fill="#434343" opacity="0.6" filter="url(#bl)"/>
<circle cx="70.26" cy="51.63" r="1.64" fill="#434343" opacity="0.6" filter="url(#bl)"/>
<circle cx="67.24" cy="54.24" r="0.59" fill="#4a4a4a" opacity="0.75" filter="url(#bls)"/>
<circle cx="68.53" cy="55.13" r="0.68" fill="#ababab" opacity="0.75" filter="url(#bls)"/>
<circle cx="70.11" cy="54.40" r="0.58" fill="#9a9a9a" opacity="0.75" filter="url(#bls)"/>
<circle cx="70.53" cy="52.82" r="0.75" fill="#ababab" opacity="0.75" filter="url(#bls)"/>
<circle cx="68.36" cy="52.23" r="0.55" fill="#4a4a4a" opacity="0.75" filter="url(#bls)"/>
<circle cx="66.93" cy="54.01" r="0.57" fill="#505050" opacity="0.75" filter="url(#bls)"/>
<circle cx="69.55" cy="55.84" r="0.84" fill="#ababab" opacity="0.75" filter="url(#bls)"/>
<circle cx="68.44" cy="55.87" r="0.63" fill="#9a9a9a" opacity="0.75" filter="url(#bls)"/>
<circle cx="65.71" cy="56.67" r="0.57" fill="#4a4a4a" opacity="0.75" filter="url(#bls)"/>
<circle cx="64.74" cy="52.57" r="0.55" fill="#9a9a9a" opacity="0.75" filter="url(#bls)"/>
<circle cx="68.63" cy="54.25" r="0.84" fill="#9a9a9a" opacity="0.75" filter="url(#bls)"/>
<circle cx="68.58" cy="54.92" r="0.82" fill="#ababab" opacity="0.75" filter="url(#bls)"/>
<circle cx="65.22" cy="53.61" r="0.80" fill="#ababab" opacity="0.75" filter="url(#bls)"/>
<circle cx="67.38" cy="55.64" r="0.54" fill="#505050" opacity="0.75" filter="url(#bls)"/>
<circle cx="66.73" cy="50.56" r="0.71" fill="#4a4a4a" opacity="0.75" filter="url(#bls)"/>
<circle cx="68.70" cy="53.90" r="0.65" fill="#9a9a9a" opacity="0.75" filter="url(#bls)"/>
<circle cx="64.19" cy="54.22" r="0.66" fill="#4a4a4a" opacity="0.75" filter="url(#bls)"/>
<circle cx="66.57" cy="56.19" r="0.73" fill="#9a9a9a" opacity="0.75" filter="url(#bls)"/>
<circle cx="67.62" cy="52.96" r="0.82" fill="#505050" opacity="0.75" filter="url(#bls)"/>
<circle cx="65.72" cy="52.53" r="0.62" fill="#505050" opacity="0.75" filter="url(#bls)"/>
<circle cx="68.17" cy="50.62" r="0.55" fill="#ababab" opacity="0.75" filter="url(#bls)"/>
<circle cx="67.79" cy="57.16" r="0.84" fill="#a6a6a6" opacity="0.75" filter="url(#bls)"/>
<circle cx="66.30" cy="56.25" r="0.70" fill="#ababab" opacity="0.75" filter="url(#bls)"/>
<circle cx="65.08" cy="52.87" r="0.58" fill="#ababab" opacity="0.75" filter="url(#bls)"/>
<circle cx="69.82" cy="54.90" r="0.65" fill="#a6a6a6" opacity="0.75" filter="url(#bls)"/>
<circle cx="68.41" cy="55.68" r="0.77" fill="#505050" opacity="0.75" filter="url(#bls)"/>
<circle cx="64.58" cy="54.90" r="0.85" fill="#ababab" opacity="0.75" filter="url(#bls)"/>
<circle cx="67.63" cy="55.94" r="0.80" fill="#4a4a4a" opacity="0.75" filter="url(#bls)"/>
<circle cx="65.68" cy="51.10" r="0.57" fill="#9a9a9a" opacity="0.75" filter="url(#bls)"/>
<circle cx="65.43" cy="56.62" r="0.83" fill="#a6a6a6" opacity="0.75" filter="url(#bls)"/>
<circle cx="3.10" cy="72.10" r="6.70" fill="#6a6a6a" opacity="0.35" filter="url(#bl3)"/>
<circle cx="3.10" cy="72.10" r="4.14" fill="#727272" filter="url(#blp)"/>
<circle cx="6.44" cy="72.58" r="1.37" fill="#434343" opacity="0.6" filter="url(#bl)"/>
<circle cx="5.46" cy="73.76" r="1.70" fill="#434343" opacity="0.6" filter="url(#bl)"/>
<circle cx="2.69" cy="75.55" r="1.65" fill="#434343" opacity="0.6" filter="url(#bl)"/>
<circle cx="1.20" cy="74.24" r="1.52" fill="#434343" opacity="0.6" filter="url(#bl)"/>
<circle cx="-0.21" cy="73.50" r="1.28" fill="#434343" opacity="0.6" filter="url(#bl)"/>
<circle cx="-0.28" cy="71.21" r="1.70" fill="#434343" opacity="0.6" filter="url(#bl)"/>
<circle cx="1.22" cy="69.55" r="1.29" fill="#434343" opacity="0.6" filter="url(#bl)"/>
<circle cx="2.68" cy="68.55" r="1.65" fill="#434343" opacity="0.6" filter="url(#bl)"/>
<circle cx="5.50" cy="70.59" r="1.32" fill="#434343" opacity="0.6" filter="url(#bl)"/>
<circle cx="3.49" cy="69.35" r="0.75" fill="#505050" opacity="0.75" filter="url(#bls)"/>
<circle cx="1.39" cy="69.99" r="0.81" fill="#ababab" opacity="0.75" filter="url(#bls)"/>
<circle cx="3.87" cy="68.98" r="0.51" fill="#a6a6a6" opacity="0.75" filter="url(#bls)"/>
<circle cx="4.88" cy="73.00" r="0.64" fill="#505050" opacity="0.75" filter="url(#bls)"/>
<circle cx="0.85" cy="72.08" r="0.84" fill="#ababab" opacity="0.75" filter="url(#bls)"/>
<circle cx="3.62" cy="69.34" r="0.74" fill="#a6a6a6" opacity="0.75" filter="url(#bls)"/>
<circle cx="6.29" cy="72.11" r="0.62" fill="#4a4a4a" opacity="0.75" filter="url(#bls)"/>
<circle cx="1.91" cy="72.51" r="0.64" fill="#505050" opacity="0.75" filter="url(#bls)"/>
<circle cx="2.32" cy="72.81" r="0.55" fill="#ababab" opacity="0.75" filter="url(#bls)"/>
<circle cx="5.61" cy="71.53" r="0.72" fill="#a6a6a6" opacity="0.75" filter="url(#bls)"/>
<circle cx="2.23" cy="71.91" r="0.53" fill="#ababab" opacity="0.75" filter="url(#bls)"/>
<circle cx="5.60" cy="73.47" r="0.80" fill="#505050" opacity="0.75" filter="url(#bls)"/>
<circle cx="0.11" cy="71.34" r="0.70" fill="#505050" opacity="0.75" filter="url(#bls)"/>
<circle cx="3.98" cy="75.30" r="0.58" fill="#505050" opacity="0.75" filter="url(#bls)"/>
<circle cx="3.72" cy="73.65" r="0.67" fill="#ababab" opacity="0.75" filter="url(#bls)"/>
<circle cx="4.97" cy="70.23" r="0.81" fill="#505050" opacity="0.75" filter="url(#bls)"/>
<circle cx="2.77" cy="74.98" r="0.52" fill="#ababab" opacity="0.75" filter="url(#bls)"/>
<circle cx="1.36" cy="70.70" r="0.77" fill="#9a9a9a" opacity="0.75" filter="url(#bls)"/>
<circle cx="1.54" cy="75.03" r="0.73" fill="#4a4a4a" opacity="0.75" filter="url(#bls)"/>
<circle cx="0.11" cy="72.30" r="0.78" fill="#ababab" opacity="0.75" filter="url(#bls)"/>
<circle cx="2.93" cy="73.58" r="0.82" fill="#a6a6a6" opacity="0.75" filter="url(#bls)"/>
<circle cx="4.11" cy="74.57" r="0.59" fill="#a6a6a6" opacity="0.75" filter="url(#bls)"/>
<circle cx="1.59" cy="71.79" r="0.68" fill="#9a9a9a" opacity="0.75" filter="url(#bls)"/>
<circle cx="2.78" cy="74.57" r="0.58" fill="#505050" opacity="0.75" filter="url(#bls)"/>
<circle cx="22.80" cy="72.10" r="7.20" fill="#6a6a6a" opacity="0.35" filter="url(#bl3)"/>
<circle cx="22.80" cy="72.10" r="4.60" fill="#727272" filter="url(#blp)"/>
<circle cx="26.17" cy="72.33" r="1.46" fill="#434343" opacity="0.6" filter="url(#bl)"/>
<circle cx="25.03" cy="74.55" r="1.43" fill="#434343" opacity="0.6" filter="url(#bl)"/>
<circle cx="23.22" cy="75.35" r="1.72" fill="#434343" opacity="0.6" filter="url(#bl)"/>
<circle cx="21.03" cy="75.26" r="1.52" fill="#434343" opacity="0.6" filter="url(#bl)"/>
<circle cx="19.90" cy="73.54" r="1.77" fill="#434343" opacity="0.6" filter="url(#bl)"/>
<circle cx="19.31" cy="70.52" r="1.56" fill="#434343" opacity="0.6" filter="url(#bl)"/>
<circle cx="21.78" cy="68.37" r="1.86" fill="#434343" opacity="0.6" filter="url(#bl)"/>
<circle cx="23.34" cy="68.90" r="1.78" fill="#434343" opacity="0.6" filter="url(#bl)"/>
<circle cx="25.09" cy="69.76" r="1.57" fill="#434343" opacity="0.6" filter="url(#bl)"/>
<circle cx="22.69" cy="71.31" r="0.53" fill="#505050" opacity="0.75" filter="url(#bls)"/>
<circle cx="26.08" cy="72.52" r="0.71" fill="#4a4a4a" opacity="0.75" filter="url(#bls)"/>
<circle cx="22.39" cy="72.18" r="0.65" fill="#ababab" opacity="0.75" filter="url(#bls)"/>
<circle cx="23.65" cy="69.10" r="0.83" fill="#4a4a4a" opacity="0.75" filter="url(#bls)"/>
<circle cx="24.61" cy="74.50" r="0.57" fill="#a6a6a6" opacity="0.75" filter="url(#bls)"/>
<circle cx="25.21" cy="74.36" r="0.57" fill="#a6a6a6" opacity="0.75" filter="url(#bls)"/>
<circle cx="23.97" cy="73.32" r="0.74" fill="#9a9a9a" opacity="0.75" filter="url(#bls)"/>
<circle cx="19.14" cy="71.83" r="0.70" fill="#9a9a9a" opacity="0.75" filter="url(#bls)"/>
<circle cx="21.10" cy="69.04" r="0.57" fill="#9a9a9a" opacity="0.75" filter="url(#bls)"/>
<circle cx="21.95" cy="71.77" r="0.77" fill="#4a4a4a" opacity="0.75" filter="url(#bls)"/>
<circle cx="24.07" cy="70.87" r="0.62" fill="#a6a6a6" opacity="0.75" filter="url(#bls)"/>
<circle cx="20.85" cy="71.05" r="0.69" fill="#9a9a9a" opacity="0.75" filter="url(#bls)"/>
<circle cx="20.45" cy="74.10" r="0.65" fill="#a6a6a6" opacity="0.75" filter="url(#bls)"/>
<circle cx="21.02" cy="73.60" r="0.72" fill="#505050" opacity="0.75" filter="url(#bls)"/>
<circle cx="26.31" cy="72.86" r="0.63" fill="#ababab" opacity="0.75" filter="url(#bls)"/>
<circle cx="25.72" cy="73.95" r="0.76" fill="#a6a6a6" opacity="0.75" filter="url(#bls)"/>
<circle cx="23.59" cy="74.63" r="0.63" fill="#505050" opacity="0.75" filter="url(#bls)"/>
<circle cx="21.04" cy="69.85" r="0.58" fill="#a6a6a6" opacity="0.75" filter="url(#bls)"/>
<circle cx="23.62" cy="74.06" r="0.77" fill="#a6a6a6" opacity="0.75" filter="url(#bls)"/>
<circle cx="25.47" cy="71.45" r="0.67" fill="#a6a6a6" opacity="0.75" filter="url(#bls)"/>
<circle cx="20.36" cy="74.07" r="0.55" fill="#ababab" opacity="0.75" filter="url(#bls)"/>
<circle cx="23.05" cy="73.18" r="0.52" fill="#ababab" opacity="0.75" filter="url(#bls)"/>
<circle cx="21.14" cy="69.33" r="0.61" fill="#9a9a9a" opacity="0.75" filter="url(#bls)"/>
<circle cx="24.01" cy="75.36" r="0.84" fill="#4a4a4a" opacity="0.75" filter="url(#bls)"/>
<circle cx="22.96" cy="69.93" r="0.66" fill="#ababab" opacity="0.75" filter="url(#bls)"/>
<circle cx="22.15" cy="70.11" r="0.81" fill="#4a4a4a" opacity="0.75" filter="url(#bls)"/>
<circle cx="20.61" cy="71.39" r="0.65" fill="#a6a6a6" opacity="0.75" filter="url(#bls)"/>
<circle cx="19.87" cy="70.42" r="0.71" fill="#4a4a4a" opacity="0.75" filter="url(#bls)"/>
<circle cx="22.17" cy="69.80" r="0.61" fill="#505050" opacity="0.75" filter="url(#bls)"/>
<circle cx="20.40" cy="69.65" r="0.73" fill="#505050" opacity="0.75" filter="url(#bls)"/>
<circle cx="13.30" cy="88.40" r="7.20" fill="#6a6a6a" opacity="0.35" filter="url(#bl3)"/>
<circle cx="13.30" cy="88.40" r="4.60" fill="#727272" filter="url(#blp)"/>
<circle cx="17.18" cy="88.93" r="1.42" fill="#434343" opacity="0.6" filter="url(#bl)"/>
<circle cx="16.10" cy="90.01" r="1.43" fill="#434343" opacity="0.6" filter="url(#bl)"/>
<circle cx="13.65" cy="91.53" r="1.65" fill="#434343" opacity="0.6" filter="url(#bl)"/>
<circle cx="12.43" cy="92.12" r="1.66" fill="#434343" opacity="0.6" filter="url(#bl)"/>
<circle cx="10.32" cy="90.34" r="1.47" fill="#434343" opacity="0.6" filter="url(#bl)"/>
<circle cx="10.24" cy="87.00" r="1.79" fill="#434343" opacity="0.6" filter="url(#bl)"/>
<circle cx="11.29" cy="85.26" r="1.69" fill="#434343" opacity="0.6" filter="url(#bl)"/>
<circle cx="14.00" cy="85.09" r="1.75" fill="#434343" opacity="0.6" filter="url(#bl)"/>
<circle cx="15.64" cy="86.13" r="1.84" fill="#434343" opacity="0.6" filter="url(#bl)"/>
<circle cx="14.78" cy="90.22" r="0.78" fill="#ababab" opacity="0.75" filter="url(#bls)"/>
<circle cx="10.43" cy="89.40" r="0.78" fill="#a6a6a6" opacity="0.75" filter="url(#bls)"/>
<circle cx="12.05" cy="86.38" r="0.80" fill="#ababab" opacity="0.75" filter="url(#bls)"/>
<circle cx="14.76" cy="86.35" r="0.78" fill="#a6a6a6" opacity="0.75" filter="url(#bls)"/>
<circle cx="14.32" cy="88.96" r="0.63" fill="#ababab" opacity="0.75" filter="url(#bls)"/>
<circle cx="11.02" cy="86.91" r="0.84" fill="#a6a6a6" opacity="0.75" filter="url(#bls)"/>
<circle cx="13.82" cy="86.14" r="0.83" fill="#a6a6a6" opacity="0.75" filter="url(#bls)"/>
<circle cx="13.90" cy="88.82" r="0.60" fill="#9a9a9a" opacity="0.75" filter="url(#bls)"/>
<circle cx="11.94" cy="85.71" r="0.70" fill="#9a9a9a" opacity="0.75" filter="url(#bls)"/>
<circle cx="15.17" cy="90.27" r="0.80" fill="#9a9a9a" opacity="0.75" filter="url(#bls)"/>
<circle cx="12.95" cy="89.01" r="0.57" fill="#ababab" opacity="0.75" filter="url(#bls)"/>
<circle cx="13.48" cy="85.40" r="0.84" fill="#9a9a9a" opacity="0.75" filter="url(#bls)"/>
<circle cx="11.94" cy="85.41" r="0.71" fill="#9a9a9a" opacity="0.75" filter="url(#bls)"/>
<circle cx="11.43" cy="86.40" r="0.52" fill="#4a4a4a" opacity="0.75" filter="url(#bls)"/>
<circle cx="13.36" cy="85.04" r="0.65" fill="#505050" opacity="0.75" filter="url(#bls)"/>
<circle cx="15.55" cy="90.85" r="0.79" fill="#4a4a4a" opacity="0.75" filter="url(#bls)"/>
<circle cx="15.62" cy="86.38" r="0.51" fill="#a6a6a6" opacity="0.75" filter="url(#bls)"/>
<circle cx="11.02" cy="89.82" r="0.50" fill="#a6a6a6" opacity="0.75" filter="url(#bls)"/>
<circle cx="11.91" cy="86.94" r="0.56" fill="#505050" opacity="0.75" filter="url(#bls)"/>
<circle cx="13.64" cy="89.40" r="0.74" fill="#ababab" opacity="0.75" filter="url(#bls)"/>
<circle cx="13.77" cy="88.58" r="0.61" fill="#505050" opacity="0.75" filter="url(#bls)"/>
<circle cx="12.51" cy="86.11" r="0.70" fill="#4a4a4a" opacity="0.75" filter="url(#bls)"/>
<circle cx="15.10" cy="90.41" r="0.53" fill="#9a9a9a" opacity="0.75" filter="url(#bls)"/>
<circle cx="12.20" cy="87.15" r="0.52" fill="#9a9a9a" opacity="0.75" filter="url(#bls)"/>
<circle cx="13.65" cy="85.27" r="0.82" fill="#9a9a9a" opacity="0.75" filter="url(#bls)"/>
<circle cx="13.29" cy="86.39" r="0.82" fill="#9a9a9a" opacity="0.75" filter="url(#bls)"/>
<circle cx="13.45" cy="90.45" r="0.76" fill="#4a4a4a" opacity="0.75" filter="url(#bls)"/>
<circle cx="11.89" cy="85.06" r="0.78" fill="#a6a6a6" opacity="0.75" filter="url(#bls)"/>
<circle cx="15.45" cy="89.18" r="0.62" fill="#ababab" opacity="0.75" filter="url(#bls)"/>
<circle cx="11.84" cy="89.54" r="0.61" fill="#505050" opacity="0.75" filter="url(#bls)"/>
<circle cx="33.70" cy="87.70" r="7.20" fill="#6a6a6a" opacity="0.35" filter="url(#bl3)"/>
<circle cx="33.70" cy="87.70" r="4.60" fill="#727272" filter="url(#blp)"/>
<circle cx="37.18" cy="87.05" r="1.62" fill="#434343" opacity="0.6" filter="url(#bl)"/>
<circle cx="36.35" cy="89.56" r="1.76" fill="#434343" opacity="0.6" filter="url(#bl)"/>
<circle cx="33.94" cy="91.14" r="1.40" fill="#434343" opacity="0.6" filter="url(#bl)"/>
<circle cx="32.38" cy="90.70" r="1.57" fill="#434343" opacity="0.6" filter="url(#bl)"/>
<circle cx="30.00" cy="87.99" r="1.75" fill="#434343" opacity="0.6" filter="url(#bl)"/>
<circle cx="30.04" cy="86.14" r="1.48" fill="#434343" opacity="0.6" filter="url(#bl)"/>
<circle cx="31.70" cy="85.02" r="1.57" fill="#434343" opacity="0.6" filter="url(#bl)"/>
<circle cx="35.15" cy="84.75" r="1.42" fill="#434343" opacity="0.6" filter="url(#bl)"/>
<circle cx="35.71" cy="85.21" r="1.77" fill="#434343" opacity="0.6" filter="url(#bl)"/>
<circle cx="34.40" cy="85.05" r="0.52" fill="#ababab" opacity="0.75" filter="url(#bls)"/>
<circle cx="34.14" cy="84.60" r="0.77" fill="#a6a6a6" opacity="0.75" filter="url(#bls)"/>
<circle cx="36.81" cy="87.23" r="0.51" fill="#a6a6a6" opacity="0.75" filter="url(#bls)"/>
<circle cx="34.50" cy="90.81" r="0.69" fill="#4a4a4a" opacity="0.75" filter="url(#bls)"/>
<circle cx="34.17" cy="86.28" r="0.50" fill="#4a4a4a" opacity="0.75" filter="url(#bls)"/>
<circle cx="36.58" cy="89.46" r="0.80" fill="#9a9a9a" opacity="0.75" filter="url(#bls)"/>
<circle cx="33.57" cy="89.23" r="0.62" fill="#505050" opacity="0.75" filter="url(#bls)"/>
<circle cx="35.06" cy="84.43" r="0.61" fill="#9a9a9a" opacity="0.75" filter="url(#bls)"/>
<circle cx="31.94" cy="86.79" r="0.81" fill="#a6a6a6" opacity="0.75" filter="url(#bls)"/>
<circle cx="33.91" cy="86.77" r="0.64" fill="#4a4a4a" opacity="0.75" filter="url(#bls)"/>
<circle cx="33.48" cy="84.18" r="0.75" fill="#4a4a4a" opacity="0.75" filter="url(#bls)"/>
<circle cx="30.21" cy="88.08" r="0.62" fill="#505050" opacity="0.75" filter="url(#bls)"/>
<circle cx="31.07" cy="89.23" r="0.82" fill="#505050" opacity="0.75" filter="url(#bls)"/>
<circle cx="34.95" cy="86.55" r="0.76" fill="#9a9a9a" opacity="0.75" filter="url(#bls)"/>
<circle cx="32.27" cy="89.89" r="0.69" fill="#ababab" opacity="0.75" filter="url(#bls)"/>
<circle cx="32.06" cy="86.84" r="0.51" fill="#505050" opacity="0.75" filter="url(#bls)"/>
<circle cx="35.64" cy="90.76" r="0.50" fill="#9a9a9a" opacity="0.75" filter="url(#bls)"/>
<circle cx="32.94" cy="88.01" r="0.83" fill="#ababab" opacity="0.75" filter="url(#bls)"/>
<circle cx="32.79" cy="88.47" r="0.54" fill="#4a4a4a" opacity="0.75" filter="url(#bls)"/>
<circle cx="35.07" cy="87.63" r="0.75" fill="#505050" opacity="0.75" filter="url(#bls)"/>
<circle cx="34.17" cy="87.15" r="0.52" fill="#505050" opacity="0.75" filter="url(#bls)"/>
<circle cx="32.32" cy="86.38" r="0.56" fill="#4a4a4a" opacity="0.75" filter="url(#bls)"/>
<circle cx="31.18" cy="85.57" r="0.68" fill="#a6a6a6" opacity="0.75" filter="url(#bls)"/>
<circle cx="36.74" cy="88.87" r="0.85" fill="#4a4a4a" opacity="0.75" filter="url(#bls)"/>
<circle cx="36.16" cy="86.78" r="0.58" fill="#505050" opacity="0.75" filter="url(#bls)"/>
<circle cx="33.96" cy="91.15" r="0.50" fill="#9a9a9a" opacity="0.75" filter="url(#bls)"/>
<circle cx="30.81" cy="86.26" r="0.69" fill="#ababab" opacity="0.75" filter="url(#bls)"/>
<circle cx="32.64" cy="88.53" r="0.71" fill="#a6a6a6" opacity="0.75" filter="url(#bls)"/>
<circle cx="33.19" cy="84.70" r="0.77" fill="#505050" opacity="0.75" filter="url(#bls)"/>
<circle cx="32.83" cy="87.51" r="0.58" fill="#a6a6a6" opacity="0.75" filter="url(#bls)"/>
<circle cx="57.40" cy="82.30" r="7.20" fill="#6a6a6a" opacity="0.35" filter="url(#bl3)"/>
<circle cx="57.40" cy="82.30" r="4.60" fill="#727272" filter="url(#blp)"/>
<circle cx="60.65" cy="82.47" r="1.66" fill="#434343" opacity="0.6" filter="url(#bl)"/>
<circle cx="60.17" cy="84.82" r="1.57" fill="#434343" opacity="0.6" filter="url(#bl)"/>
<circle cx="58.39" cy="85.72" r="1.59" fill="#434343" opacity="0.6" filter="url(#bl)"/>
<circle cx="55.23" cy="84.77" r="1.83" fill="#434343" opacity="0.6" filter="url(#bl)"/>
<circle cx="54.21" cy="82.93" r="1.47" fill="#434343" opacity="0.6" filter="url(#bl)"/>
<circle cx="53.66" cy="81.64" r="1.43" fill="#434343" opacity="0.6" filter="url(#bl)"/>
<circle cx="55.71" cy="78.97" r="1.86" fill="#434343" opacity="0.6" filter="url(#bl)"/>
<circle cx="58.17" cy="78.67" r="1.70" fill="#434343" opacity="0.6" filter="url(#bl)"/>
<circle cx="59.91" cy="80.37" r="1.88" fill="#434343" opacity="0.6" filter="url(#bl)"/>
<circle cx="59.32" cy="79.95" r="0.69" fill="#ababab" opacity="0.75" filter="url(#bls)"/>
<circle cx="56.46" cy="80.61" r="0.50" fill="#505050" opacity="0.75" filter="url(#bls)"/>
<circle cx="54.02" cy="80.70" r="0.81" fill="#505050" opacity="0.75" filter="url(#bls)"/>
<circle cx="60.38" cy="80.83" r="0.59" fill="#9a9a9a" opacity="0.75" filter="url(#bls)"/>
<circle cx="57.49" cy="85.07" r="0.69" fill="#ababab" opacity="0.75" filter="url(#bls)"/>
<circle cx="57.14" cy="79.17" r="0.68" fill="#ababab" opacity="0.75" filter="url(#bls)"/>
<circle cx="59.02" cy="83.26" r="0.71" fill="#a6a6a6" opacity="0.75" filter="url(#bls)"/>
<circle cx="56.38" cy="83.36" r="0.76" fill="#4a4a4a" opacity="0.75" filter="url(#bls)"/>
<circle cx="56.16" cy="85.75" r="0.60" fill="#9a9a9a" opacity="0.75" filter="url(#bls)"/>
<circle cx="58.82" cy="81.95" r="0.64" fill="#4a4a4a" opacity="0.75" filter="url(#bls)"/>
<circle cx="57.42" cy="79.00" r="0.65" fill="#ababab" opacity="0.75" filter="url(#bls)"/>
<circle cx="55.62" cy="79.40" r="0.73" fill="#a6a6a6" opacity="0.75" filter="url(#bls)"/>
<circle cx="54.81" cy="81.38" r="0.66" fill="#4a4a4a" opacity="0.75" filter="url(#bls)"/>
<circle cx="59.14" cy="85.51" r="0.76" fill="#505050" opacity="0.75" filter="url(#bls)"/>
<circle cx="54.02" cy="81.55" r="0.66" fill="#9a9a9a" opacity="0.75" filter="url(#bls)"/>
<circle cx="58.95" cy="80.38" r="0.56" fill="#505050" opacity="0.75" filter="url(#bls)"/>
<circle cx="56.56" cy="79.20" r="0.58" fill="#4a4a4a" opacity="0.75" filter="url(#bls)"/>
<circle cx="54.31" cy="80.64" r="0.82" fill="#ababab" opacity="0.75" filter="url(#bls)"/>
<circle cx="57.42" cy="84.25" r="0.65" fill="#505050" opacity="0.75" filter="url(#bls)"/>
<circle cx="55.37" cy="80.98" r="0.65" fill="#4a4a4a" opacity="0.75" filter="url(#bls)"/>
<circle cx="60.73" cy="83.95" r="0.66" fill="#ababab" opacity="0.75" filter="url(#bls)"/>
<circle cx="57.06" cy="80.15" r="0.67" fill="#4a4a4a" opacity="0.75" filter="url(#bls)"/>
<circle cx="56.41" cy="79.00" r="0.56" fill="#9a9a9a" opacity="0.75" filter="url(#bls)"/>
<circle cx="58.29" cy="83.15" r="0.73" fill="#ababab" opacity="0.75" filter="url(#bls)"/>
<circle cx="57.41" cy="85.57" r="0.66" fill="#ababab" opacity="0.75" filter="url(#bls)"/>
<circle cx="60.04" cy="84.89" r="0.79" fill="#4a4a4a" opacity="0.75" filter="url(#bls)"/>
<circle cx="57.52" cy="82.64" r="0.85" fill="#a6a6a6" opacity="0.75" filter="url(#bls)"/>
<circle cx="58.08" cy="85.13" r="0.83" fill="#a6a6a6" opacity="0.75" filter="url(#bls)"/>
<circle cx="59.63" cy="83.98" r="0.52" fill="#a6a6a6" opacity="0.75" filter="url(#bls)"/>
<circle cx="58.77" cy="81.08" r="0.62" fill="#9a9a9a" opacity="0.75" filter="url(#bls)"/>
<circle cx="46.90" cy="41.60" r="7.20" fill="#6a6a6a" opacity="0.35" filter="url(#bl3)"/>
<circle cx="46.90" cy="41.60" r="4.60" fill="#727272" filter="url(#blp)"/>
<circle cx="50.11" cy="40.65" r="1.67" fill="#434343" opacity="0.6" filter="url(#bl)"/>
<circle cx="48.98" cy="44.77" r="1.51" fill="#434343" opacity="0.6" filter="url(#bl)"/>
<circle cx="47.18" cy="45.29" r="1.40" fill="#434343" opacity="0.6" filter="url(#bl)"/>
<circle cx="44.80" cy="44.80" r="1.63" fill="#434343" opacity="0.6" filter="url(#bl)"/>
<circle cx="43.26" cy="42.82" r="1.63" fill="#434343" opacity="0.6" filter="url(#bl)"/>
<circle cx="44.16" cy="39.63" r="1.45" fill="#434343" opacity="0.6" filter="url(#bl)"/>
<circle cx="45.59" cy="38.62" r="1.48" fill="#434343" opacity="0.6" filter="url(#bl)"/>
<circle cx="48.48" cy="38.48" r="1.42" fill="#434343" opacity="0.6" filter="url(#bl)"/>
<circle cx="49.72" cy="39.69" r="1.84" fill="#434343" opacity="0.6" filter="url(#bl)"/>
<circle cx="47.52" cy="40.56" r="0.51" fill="#505050" opacity="0.75" filter="url(#bls)"/>
<circle cx="49.15" cy="42.94" r="0.69" fill="#ababab" opacity="0.75" filter="url(#bls)"/>
<circle cx="45.37" cy="39.17" r="0.68" fill="#a6a6a6" opacity="0.75" filter="url(#bls)"/>
<circle cx="48.16" cy="41.85" r="0.50" fill="#ababab" opacity="0.75" filter="url(#bls)"/>
<circle cx="46.12" cy="37.99" r="0.51" fill="#9a9a9a" opacity="0.75" filter="url(#bls)"/>
<circle cx="45.91" cy="42.04" r="0.66" fill="#4a4a4a" opacity="0.75" filter="url(#bls)"/>
<circle cx="44.87" cy="39.96" r="0.52" fill="#9a9a9a" opacity="0.75" filter="url(#bls)"/>
<circle cx="44.49" cy="40.18" r="0.64" fill="#ababab" opacity="0.75" filter="url(#bls)"/>
<circle cx="46.18" cy="40.37" r="0.71" fill="#505050" opacity="0.75" filter="url(#bls)"/>
<circle cx="46.96" cy="43.06" r="0.74" fill="#a6a6a6" opacity="0.75" filter="url(#bls)"/>
<circle cx="45.61" cy="42.86" r="0.66" fill="#4a4a4a" opacity="0.75" filter="url(#bls)"/>
<circle cx="48.18" cy="44.26" r="0.58" fill="#9a9a9a" opacity="0.75" filter="url(#bls)"/>
<circle cx="45.79" cy="39.06" r="0.69" fill="#4a4a4a" opacity="0.75" filter="url(#bls)"/>
<circle cx="45.86" cy="38.22" r="0.78" fill="#4a4a4a" opacity="0.75" filter="url(#bls)"/>
<circle cx="50.48" cy="42.41" r="0.68" fill="#9a9a9a" opacity="0.75" filter="url(#bls)"/>
<circle cx="46.52" cy="38.01" r="0.84" fill="#4a4a4a" opacity="0.75" filter="url(#bls)"/>
<circle cx="49.26" cy="41.82" r="0.75" fill="#9a9a9a" opacity="0.75" filter="url(#bls)"/>
<circle cx="44.55" cy="44.24" r="0.55" fill="#a6a6a6" opacity="0.75" filter="url(#bls)"/>
<circle cx="49.35" cy="41.03" r="0.64" fill="#9a9a9a" opacity="0.75" filter="url(#bls)"/>
<circle cx="48.38" cy="44.25" r="0.84" fill="#9a9a9a" opacity="0.75" filter="url(#bls)"/>
<circle cx="47.38" cy="43.60" r="0.77" fill="#4a4a4a" opacity="0.75" filter="url(#bls)"/>
<circle cx="45.42" cy="40.94" r="0.81" fill="#4a4a4a" opacity="0.75" filter="url(#bls)"/>
<circle cx="48.94" cy="41.09" r="0.60" fill="#505050" opacity="0.75" filter="url(#bls)"/>
<circle cx="49.63" cy="40.05" r="0.56" fill="#4a4a4a" opacity="0.75" filter="url(#bls)"/>
<circle cx="47.36" cy="40.01" r="0.58" fill="#9a9a9a" opacity="0.75" filter="url(#bls)"/>
<circle cx="44.73" cy="40.93" r="0.50" fill="#a6a6a6" opacity="0.75" filter="url(#bls)"/>
<circle cx="47.77" cy="43.10" r="0.74" fill="#505050" opacity="0.75" filter="url(#bls)"/>
<circle cx="48.57" cy="43.05" r="0.77" fill="#ababab" opacity="0.75" filter="url(#bls)"/>
<circle cx="44.68" cy="43.88" r="0.81" fill="#9a9a9a" opacity="0.75" filter="url(#bls)"/>
<circle cx="45.20" cy="44.79" r="0.64" fill="#9a9a9a" opacity="0.75" filter="url(#bls)"/>
<circle cx="38.30" cy="43.00" r="7.20" fill="#6a6a6a" opacity="0.35" filter="url(#bl3)"/>
<circle cx="38.30" cy="43.00" r="4.60" fill="#727272" filter="url(#blp)"/>
<circle cx="41.94" cy="42.38" r="1.52" fill="#434343" opacity="0.6" filter="url(#bl)"/>
<circle cx="41.68" cy="44.75" r="1.53" fill="#434343" opacity="0.6" filter="url(#bl)"/>
<circle cx="38.64" cy="46.72" r="1.42" fill="#434343" opacity="0.6" filter="url(#bl)"/>
<circle cx="35.93" cy="45.86" r="1.65" fill="#434343" opacity="0.6" filter="url(#bl)"/>
<circle cx="34.94" cy="43.74" r="1.84" fill="#434343" opacity="0.6" filter="url(#bl)"/>
<circle cx="35.14" cy="42.66" r="1.79" fill="#434343" opacity="0.6" filter="url(#bl)"/>
<circle cx="35.92" cy="40.01" r="1.86" fill="#434343" opacity="0.6" filter="url(#bl)"/>
<circle cx="38.19" cy="39.29" r="1.88" fill="#434343" opacity="0.6" filter="url(#bl)"/>
<circle cx="41.60" cy="41.50" r="1.84" fill="#434343" opacity="0.6" filter="url(#bl)"/>
<circle cx="40.65" cy="45.34" r="0.60" fill="#4a4a4a" opacity="0.75" filter="url(#bls)"/>
<circle cx="38.10" cy="44.69" r="0.71" fill="#4a4a4a" opacity="0.75" filter="url(#bls)"/>
<circle cx="38.59" cy="46.64" r="0.84" fill="#a6a6a6" opacity="0.75" filter="url(#bls)"/>
<circle cx="39.85" cy="44.62" r="0.84" fill="#505050" opacity="0.75" filter="url(#bls)"/>
<circle cx="38.13" cy="41.47" r="0.58" fill="#ababab" opacity="0.75" filter="url(#bls)"/>
<circle cx="36.07" cy="42.91" r="0.63" fill="#4a4a4a" opacity="0.75" filter="url(#bls)"/>
<circle cx="41.55" cy="42.21" r="0.66" fill="#ababab" opacity="0.75" filter="url(#bls)"/>
<circle cx="38.82" cy="45.28" r="0.79" fill="#a6a6a6" opacity="0.75" filter="url(#bls)"/>
<circle cx="38.50" cy="43.94" r="0.56" fill="#a6a6a6" opacity="0.75" filter="url(#bls)"/>
<circle cx="39.10" cy="43.75" r="0.62" fill="#505050" opacity="0.75" filter="url(#bls)"/>
<circle cx="37.74" cy="41.46" r="0.81" fill="#9a9a9a" opacity="0.75" filter="url(#bls)"/>
<circle cx="35.58" cy="42.89" r="0.64" fill="#9a9a9a" opacity="0.75" filter="url(#bls)"/>
<circle cx="35.94" cy="42.05" r="0.64" fill="#ababab" opacity="0.75" filter="url(#bls)"/>
<circle cx="37.09" cy="44.47" r="0.75" fill="#4a4a4a" opacity="0.75" filter="url(#bls)"/>
<circle cx="36.03" cy="44.51" r="0.56" fill="#ababab" opacity="0.75" filter="url(#bls)"/>
<circle cx="35.63" cy="42.41" r="0.77" fill="#ababab" opacity="0.75" filter="url(#bls)"/>
<circle cx="41.33" cy="41.98" r="0.85" fill="#a6a6a6" opacity="0.75" filter="url(#bls)"/>
<circle cx="39.29" cy="39.52" r="0.83" fill="#505050" opacity="0.75" filter="url(#bls)"/>
<circle cx="38.65" cy="45.11" r="0.65" fill="#4a4a4a" opacity="0.75" filter="url(#bls)"/>
<circle cx="36.45" cy="45.31" r="0.59" fill="#ababab" opacity="0.75" filter="url(#bls)"/>
<circle cx="37.57" cy="41.25" r="0.58" fill="#a6a6a6" opacity="0.75" filter="url(#bls)"/>
<circle cx="36.17" cy="41.04" r="0.53" fill="#4a4a4a" opacity="0.75" filter="url(#bls)"/>
<circle cx="37.25" cy="43.40" r="0.65" fill="#ababab" opacity="0.75" filter="url(#bls)"/>
<circle cx="37.36" cy="41.59" r="0.60" fill="#ababab" opacity="0.75" filter="url(#bls)"/>
<circle cx="39.50" cy="42.11" r="0.73" fill="#4a4a4a" opacity="0.75" filter="url(#bls)"/>
<circle cx="37.71" cy="45.48" r="0.73" fill="#4a4a4a" opacity="0.75" filter="url(#bls)"/>
<circle cx="37.67" cy="43.30" r="0.60" fill="#9a9a9a" opacity="0.75" filter="url(#bls)"/>
<circle cx="39.67" cy="41.76" r="0.62" fill="#9a9a9a" opacity="0.75" filter="url(#bls)"/>
<circle cx="36.74" cy="45.89" r="0.74" fill="#505050" opacity="0.75" filter="url(#bls)"/>
<circle cx="38.81" cy="45.18" r="0.68" fill="#9a9a9a" opacity="0.75" filter="url(#bls)"/>
</g>
</svg>
<rect x="387.70" y="428.00" width="71.40" height="95.40" fill="none" stroke="#111" stroke-width="1.1"/>
<line x1="426.50" y1="516.70" x2="437.70" y2="516.70" stroke="#e8e000" stroke-width="0.9"/>
<line x1="426.50" y1="515.10" x2="426.50" y2="518.30" stroke="#e8e000" stroke-width="0.9"/>
<line x1="437.70" y1="515.10" x2="437.70" y2="518.30" stroke="#e8e000" stroke-width="0.9"/>
<text x="440.40" y="518.70" font-size="5.4" fill="#e8e000">50 nm</text>
<text x="342.80" y="413.60" font-size="7.85" text-anchor="middle" fill="#222">BG505 UFO-E2p-</text>
<text x="342.80" y="422.30" font-size="7.85" text-anchor="middle" fill="#222">L4P (endo H)</text>
<text x="423.70" y="413.60" font-size="7.85" text-anchor="middle" fill="#222">BG505 UFO-10GS-I3-</text>
<text x="423.70" y="422.30" font-size="7.85" text-anchor="middle" fill="#222">01v9-L7P (endo H)</text>
<text x="535.80" y="415.80" font-size="7.85" text-anchor="middle" fill="#333">BG505 UFO-E2p-L4P</text>
<text x="535.80" y="424.40" font-size="7.85" text-anchor="middle" fill="#333">(endo H)</text>
<line x1="498.50" y1="430.60" x2="498.50" y2="499.60" stroke="#222" stroke-width="0.9"/>
<line x1="496.20" y1="495.10" x2="498.50" y2="495.10" stroke="#222" stroke-width="0.9"/>
<text x="495.30" y="497.60" font-size="7.2" font-weight="bold" text-anchor="end" fill="#111">0</text>
<line x1="496.20" y1="484.46" x2="498.50" y2="484.46" stroke="#222" stroke-width="0.9"/>
<text x="495.30" y="486.96" font-size="7.2" font-weight="bold" text-anchor="end" fill="#111">500</text>
<line x1="496.20" y1="473.82" x2="498.50" y2="473.82" stroke="#222" stroke-width="0.9"/>
<text x="495.30" y="476.32" font-size="7.2" font-weight="bold" text-anchor="end" fill="#111">1000</text>
<line x1="496.20" y1="463.18" x2="498.50" y2="463.18" stroke="#222" stroke-width="0.9"/>
<text x="495.30" y="465.68" font-size="7.2" font-weight="bold" text-anchor="end" fill="#111">1500</text>
<line x1="496.20" y1="452.54" x2="498.50" y2="452.54" stroke="#222" stroke-width="0.9"/>
<text x="495.30" y="455.04" font-size="7.2" font-weight="bold" text-anchor="end" fill="#111">2000</text>
<line x1="496.20" y1="441.90" x2="498.50" y2="441.90" stroke="#222" stroke-width="0.9"/>
<text x="495.30" y="444.40" font-size="7.2" font-weight="bold" text-anchor="end" fill="#111">2500</text>
<line x1="496.20" y1="431.26" x2="498.50" y2="431.26" stroke="#222" stroke-width="0.9"/>
<text x="495.30" y="433.76" font-size="7.2" font-weight="bold" text-anchor="end" fill="#111">3000</text>
<line x1="506.20" y1="507.30" x2="577.50" y2="507.30" stroke="#222" stroke-width="0.9"/>
<line x1="514.60" y1="507.30" x2="514.60" y2="509.60" stroke="#222" stroke-width="0.9"/>
<text x="514.60" y="517.80" font-size="7.2" font-weight="bold" text-anchor="middle" fill="#111">50</text>
<line x1="531.65" y1="507.30" x2="531.65" y2="509.60" stroke="#222" stroke-width="0.9"/>
<text x="531.65" y="517.80" font-size="7.2" font-weight="bold" text-anchor="middle" fill="#111">60</text>
<line x1="548.70" y1="507.30" x2="548.70" y2="509.60" stroke="#222" stroke-width="0.9"/>
<text x="548.70" y="517.80" font-size="7.2" font-weight="bold" text-anchor="middle" fill="#111">70</text>
<line x1="565.75" y1="507.30" x2="565.75" y2="509.60" stroke="#222" stroke-width="0.9"/>
<text x="565.75" y="517.80" font-size="7.2" font-weight="bold" text-anchor="middle" fill="#111">80</text>
<text x="540.18" y="529.8" font-size="7.1" text-anchor="middle" fill="#222">Temperature (<tspan font-size="4.6" dy="-2.6">o</tspan><tspan dy="2.6">C)</tspan></text>
<text x="474.60" y="465.10" font-size="7" text-anchor="middle" fill="#222" transform="rotate(-90 474.60 465.10)">Cp (kcal mol<tspan font-size="4.6" dy="-2.6">-1 o</tspan><tspan dy="2.6">C</tspan><tspan font-size="4.6" dy="-2.6">-1</tspan><tspan dy="2.6">)</tspan></text>
<path d="M514.60 495.10 L514.91 494.83 L515.35 494.44 L515.84 494.05 L516.31 493.82 L516.73 493.78 L517.16 493.85 L517.58 494.01 L518.01 494.25 L518.40 494.63 L518.76 495.14 L519.17 495.63 L519.72 495.95 L520.06 496.02 L520.45 496.05 L520.87 496.05 L521.31 496.02 L521.77 495.96 L522.23 495.90 L522.69 495.82 L523.12 495.74 L523.55 495.65 L523.98 495.56 L524.40 495.45 L524.83 495.33 L525.26 495.19 L525.68 495.04 L526.11 494.86 L526.53 494.67 L526.97 494.47 L527.41 494.26 L527.85 494.03 L528.29 493.78 L528.73 493.52 L529.15 493.22 L529.56 492.90 L529.95 492.55 L530.42 492.06 L530.86 491.57 L531.28 491.03 L531.68 490.40 L532.09 489.65 L532.50 488.72 L532.93 487.67 L533.36 486.54 L533.78 485.28 L534.21 483.85 L534.63 482.17 L535.06 480.20 L535.49 477.85 L535.93 475.12 L536.36 472.16 L536.79 469.09 L537.21 466.05 L537.62 463.18 L538.10 459.74 L538.57 456.18 L539.03 452.74 L539.45 449.67 L539.83 447.22 L540.35 444.52 L540.77 443.07 L541.20 442.54 L541.63 442.79 L542.07 443.96 L542.56 446.16 L542.98 448.80 L543.43 452.23 L543.91 455.82 L544.44 458.92 L544.81 460.65 L545.20 462.26 L545.60 463.75 L546.03 465.12 L546.49 466.35 L547.00 467.44 L547.42 468.19 L547.88 468.90 L548.37 469.56 L548.88 470.14 L549.39 470.60 L549.88 470.92 L550.33 471.08 L550.75 471.05 L551.32 470.57 L551.82 469.61 L552.27 468.33 L552.70 466.85 L553.13 465.31 L553.68 463.03 L554.22 460.36 L554.72 457.77 L555.18 455.73 L555.68 453.88 L556.10 452.74 L556.54 452.54 L557.04 453.29 L557.55 454.98 L558.08 457.86 L558.50 461.20 L558.95 465.44 L559.39 469.88 L559.78 473.82 L560.40 480.55 L560.98 485.52 L561.39 486.94 L561.83 487.27 L562.34 487.44 L562.81 487.57 L563.34 487.52 L563.88 487.54 L564.39 487.86 L564.84 488.65 L565.28 489.74 L565.70 490.90 L566.09 491.91 L566.53 493.00 L566.92 493.94 L567.46 494.67 L567.81 494.94 L568.22 495.14 L568.66 495.29 L569.12 495.39 L569.57 495.47 L570.01 495.53 L570.44 495.55 L570.87 495.53 L571.29 495.49 L571.72 495.42 L572.14 495.36 L572.57 495.31 L573.03 495.27 L573.52 495.23 L574.01 495.19 L574.46 495.16 L574.85 495.12 L575.13 495.10" fill="none" stroke="#000" stroke-width="1" stroke-linejoin="round"/>
<text x="499.80" y="436.00" font-size="7.8" font-weight="bold" fill="#111">T<tspan font-size="5.2" dy="1.8">m</tspan><tspan dy="-1.8">1 = 65.6</tspan></text>
<text x="499.80" y="445.90" font-size="7.8" font-weight="bold" fill="#111">T<tspan font-size="5.2" dy="1.8">m</tspan><tspan dy="-1.8">2 = 74.1</tspan></text>
<text x="499.80" y="455.40" font-size="7.8" font-weight="bold" fill="#111">T<tspan font-size="5.2" dy="1.8">on</tspan><tspan dy="-1.8">  = 57.6</tspan></text>
<line x1="541.60" y1="443.50" x2="541.60" y2="474.50" stroke="#222" stroke-width="0.9" stroke-dasharray="2 1.3"/>
<line x1="556.20" y1="453.50" x2="556.20" y2="482.60" stroke="#222" stroke-width="0.9" stroke-dasharray="2 1.3"/>
<text x="536.8" y="481.6" font-size="7.4" fill="#111">T<tspan font-size="4.6" dy="1.5">m</tspan><tspan dy="-1.5">1</tspan></text>
<text x="548.2" y="489.7" font-size="7.4" fill="#111">T<tspan font-size="4.6" dy="1.5">m</tspan><tspan dy="-1.5">2</tspan></text>
<text x="638.50" y="415.80" font-size="7.85" text-anchor="middle" fill="#333">BG505 UFO-10GS-I3-</text>
<text x="638.50" y="424.40" font-size="7.85" text-anchor="middle" fill="#333">01v9-L7P (endo H)</text>
<line x1="607.60" y1="429.80" x2="607.60" y2="498.70" stroke="#222" stroke-width="0.9"/>
<line x1="605.30" y1="497.20" x2="607.60" y2="497.20" stroke="#222" stroke-width="0.9"/>
<text x="604.40" y="499.70" font-size="7.2" font-weight="bold" text-anchor="end" fill="#111">0</text>
<line x1="605.30" y1="487.69" x2="607.60" y2="487.69" stroke="#222" stroke-width="0.9"/>
<text x="604.40" y="490.19" font-size="7.2" font-weight="bold" text-anchor="end" fill="#111">500</text>
<line x1="605.30" y1="478.18" x2="607.60" y2="478.18" stroke="#222" stroke-width="0.9"/>
<text x="604.40" y="480.68" font-size="7.2" font-weight="bold" text-anchor="end" fill="#111">1000</text>
<line x1="605.30" y1="468.67" x2="607.60" y2="468.67" stroke="#222" stroke-width="0.9"/>
<text x="604.40" y="471.17" font-size="7.2" font-weight="bold" text-anchor="end" fill="#111">1500</text>
<line x1="605.30" y1="459.16" x2="607.60" y2="459.16" stroke="#222" stroke-width="0.9"/>
<text x="604.40" y="461.66" font-size="7.2" font-weight="bold" text-anchor="end" fill="#111">2000</text>
<line x1="605.30" y1="449.65" x2="607.60" y2="449.65" stroke="#222" stroke-width="0.9"/>
<text x="604.40" y="452.15" font-size="7.2" font-weight="bold" text-anchor="end" fill="#111">2500</text>
<line x1="605.30" y1="440.14" x2="607.60" y2="440.14" stroke="#222" stroke-width="0.9"/>
<text x="604.40" y="442.64" font-size="7.2" font-weight="bold" text-anchor="end" fill="#111">3000</text>
<line x1="605.30" y1="430.63" x2="607.60" y2="430.63" stroke="#222" stroke-width="0.9"/>
<text x="604.40" y="433.13" font-size="7.2" font-weight="bold" text-anchor="end" fill="#111">3500</text>
<line x1="615.70" y1="506.70" x2="685.00" y2="506.70" stroke="#222" stroke-width="0.9"/>
<line x1="624.60" y1="506.70" x2="624.60" y2="509.00" stroke="#222" stroke-width="0.9"/>
<text x="624.60" y="517.20" font-size="7.2" font-weight="bold" text-anchor="middle" fill="#111">50</text>
<line x1="641.65" y1="506.70" x2="641.65" y2="509.00" stroke="#222" stroke-width="0.9"/>
<text x="641.65" y="517.20" font-size="7.2" font-weight="bold" text-anchor="middle" fill="#111">60</text>
<line x1="658.70" y1="506.70" x2="658.70" y2="509.00" stroke="#222" stroke-width="0.9"/>
<text x="658.70" y="517.20" font-size="7.2" font-weight="bold" text-anchor="middle" fill="#111">70</text>
<line x1="675.75" y1="506.70" x2="675.75" y2="509.00" stroke="#222" stroke-width="0.9"/>
<text x="675.75" y="517.20" font-size="7.2" font-weight="bold" text-anchor="middle" fill="#111">80</text>
<text x="650.18" y="529.8" font-size="7.1" text-anchor="middle" fill="#222">Temperature (<tspan font-size="4.6" dy="-2.6">o</tspan><tspan dy="2.6">C)</tspan></text>
<text x="583.60" y="464.25" font-size="7" text-anchor="middle" fill="#222" transform="rotate(-90 583.60 464.25)">Cp (kcal mol<tspan font-size="4.6" dy="-2.6">-1 o</tspan><tspan dy="2.6">C</tspan><tspan font-size="4.6" dy="-2.6">-1</tspan><tspan dy="2.6">)</tspan></text>
<path d="M624.60 497.20 L624.94 497.20 L625.28 497.20 L625.62 497.20 L625.96 497.20 L626.31 497.20 L626.65 497.20 L626.99 497.20 L627.33 497.20 L627.67 497.20 L628.01 497.20 L628.35 497.20 L628.69 497.20 L629.03 497.20 L629.37 497.20 L629.72 497.20 L630.06 497.20 L630.40 497.20 L630.74 497.20 L631.08 497.20 L631.42 497.20 L631.76 497.20 L632.10 497.20 L632.44 497.20 L632.78 497.20 L633.13 497.20 L633.47 497.20 L633.81 497.20 L634.15 497.20 L634.49 497.20 L634.83 497.19 L635.17 497.19 L635.51 497.19 L635.85 497.18 L636.19 497.17 L636.54 497.16 L636.88 497.15 L637.22 497.14 L637.56 497.11 L637.90 497.08 L638.24 497.05 L638.58 497.00 L638.92 496.93 L639.26 496.85 L639.60 496.75 L639.95 496.62 L640.29 496.47 L640.63 496.27 L640.97 496.03 L641.31 495.74 L641.65 495.38 L641.99 494.96 L642.33 494.45 L642.67 493.85 L643.01 493.15 L643.36 492.34 L643.70 491.40 L644.04 490.33 L644.38 489.11 L644.72 487.73 L645.06 486.20 L645.40 484.51 L645.74 482.65 L646.08 480.63 L646.42 478.46 L646.77 476.14 L647.11 473.69 L647.45 471.14 L647.79 468.49 L648.13 465.79 L648.47 463.06 L648.81 460.34 L649.15 457.67 L649.49 455.09 L649.83 452.63 L650.18 450.35 L650.52 448.28 L650.86 446.45 L651.20 444.91 L651.54 443.67 L651.88 442.77 L652.22 442.23 L652.56 442.04 L652.90 442.23 L653.24 442.77 L653.59 443.67 L653.93 444.91 L654.27 446.45 L654.61 448.28 L654.95 450.35 L655.29 452.63 L655.63 455.09 L655.97 457.67 L656.31 460.34 L656.65 463.06 L657.00 465.79 L657.34 468.49 L657.68 471.14 L658.02 473.69 L658.36 476.14 L658.70 478.46 L659.04 480.63 L659.38 482.65 L659.72 484.51 L660.06 486.20 L660.41 487.73 L660.75 489.11 L661.09 490.33 L661.43 491.40 L661.77 492.34 L662.11 493.15 L662.45 493.85 L662.79 494.45 L663.13 494.96 L663.47 495.38 L663.82 495.74 L664.16 496.03 L664.50 496.27 L664.84 496.47 L665.18 496.62 L665.52 496.75 L665.86 496.85 L666.20 496.93 L666.54 497.00 L666.88 497.05 L667.23 497.08 L667.57 497.11 L667.91 497.14 L668.25 497.15 L668.59 497.16 L668.93 497.17 L669.27 497.18 L669.61 497.19 L669.95 497.19 L670.29 497.19 L670.64 497.20 L670.98 497.20 L671.32 497.20 L671.66 497.20 L672.00 497.20 L672.34 497.20 L672.68 497.20 L673.02 497.20 L673.36 497.20 L673.70 497.20 L674.05 497.20 L674.39 497.20 L674.73 497.20 L675.07 497.20 L675.41 497.20 L675.75 497.20 L676.09 497.20 L676.43 497.20 L676.77 497.20 L677.11 497.20 L677.46 497.20 L677.80 497.20 L678.14 497.20 L678.48 497.20 L678.82 497.20 L679.16 497.20 L679.50 497.20 L679.84 497.20 L680.18 497.20 L680.52 497.20 L680.87 497.20 L681.21 497.20 L681.55 497.20 L681.89 497.20 L682.23 497.20 L682.57 497.20 L682.91 497.20 L683.25 497.20 L683.59 497.20 L683.93 497.20 L684.28 497.20 L684.62 497.20 L684.96 497.20 L685.30 497.20 L685.64 497.20" fill="none" stroke="#e02020" stroke-width="1.6" stroke-linejoin="round"/>
<path d="M624.60 497.07 L625.03 496.78 L625.45 496.94 L625.88 496.72 L626.31 496.70 L626.73 497.23 L627.16 497.28 L627.58 496.50 L628.01 497.43 L628.44 497.45 L628.86 496.73 L629.29 497.23 L629.72 496.88 L630.14 497.22 L630.57 497.07 L630.99 497.53 L631.42 497.07 L631.85 496.85 L632.27 497.18 L632.70 496.97 L633.12 497.04 L633.55 497.61 L633.98 496.95 L634.40 497.11 L634.83 497.38 L635.26 497.64 L635.68 496.84 L636.11 497.21 L636.53 496.97 L636.96 496.80 L637.39 496.94 L637.81 496.72 L638.24 497.18 L638.67 496.74 L639.09 497.01 L639.52 496.44 L639.95 496.36 L640.37 496.93 L640.80 496.66 L641.22 496.28 L641.65 495.18 L642.08 495.19 L642.50 494.39 L642.93 493.94 L643.36 492.80 L643.78 491.79 L644.21 490.48 L644.63 488.68 L645.06 486.85 L645.49 484.45 L645.91 482.30 L646.34 479.44 L646.76 476.64 L647.19 473.42 L647.62 470.46 L648.04 467.54 L648.47 463.40 L648.90 459.83 L649.32 456.50 L649.75 453.59 L650.18 450.47 L650.60 448.30 L651.03 445.47 L651.45 443.96 L651.88 443.01 L652.31 442.56 L652.73 441.75 L653.16 442.16 L653.59 444.13 L654.01 445.11 L654.44 447.63 L654.86 450.45 L655.29 453.23 L655.72 455.96 L656.14 459.23 L656.57 463.48 L657.00 466.42 L657.42 470.38 L657.85 473.04 L658.27 476.54 L658.70 478.93 L659.13 481.51 L659.55 484.37 L659.98 486.05 L660.40 488.59 L660.83 490.44 L661.26 491.34 L661.68 493.05 L662.11 493.86 L662.54 494.46 L662.96 494.91 L663.39 495.86 L663.82 496.38 L664.24 495.91 L664.67 496.68 L665.09 496.26 L665.52 496.46 L665.95 497.05 L666.37 497.05 L666.80 497.05 L667.23 496.97 L667.65 497.14 L668.08 497.29 L668.50 497.34 L668.93 497.14 L669.36 497.66 L669.78 497.83 L670.21 497.65 L670.63 498.21 L671.06 498.15 L671.49 497.51 L671.91 497.94 L672.34 497.91 L672.77 498.43 L673.19 498.04 L673.62 497.88 L674.05 498.42 L674.47 497.85 L674.90 497.84 L675.32 498.38 L675.75 497.84 L676.18 497.99 L676.60 497.79 L677.03 498.10 L677.46 497.76 L677.88 497.73 L678.31 498.42 L678.73 498.38 L679.16 497.79 L679.59 497.52 L680.01 498.20 L680.44 498.00 L680.87 497.87 L681.29 498.13 L681.72 498.09 L682.14 498.14 L682.57 498.09 L683.00 497.87 L683.42 498.15 L683.85 498.08 L684.27 497.70 L684.70 498.41 L685.13 497.89 L685.55 497.74 L685.98 498.14" fill="none" stroke="#111" stroke-width="0.9" stroke-linejoin="round"/>
<text x="609.80" y="436.00" font-size="7.8" font-weight="bold" fill="#111">T<tspan font-size="5.2" dy="1.8">m</tspan><tspan dy="-1.8">  = 66.4</tspan></text>
<text x="609.80" y="445.90" font-size="7.8" font-weight="bold" fill="#111">ΔT<tspan font-size="5.2" dy="1.8">1/2</tspan><tspan dy="-1.8"> = 5.7</tspan></text>
<text x="609.80" y="455.40" font-size="7.8" font-weight="bold" fill="#111">T<tspan font-size="5.2" dy="1.8">on</tspan><tspan dy="-1.8"> = 57.1</tspan></text>
<rect x="34.9" y="590.8" width="81.40" height="93.80" fill="#dadada"/>
<rect x="35.90" y="590.8" width="6.8" height="93.80" fill="#c6c6c6" filter="url(#blp)"/>
<rect x="36.00" y="594.20" width="6.6" height="2.1" fill="#202020" opacity="0.85" filter="url(#bl)"/>
<rect x="36.00" y="604.30" width="6.6" height="2.1" fill="#202020" opacity="0.9" filter="url(#bl)"/>
<rect x="36.00" y="613.40" width="6.6" height="2.1" fill="#202020" opacity="0.9" filter="url(#bl)"/>
<rect x="36.00" y="619.40" width="6.6" height="2.1" fill="#202020" opacity="0.9" filter="url(#bl)"/>
<rect x="36.00" y="632.40" width="6.6" height="2.1" fill="#202020" opacity="0.95" filter="url(#bl)"/>
<rect x="36.00" y="641.60" width="6.6" height="2.1" fill="#202020" opacity="0.95" filter="url(#bl)"/>
<rect x="36.00" y="654.10" width="6.6" height="2.1" fill="#202020" opacity="0.95" filter="url(#bl)"/>
<rect x="36.00" y="659.60" width="6.6" height="2.1" fill="#202020" opacity="0.95" filter="url(#bl)"/>
<rect x="36.00" y="670.20" width="6.6" height="2.1" fill="#202020" opacity="0.95" filter="url(#bl)"/>
<rect x="36.00" y="679.10" width="6.6" height="2.1" fill="#202020" opacity="0.95" filter="url(#bl)"/>
<rect x="77.10" y="590.8" width="6.8" height="93.80" fill="#c6c6c6" filter="url(#blp)"/>
<rect x="77.20" y="594.20" width="6.6" height="2.1" fill="#202020" opacity="0.85" filter="url(#bl)"/>
<rect x="77.20" y="604.30" width="6.6" height="2.1" fill="#202020" opacity="0.9" filter="url(#bl)"/>
<rect x="77.20" y="613.40" width="6.6" height="2.1" fill="#202020" opacity="0.9" filter="url(#bl)"/>
<rect x="77.20" y="619.40" width="6.6" height="2.1" fill="#202020" opacity="0.9" filter="url(#bl)"/>
<rect x="77.20" y="632.40" width="6.6" height="2.1" fill="#202020" opacity="0.95" filter="url(#bl)"/>
<rect x="77.20" y="641.60" width="6.6" height="2.1" fill="#202020" opacity="0.95" filter="url(#bl)"/>
<rect x="77.20" y="654.10" width="6.6" height="2.1" fill="#202020" opacity="0.95" filter="url(#bl)"/>
<rect x="77.20" y="659.60" width="6.6" height="2.1" fill="#202020" opacity="0.95" filter="url(#bl)"/>
<rect x="77.20" y="670.20" width="6.6" height="2.1" fill="#202020" opacity="0.95" filter="url(#bl)"/>
<rect x="77.20" y="679.10" width="6.6" height="2.1" fill="#202020" opacity="0.95" filter="url(#bl)"/>
<rect x="45.80" y="590.8" width="7.2" height="93.80" fill="#c8c8c8" opacity="0.25" filter="url(#blp)"/>
<rect x="56.10" y="590.8" width="7.2" height="93.80" fill="#c8c8c8" opacity="0.25" filter="url(#blp)"/>
<rect x="66.60" y="590.8" width="7.2" height="93.80" fill="#c8c8c8" opacity="0.25" filter="url(#blp)"/>
<rect x="86.40" y="590.8" width="7.2" height="93.80" fill="#c8c8c8" opacity="0.25" filter="url(#blp)"/>
<rect x="97.10" y="590.8" width="7.2" height="93.80" fill="#c8c8c8" opacity="0.25" filter="url(#blp)"/>
<rect x="107.50" y="590.8" width="7.2" height="93.80" fill="#c8c8c8" opacity="0.25" filter="url(#blp)"/>
<rect x="45.80" y="603.80" width="7.20" height="3.20" rx="1" fill="#1e1e1e" opacity="0.85" filter="url(#bl)"/>
<rect x="56.10" y="605.90" width="7.20" height="4.00" rx="1" fill="#1e1e1e" opacity="0.8" filter="url(#bl)"/>
<rect x="66.70" y="609.60" width="7.00" height="4.00" rx="1" fill="#1e1e1e" opacity="0.7" filter="url(#bl)"/>
<rect x="66.60" y="622.90" width="7.20" height="3.00" rx="1" fill="#1e1e1e" opacity="1.0" filter="url(#bl)"/>
<rect x="86.30" y="604.20" width="7.40" height="3.20" rx="1" fill="#1e1e1e" opacity="0.85" filter="url(#bl)"/>
<rect x="97.20" y="606.90" width="7.00" height="4.00" rx="1" fill="#1e1e1e" opacity="0.8" filter="url(#bl)"/>
<rect x="107.40" y="609.90" width="7.40" height="4.60" rx="1" fill="#1e1e1e" opacity="0.85" filter="url(#bl)"/>
<rect x="107.40" y="622.60" width="7.40" height="3.00" rx="1" fill="#1e1e1e" opacity="1.0" filter="url(#bl)"/>
<rect x="66.70" y="628" width="7" height="13" fill="#707070" opacity="0.25" filter="url(#bl2)"/>
<rect x="66.70" y="614" width="7" height="8" fill="#707070" opacity="0.2" filter="url(#bl2)"/>
<rect x="107.60" y="628" width="7" height="13" fill="#707070" opacity="0.25" filter="url(#bl2)"/>
<rect x="107.60" y="614" width="7" height="8" fill="#707070" opacity="0.2" filter="url(#bl2)"/>
<text x="16.00" y="588.30" font-size="6.4" font-weight="bold" fill="#111">kDa</text>
<text x="25.90" y="597.40" font-size="6.4" font-weight="bold" text-anchor="end" fill="#111">250</text>
<line x1="27.00" y1="595.10" x2="33.80" y2="595.10" stroke="#222" stroke-width="0.8"/>
<text x="25.90" y="607.60" font-size="6.4" font-weight="bold" text-anchor="end" fill="#111">150</text>
<line x1="27.00" y1="605.30" x2="33.80" y2="605.30" stroke="#222" stroke-width="0.8"/>
<text x="25.90" y="616.30" font-size="6.4" font-weight="bold" text-anchor="end" fill="#111">100</text>
<line x1="27.00" y1="614.00" x2="33.80" y2="614.00" stroke="#222" stroke-width="0.8"/>
<text x="25.90" y="622.50" font-size="6.4" font-weight="bold" text-anchor="end" fill="#111">75</text>
<line x1="27.00" y1="620.20" x2="33.80" y2="620.20" stroke="#222" stroke-width="0.8"/>
<text x="25.90" y="635.30" font-size="6.4" font-weight="bold" text-anchor="end" fill="#111">50</text>
<line x1="27.00" y1="633.00" x2="33.80" y2="633.00" stroke="#222" stroke-width="0.8"/>
<text x="25.90" y="644.70" font-size="6.4" font-weight="bold" text-anchor="end" fill="#111">37</text>
<line x1="27.00" y1="642.40" x2="33.80" y2="642.40" stroke="#222" stroke-width="0.8"/>
<text x="25.90" y="656.30" font-size="6.4" font-weight="bold" text-anchor="end" fill="#111">25</text>
<line x1="27.00" y1="654.00" x2="33.80" y2="654.00" stroke="#222" stroke-width="0.8"/>
<text x="25.90" y="662.20" font-size="6.4" font-weight="bold" text-anchor="end" fill="#111">20</text>
<line x1="27.00" y1="659.90" x2="33.80" y2="659.90" stroke="#222" stroke-width="0.8"/>
<text x="25.90" y="672.70" font-size="6.4" font-weight="bold" text-anchor="end" fill="#111">15</text>
<line x1="27.00" y1="670.40" x2="33.80" y2="670.40" stroke="#222" stroke-width="0.8"/>
<text x="25.90" y="682.00" font-size="6.4" font-weight="bold" text-anchor="end" fill="#111">10</text>
<line x1="27.00" y1="679.70" x2="33.80" y2="679.70" stroke="#222" stroke-width="0.8"/>
<text x="47.90" y="590.00" font-size="6.7" text-anchor="end" fill="#222" transform="rotate(45 47.90 590.00)">E2p (WT)</text>
<text x="58.90" y="590.00" font-size="6.7" text-anchor="end" fill="#f08a3a" transform="rotate(45 58.90 590.00)">E2p (endo H)</text>
<text x="69.70" y="590.00" font-size="6.7" text-anchor="end" fill="#e82ee8" transform="rotate(45 69.70 590.00)">E2p (endo H)</text>
<text x="89.70" y="590.00" font-size="6.7" text-anchor="end" fill="#222" transform="rotate(45 89.70 590.00)">I3-01v9 (WT)</text>
<text x="101.50" y="590.00" font-size="6.7" text-anchor="end" fill="#f08a3a" transform="rotate(45 101.50 590.00)">I3-01v9 (endo H)</text>
<text x="113.90" y="590.00" font-size="6.7" text-anchor="end" fill="#e82ee8" transform="rotate(45 113.90 590.00)">I3-01v9 (endo H)</text>
<path d="M117 622.7H120.1V644.3H117M120.1 633.4H121.8" fill="none" stroke="#222" stroke-width="0.8"/>
<text x="140.50" y="633.00" font-size="6.7" text-anchor="middle" fill="#222">endo Hf</text>
<text x="140.40" y="640.60" font-size="6.5" text-anchor="middle" fill="#222">and digests</text>
<rect x="159.4" y="605" width="117.4" height="57.7" fill="none" stroke="#222" stroke-width="0.9"/>
<text x="165.90" y="616.50" font-size="6.6" font-weight="bold" fill="#111">Condition 1:</text>
<line x1="165.90" y1="617.80" x2="204.40" y2="617.80" stroke="#111" stroke-width="0.7"/>
<text x="165.90" y="624.60" font-size="6.55" fill="#ee7a22">SApNPs treated by endo H at 25 °C</text>
<text x="165.90" y="632.30" font-size="6.55" fill="#ee7a22">for 5 hours + SEC + Amylose resin</text>
<text x="165.90" y="640.10" font-size="6.6" font-weight="bold" fill="#111">Condition 2:</text>
<line x1="165.90" y1="641.40" x2="204.40" y2="641.40" stroke="#111" stroke-width="0.7"/>
<text x="165.90" y="647.70" font-size="6.55" fill="#cc22cc">SApNPs denatured at 100°C and</text>
<text x="165.90" y="655.40" font-size="6.5" fill="#cc22cc">treated by endo H at 37°C for 1 hour</text>
<text x="317.00" y="553.30" font-size="9.1" fill="#1a1a1a">BG505 UFO-10GS-I3-01v9-L7P</text>
<line x1="415.40" y1="576.00" x2="415.40" y2="711.00" stroke="#aaa" stroke-width="0.7" stroke-dasharray="2 2"/>
<line x1="453.20" y1="576.00" x2="453.20" y2="711.00" stroke="#aaa" stroke-width="0.7" stroke-dasharray="2 2"/>
<line x1="492.20" y1="576.00" x2="492.20" y2="711.00" stroke="#aaa" stroke-width="0.7" stroke-dasharray="2 2"/>
<line x1="526.60" y1="576.00" x2="526.60" y2="711.00" stroke="#aaa" stroke-width="0.7" stroke-dasharray="2 2"/>
<line x1="553.60" y1="576.00" x2="553.60" y2="711.00" stroke="#aaa" stroke-width="0.7" stroke-dasharray="2 2"/>
<path d="M342.20 637.50 L342.20 637.03 L342.51 636.94 L342.82 636.49 L343.13 635.69 L343.44 634.28 L343.75 632.56 L344.06 631.58 L344.37 630.37 L344.68 630.76 L344.98 631.79 L345.29 632.93 L345.60 634.62 L345.91 635.86 L346.22 636.45 L346.53 636.68 L346.84 637.27 L346.84 637.50Z" fill="#e28ae2" stroke="none"/>
<path d="M362.65 637.50 L362.65 637.50 L362.96 637.00 L363.27 637.49 L363.58 637.01 L363.89 636.50 L364.20 636.60 L364.51 635.83 L364.82 635.43 L365.13 635.61 L365.44 635.69 L365.75 636.49 L366.06 636.65 L366.37 637.15 L366.68 636.90 L366.99 637.39 L367.30 637.33 L367.30 637.50Z" fill="#e28ae2" stroke="none"/>
<path d="M375.36 637.50 L375.36 637.00 L375.67 636.94 L375.97 636.02 L376.28 635.09 L376.59 633.33 L376.90 631.53 L377.21 630.65 L377.52 631.11 L377.83 631.91 L378.14 633.79 L378.45 635.35 L378.76 636.76 L379.07 636.94 L379.38 637.33 L379.38 637.50Z" fill="#e28ae2" stroke="none"/>
<path d="M379.38 637.50 L379.38 637.33 L379.69 637.02 L380.00 636.90 L380.31 636.16 L380.62 635.51 L380.93 634.57 L381.24 634.26 L381.55 633.96 L381.86 634.36 L382.17 635.11 L382.48 636.24 L382.79 636.52 L383.10 636.85 L383.41 637.13 L383.41 637.50Z" fill="#e28ae2" stroke="none"/>
<path d="M400.15 637.50 L400.15 636.36 L400.46 636.03 L400.77 635.67 L401.08 635.61 L401.39 635.61 L401.70 634.94 L402.01 634.65 L402.32 634.61 L402.63 634.87 L402.94 635.01 L403.25 635.66 L403.56 636.01 L403.87 636.47 L404.18 637.01 L404.49 637.33 L404.80 637.04 L404.80 637.50Z" fill="#e28ae2" stroke="none"/>
<path d="M412.85 637.50 L412.85 636.88 L413.16 635.32 L413.47 632.76 L413.78 627.84 L414.09 619.55 L414.40 609.01 L414.71 598.38 L415.02 589.30 L415.33 586.15 L415.64 589.03 L415.95 597.87 L416.26 609.39 L416.57 619.89 L416.88 627.93 L417.19 632.40 L417.50 635.54 L417.81 636.55 L417.81 637.50Z" fill="#18c018" stroke="none"/>
<path d="M439.50 637.50 L439.50 637.47 L439.81 637.02 L440.12 636.80 L440.43 636.36 L440.74 635.24 L441.05 634.82 L441.36 634.32 L441.67 634.23 L441.98 635.05 L442.29 635.90 L442.60 636.32 L442.91 636.73 L443.22 636.91 L443.53 637.50 L443.53 637.50Z" fill="#e28ae2" stroke="none"/>
<path d="M450.66 637.50 L450.66 636.71 L450.97 636.40 L451.28 634.73 L451.59 632.54 L451.90 629.72 L452.21 625.53 L452.52 622.28 L452.83 619.86 L453.14 619.18 L453.45 621.20 L453.76 624.11 L454.07 628.23 L454.38 631.80 L454.69 634.04 L455.00 636.15 L455.31 636.55 L455.62 637.39 L455.62 637.50Z" fill="#18c018" stroke="none"/>
<path d="M488.78 637.50 L488.78 637.16 L489.09 636.97 L489.40 636.67 L489.71 635.92 L490.02 634.17 L490.33 633.14 L490.64 631.01 L490.95 629.00 L491.26 626.94 L491.57 625.73 L491.88 624.81 L492.19 625.11 L492.50 625.86 L492.81 627.31 L493.12 629.57 L493.43 631.45 L493.74 633.68 L494.05 635.22 L494.36 635.88 L494.67 636.57 L494.98 636.89 L495.29 637.23 L495.29 637.50Z" fill="#18c018" stroke="none"/>
<path d="M524.73 637.50 L524.73 636.31 L525.04 635.40 L525.35 632.97 L525.66 628.49 L525.97 622.12 L526.28 614.33 L526.59 607.71 L526.90 603.76 L527.21 604.87 L527.52 609.73 L527.83 617.08 L528.14 623.93 L528.45 629.83 L528.76 633.58 L529.07 635.78 L529.38 636.86 L529.38 637.50Z" fill="#18c018" stroke="none"/>
<path d="M551.07 637.50 L551.07 635.96 L551.38 633.75 L551.69 629.52 L552.00 622.37 L552.31 611.88 L552.62 599.57 L552.93 588.01 L553.24 581.98 L553.55 583.16 L553.86 591.56 L554.17 603.26 L554.48 615.86 L554.79 625.41 L555.10 631.66 L555.41 634.80 L555.72 636.18 L555.72 637.50Z" fill="#18c018" stroke="none"/>
<path d="M329.18 636.98 L329.49 636.90 L329.80 636.86 L330.11 636.77 L330.42 636.90 L330.73 636.78 L331.04 637.37 L331.35 637.08 L331.66 636.76 L331.97 636.96 L332.28 636.79 L332.59 637.31 L332.90 637.08 L333.21 637.23 L333.52 637.03 L333.83 637.01 L334.14 637.38 L334.45 637.25 L334.76 637.20 L335.07 636.78 L335.38 636.88 L335.69 637.28 L336.00 636.86 L336.31 637.30 L336.62 636.98 L336.93 637.31 L337.24 637.39 L337.55 636.81 L337.86 637.25 L338.17 637.25 L338.48 636.74 L338.79 636.81 L339.10 637.20 L339.41 636.75 L339.72 637.03 L340.03 636.94 L340.34 637.25 L340.65 636.77 L340.96 636.93 L341.27 636.75 L341.58 636.79 L341.89 637.15 L342.20 637.03 L342.51 636.94 L342.82 636.49 L343.13 635.69 L343.44 634.28 L343.75 632.56 L344.06 631.58 L344.37 630.37 L344.68 630.76 L344.98 631.79 L345.29 632.93 L345.60 634.62 L345.91 635.86 L346.22 636.45 L346.53 636.68 L346.84 637.27 L347.15 636.72 L347.46 637.37 L347.77 636.89 L348.08 636.83 L348.39 637.38 L348.70 636.87 L349.01 637.15 L349.32 637.01 L349.63 637.38 L349.94 637.63 L350.25 637.55 L350.56 637.03 L350.87 637.54 L351.18 637.17 L351.49 637.05 L351.80 637.04 L352.11 637.44 L352.42 637.43 L352.73 637.32 L353.04 637.15 L353.35 637.59 L353.66 637.17 L353.97 637.14 L354.28 637.10 L354.59 637.64 L354.90 637.04 L355.21 637.61 L355.52 637.44 L355.83 637.26 L356.14 637.06 L356.45 637.44 L356.76 637.05 L357.07 637.30 L357.38 637.46 L357.69 637.46 L358.00 637.55 L358.31 637.61 L358.62 637.57 L358.93 637.21 L359.24 637.01 L359.55 637.56 L359.86 637.63 L360.17 637.01 L360.48 637.31 L360.79 637.40 L361.10 637.51 L361.41 637.27 L361.72 637.12 L362.03 637.36 L362.34 637.38 L362.65 637.61 L362.96 637.00 L363.27 637.49 L363.58 637.01 L363.89 636.50 L364.20 636.60 L364.51 635.83 L364.82 635.43 L365.13 635.61 L365.44 635.69 L365.75 636.49 L366.06 636.65 L366.37 637.15 L366.68 636.90 L366.99 637.39 L367.30 637.33 L367.61 636.99 L367.92 637.10 L368.23 637.02 L368.54 637.37 L368.85 637.34 L369.16 637.18 L369.47 637.35 L369.78 637.47 L370.09 637.40 L370.40 637.57 L370.71 637.42 L371.02 637.01 L371.33 637.03 L371.64 637.25 L371.95 637.33 L372.26 637.44 L372.57 637.61 L372.88 637.49 L373.19 637.15 L373.50 637.09 L373.81 637.43 L374.12 637.14 L374.43 637.15 L374.74 637.19 L375.05 637.18 L375.36 637.00 L375.67 636.94 L375.97 636.02 L376.28 635.09 L376.59 633.33 L376.90 631.53 L377.21 630.65 L377.52 631.11 L377.83 631.91 L378.14 633.79 L378.45 635.35 L378.76 636.76 L379.07 636.94 L379.38 637.33 L379.69 637.02 L380.00 636.90 L380.31 636.16 L380.62 635.51 L380.93 634.57 L381.24 634.26 L381.55 633.96 L381.86 634.36 L382.17 635.11 L382.48 636.24 L382.79 636.52 L383.10 636.85 L383.41 637.13 L383.72 637.00 L384.03 637.03 L384.34 637.32 L384.65 637.31 L384.96 637.56 L385.27 637.11 L385.58 637.04 L385.89 637.35 L386.20 637.21 L386.51 637.19 L386.82 637.18 L387.13 637.55 L387.44 637.15 L387.75 637.28 L388.06 637.22 L388.37 637.39 L388.68 637.25 L388.99 637.15 L389.30 637.24 L389.61 637.19 L389.92 637.65 L390.23 637.56 L390.54 637.37 L390.85 637.23 L391.16 637.52 L391.47 637.21 L391.78 637.25 L392.09 637.64 L392.40 637.35 L392.71 637.52 L393.02 637.63 L393.33 637.58 L393.64 637.46 L393.95 637.55 L394.26 637.54 L394.57 637.64 L394.88 637.36 L395.19 637.41 L395.50 637.26 L395.81 637.27 L396.12 637.51 L396.43 637.07 L396.74 637.67 L397.05 637.40 L397.36 637.48 L397.67 637.39 L397.98 637.58 L398.29 637.09 L398.60 637.34 L398.91 637.47 L399.22 636.92 L399.53 637.03 L399.84 636.47 L400.15 636.36 L400.46 636.03 L400.77 635.67 L401.08 635.61 L401.39 635.61 L401.70 634.94 L402.01 634.65 L402.32 634.61 L402.63 634.87 L402.94 635.01 L403.25 635.66 L403.56 636.01 L403.87 636.47 L404.18 637.01 L404.49 637.33 L404.80 637.04 L405.11 637.65 L405.42 637.59 L405.73 637.29 L406.04 637.26 L406.35 637.57 L406.65 637.25 L406.96 637.08 L407.27 637.42 L407.58 637.38 L407.89 637.52 L408.20 637.47 L408.51 637.02 L408.82 637.41 L409.13 637.03 L409.44 637.06 L409.75 637.27 L410.06 637.49 L410.37 637.02 L410.68 637.34 L410.99 637.39 L411.30 637.45 L411.61 637.01 L411.92 637.32 L412.23 637.41 L412.54 637.12 L412.85 636.88 L413.16 635.32 L413.47 632.76 L413.78 627.84 L414.09 619.55 L414.40 609.01 L414.71 598.38 L415.02 589.30 L415.33 586.15 L415.64 589.03 L415.95 597.87 L416.26 609.39 L416.57 619.89 L416.88 627.93 L417.19 632.40 L417.50 635.54 L417.81 636.55 L418.12 637.12 L418.43 637.15 L418.74 637.16 L419.05 636.94 L419.36 637.11 L419.67 636.36 L419.98 636.42 L420.29 636.22 L420.60 636.55 L420.91 636.89 L421.22 637.01 L421.53 637.24 L421.84 637.39 L422.15 637.16 L422.46 637.27 L422.77 637.64 L423.08 637.50 L423.39 637.36 L423.70 637.06 L424.01 637.08 L424.32 637.30 L424.63 637.66 L424.94 637.15 L425.25 637.38 L425.56 637.28 L425.87 637.20 L426.18 637.25 L426.49 637.35 L426.80 637.06 L427.11 637.41 L427.42 637.41 L427.73 637.10 L428.04 637.54 L428.35 637.47 L428.66 637.12 L428.97 637.62 L429.28 637.11 L429.59 637.21 L429.90 637.38 L430.21 637.48 L430.52 637.15 L430.83 637.06 L431.14 637.57 L431.45 637.35 L431.76 637.30 L432.07 637.34 L432.38 637.45 L432.69 637.56 L433.00 637.28 L433.31 637.13 L433.62 637.62 L433.93 637.51 L434.24 637.12 L434.55 637.12 L434.86 637.16 L435.17 637.49 L435.48 636.86 L435.79 636.40 L436.10 636.03 L436.41 635.85 L436.72 636.03 L437.03 635.47 L437.34 636.07 L437.64 636.13 L437.95 636.31 L438.26 636.78 L438.57 637.37 L438.88 637.38 L439.19 637.00 L439.50 637.47 L439.81 637.02 L440.12 636.80 L440.43 636.36 L440.74 635.24 L441.05 634.82 L441.36 634.32 L441.67 634.23 L441.98 635.05 L442.29 635.90 L442.60 636.32 L442.91 636.73 L443.22 636.91 L443.53 637.52 L443.84 637.36 L444.15 637.45 L444.46 637.27 L444.77 637.34 L445.08 637.04 L445.39 637.42 L445.70 637.63 L446.01 637.20 L446.32 637.57 L446.63 637.25 L446.94 637.33 L447.25 637.06 L447.56 637.30 L447.87 637.25 L448.18 637.49 L448.49 637.30 L448.80 637.50 L449.11 637.17 L449.42 637.32 L449.73 637.56 L450.04 637.46 L450.35 637.25 L450.66 636.71 L450.97 636.40 L451.28 634.73 L451.59 632.54 L451.90 629.72 L452.21 625.53 L452.52 622.28 L452.83 619.86 L453.14 619.18 L453.45 621.20 L453.76 624.11 L454.07 628.23 L454.38 631.80 L454.69 634.04 L455.00 636.15 L455.31 636.55 L455.62 637.39 L455.93 637.49 L456.24 637.01 L456.55 637.21 L456.86 637.52 L457.17 637.59 L457.48 637.02 L457.79 637.23 L458.10 637.12 L458.41 637.57 L458.72 637.25 L459.03 637.43 L459.34 637.51 L459.65 637.44 L459.96 637.26 L460.27 637.43 L460.58 637.41 L460.89 637.58 L461.20 637.12 L461.51 637.24 L461.82 637.13 L462.13 637.38 L462.44 637.10 L462.75 637.32 L463.06 637.27 L463.37 637.29 L463.68 637.18 L463.99 637.40 L464.30 637.60 L464.61 637.64 L464.92 637.53 L465.23 637.64 L465.54 637.08 L465.85 637.35 L466.16 637.16 L466.47 637.67 L466.78 637.35 L467.09 637.08 L467.40 637.26 L467.71 637.38 L468.02 637.36 L468.33 637.60 L468.63 637.56 L468.94 637.56 L469.25 637.42 L469.56 637.41 L469.87 637.08 L470.18 637.54 L470.49 637.41 L470.80 637.25 L471.11 637.08 L471.42 636.68 L471.73 636.46 L472.04 636.26 L472.35 636.75 L472.66 636.47 L472.97 637.11 L473.28 636.89 L473.59 637.08 L473.90 636.99 L474.21 636.87 L474.52 636.18 L474.83 636.30 L475.14 635.63 L475.45 635.83 L475.76 635.81 L476.07 636.18 L476.38 636.96 L476.69 637.24 L477.00 637.53 L477.31 637.47 L477.62 637.60 L477.93 637.40 L478.24 637.02 L478.55 637.42 L478.86 637.46 L479.17 637.36 L479.48 637.48 L479.79 637.18 L480.10 637.19 L480.41 637.56 L480.72 637.51 L481.03 637.22 L481.34 637.04 L481.65 637.24 L481.96 637.38 L482.27 637.02 L482.58 637.66 L482.89 637.63 L483.20 637.15 L483.51 637.39 L483.82 637.64 L484.13 637.30 L484.44 637.01 L484.75 637.32 L485.06 637.43 L485.37 637.60 L485.68 637.62 L485.99 637.07 L486.30 637.34 L486.61 637.05 L486.92 637.63 L487.23 637.50 L487.54 637.63 L487.85 637.39 L488.16 637.58 L488.47 637.39 L488.78 637.16 L489.09 636.97 L489.40 636.67 L489.71 635.92 L490.02 634.17 L490.33 633.14 L490.64 631.01 L490.95 629.00 L491.26 626.94 L491.57 625.73 L491.88 624.81 L492.19 625.11 L492.50 625.86 L492.81 627.31 L493.12 629.57 L493.43 631.45 L493.74 633.68 L494.05 635.22 L494.36 635.88 L494.67 636.57 L494.98 636.89 L495.29 637.23 L495.60 637.17 L495.91 637.15 L496.22 637.05 L496.53 637.46 L496.84 637.37 L497.15 637.12 L497.46 637.52 L497.77 637.59 L498.08 637.46 L498.39 637.61 L498.70 637.15 L499.01 637.12 L499.32 637.46 L499.62 637.58 L499.93 637.61 L500.24 637.50 L500.55 637.61 L500.86 637.38 L501.17 637.28 L501.48 637.50 L501.79 637.62 L502.10 637.20 L502.41 637.63 L502.72 637.53 L503.03 637.48 L503.34 637.42 L503.65 637.60 L503.96 637.39 L504.27 637.46 L504.58 637.17 L504.89 637.30 L505.20 637.07 L505.51 637.23 L505.82 637.16 L506.13 637.28 L506.44 637.37 L506.75 637.12 L507.06 637.23 L507.37 637.03 L507.68 637.18 L507.99 637.20 L508.30 637.49 L508.61 637.13 L508.92 637.41 L509.23 637.58 L509.54 637.62 L509.85 637.55 L510.16 637.49 L510.47 637.22 L510.78 637.48 L511.09 637.62 L511.40 637.16 L511.71 637.30 L512.02 637.65 L512.33 637.63 L512.64 637.58 L512.95 637.43 L513.26 637.10 L513.57 637.04 L513.88 637.26 L514.19 637.51 L514.50 637.38 L514.81 637.43 L515.12 637.45 L515.43 637.66 L515.74 637.28 L516.05 637.12 L516.36 637.18 L516.67 637.60 L516.98 637.31 L517.29 637.55 L517.60 637.20 L517.91 637.37 L518.22 637.04 L518.53 637.14 L518.84 637.58 L519.15 637.44 L519.46 637.00 L519.77 637.19 L520.08 636.99 L520.39 636.68 L520.70 636.18 L521.01 635.94 L521.32 636.33 L521.63 636.33 L521.94 636.89 L522.25 637.43 L522.56 637.07 L522.87 637.37 L523.18 637.63 L523.49 637.01 L523.80 637.63 L524.11 637.21 L524.42 637.09 L524.73 636.31 L525.04 635.40 L525.35 632.97 L525.66 628.49 L525.97 622.12 L526.28 614.33 L526.59 607.71 L526.90 603.76 L527.21 604.87 L527.52 609.73 L527.83 617.08 L528.14 623.93 L528.45 629.83 L528.76 633.58 L529.07 635.78 L529.38 636.86 L529.69 637.40 L530.00 637.07 L530.31 637.33 L530.62 637.64 L530.92 637.55 L531.23 637.60 L531.54 637.19 L531.85 637.07 L532.16 637.53 L532.47 637.14 L532.78 637.45 L533.09 637.21 L533.40 637.09 L533.71 637.25 L534.02 637.14 L534.33 637.42 L534.64 637.66 L534.95 637.33 L535.26 637.28 L535.57 637.54 L535.88 637.41 L536.19 637.46 L536.50 637.65 L536.81 637.46 L537.12 637.41 L537.43 637.35 L537.74 637.20 L538.05 637.40 L538.36 637.01 L538.67 637.13 L538.98 637.05 L539.29 637.21 L539.60 637.22 L539.91 637.31 L540.22 637.14 L540.53 637.43 L540.84 637.27 L541.15 637.22 L541.46 637.32 L541.77 637.48 L542.08 637.61 L542.39 637.61 L542.70 637.43 L543.01 637.28 L543.32 637.16 L543.63 637.19 L543.94 637.46 L544.25 637.05 L544.56 637.48 L544.87 637.19 L545.18 637.62 L545.49 637.17 L545.80 637.22 L546.11 637.03 L546.42 637.07 L546.73 637.21 L547.04 637.11 L547.35 637.18 L547.66 637.26 L547.97 637.53 L548.28 637.32 L548.59 637.07 L548.90 637.51 L549.21 637.02 L549.52 637.30 L549.83 637.40 L550.14 637.63 L550.45 637.29 L550.76 637.13 L551.07 635.96 L551.38 633.75 L551.69 629.52 L552.00 622.37 L552.31 611.88 L552.62 599.57 L552.93 588.01 L553.24 581.98 L553.55 583.16 L553.86 591.56 L554.17 603.26 L554.48 615.86 L554.79 625.41 L555.10 631.66 L555.41 634.80 L555.72 636.18 L556.03 637.27 L556.34 637.17 L556.65 637.14 L556.96 637.51 L557.27 637.62 L557.58 637.29 L557.89 637.12 L558.20 637.08 L558.51 637.18 L558.82 637.39 L559.13 637.38 L559.44 637.32 L559.75 637.07 L560.06 637.47 L560.37 637.48 L560.68 637.26 L560.99 637.03 L561.30 637.54 L561.61 637.65 L561.91 637.59 L562.22 637.29 L562.53 637.27 L562.84 637.54 L563.15 637.54 L563.46 637.27 L563.77 637.24 L564.08 637.21 L564.39 637.18 L564.70 637.62 L565.01 637.34 L565.32 637.11 L565.63 637.03 L565.94 637.45 L566.25 637.10 L566.56 637.24 L566.87 637.05 L567.18 637.51 L567.49 637.20 L567.80 637.11 L568.11 637.35 L568.42 637.60 L568.73 637.54 L569.04 637.56 L569.35 637.60 L569.66 637.56" fill="none" stroke="#111" stroke-width="0.8" stroke-linejoin="round"/>
<line x1="329.00" y1="581.80" x2="329.00" y2="637.50" stroke="#333" stroke-width="0.9"/>
<line x1="325.50" y1="637.50" x2="329.00" y2="637.50" stroke="#333" stroke-width="0.9"/>
<text x="323.20" y="640.30" font-size="7.9" text-anchor="end" fill="#222">0</text>
<line x1="325.50" y1="609.90" x2="329.00" y2="609.90" stroke="#333" stroke-width="0.9"/>
<text x="323.20" y="612.70" font-size="7.9" text-anchor="end" fill="#222">50</text>
<line x1="325.50" y1="582.30" x2="329.00" y2="582.30" stroke="#333" stroke-width="0.9"/>
<text x="323.20" y="585.10" font-size="7.9" text-anchor="end" fill="#222">100</text>
<line x1="329.00" y1="637.50" x2="659.74" y2="637.50" stroke="#333" stroke-width="0.9"/>
<line x1="339.51" y1="637.50" x2="339.51" y2="639.20" stroke="#333" stroke-width="0.8"/>
<line x1="349.84" y1="637.50" x2="349.84" y2="639.20" stroke="#333" stroke-width="0.8"/>
<line x1="360.17" y1="637.50" x2="360.17" y2="639.20" stroke="#333" stroke-width="0.8"/>
<line x1="370.50" y1="637.50" x2="370.50" y2="640.50" stroke="#333" stroke-width="0.8"/>
<line x1="380.83" y1="637.50" x2="380.83" y2="639.20" stroke="#333" stroke-width="0.8"/>
<line x1="391.16" y1="637.50" x2="391.16" y2="639.20" stroke="#333" stroke-width="0.8"/>
<line x1="401.49" y1="637.50" x2="401.49" y2="639.20" stroke="#333" stroke-width="0.8"/>
<line x1="411.82" y1="637.50" x2="411.82" y2="639.20" stroke="#333" stroke-width="0.8"/>
<line x1="422.15" y1="637.50" x2="422.15" y2="640.50" stroke="#333" stroke-width="0.8"/>
<line x1="432.48" y1="637.50" x2="432.48" y2="639.20" stroke="#333" stroke-width="0.8"/>
<line x1="442.81" y1="637.50" x2="442.81" y2="639.20" stroke="#333" stroke-width="0.8"/>
<line x1="453.14" y1="637.50" x2="453.14" y2="639.20" stroke="#333" stroke-width="0.8"/>
<line x1="463.47" y1="637.50" x2="463.47" y2="639.20" stroke="#333" stroke-width="0.8"/>
<line x1="473.80" y1="637.50" x2="473.80" y2="640.50" stroke="#333" stroke-width="0.8"/>
<line x1="484.13" y1="637.50" x2="484.13" y2="639.20" stroke="#333" stroke-width="0.8"/>
<line x1="494.46" y1="637.50" x2="494.46" y2="639.20" stroke="#333" stroke-width="0.8"/>
<line x1="504.79" y1="637.50" x2="504.79" y2="639.20" stroke="#333" stroke-width="0.8"/>
<line x1="515.12" y1="637.50" x2="515.12" y2="639.20" stroke="#333" stroke-width="0.8"/>
<line x1="525.45" y1="637.50" x2="525.45" y2="640.50" stroke="#333" stroke-width="0.8"/>
<line x1="535.78" y1="637.50" x2="535.78" y2="639.20" stroke="#333" stroke-width="0.8"/>
<line x1="546.11" y1="637.50" x2="546.11" y2="639.20" stroke="#333" stroke-width="0.8"/>
<line x1="556.44" y1="637.50" x2="556.44" y2="639.20" stroke="#333" stroke-width="0.8"/>
<line x1="566.77" y1="637.50" x2="566.77" y2="639.20" stroke="#333" stroke-width="0.8"/>
<line x1="577.10" y1="637.50" x2="577.10" y2="640.50" stroke="#333" stroke-width="0.8"/>
<line x1="587.43" y1="637.50" x2="587.43" y2="639.20" stroke="#333" stroke-width="0.8"/>
<line x1="597.76" y1="637.50" x2="597.76" y2="639.20" stroke="#333" stroke-width="0.8"/>
<line x1="608.09" y1="637.50" x2="608.09" y2="639.20" stroke="#333" stroke-width="0.8"/>
<line x1="618.42" y1="637.50" x2="618.42" y2="639.20" stroke="#333" stroke-width="0.8"/>
<line x1="628.75" y1="637.50" x2="628.75" y2="640.50" stroke="#333" stroke-width="0.8"/>
<line x1="639.08" y1="637.50" x2="639.08" y2="639.20" stroke="#333" stroke-width="0.8"/>
<line x1="649.41" y1="637.50" x2="649.41" y2="639.20" stroke="#333" stroke-width="0.8"/>
<line x1="659.74" y1="637.50" x2="659.74" y2="639.20" stroke="#333" stroke-width="0.8"/>
<path d="M341.89 710.90 L341.89 709.86 L342.20 709.08 L342.51 708.59 L342.82 706.42 L343.13 703.96 L343.44 700.31 L343.75 697.05 L344.06 695.84 L344.37 696.35 L344.68 698.58 L344.98 701.58 L345.29 705.20 L345.60 707.68 L345.91 708.99 L346.22 709.55 L346.53 710.26 L346.53 710.90Z" fill="#e28ae2" stroke="none"/>
<path d="M362.34 710.90 L362.34 710.84 L362.65 710.79 L362.96 709.94 L363.27 709.69 L363.58 708.85 L363.89 707.56 L364.20 707.12 L364.51 706.63 L364.82 707.25 L365.13 707.57 L365.44 708.92 L365.75 709.92 L366.06 709.93 L366.37 710.83 L366.68 710.49 L366.68 710.90Z" fill="#e28ae2" stroke="none"/>
<path d="M375.05 710.90 L375.05 710.90 L375.36 710.59 L375.67 709.30 L375.97 707.73 L376.28 704.75 L376.59 702.15 L376.90 699.52 L377.21 699.55 L377.52 701.32 L377.83 704.05 L378.14 706.72 L378.45 708.76 L378.76 710.03 L379.07 710.53 L379.07 710.90Z" fill="#e28ae2" stroke="none"/>
<path d="M378.76 710.90 L378.76 710.03 L379.07 710.53 L379.38 710.08 L379.69 708.97 L380.00 707.98 L380.31 706.31 L380.62 705.89 L380.93 705.08 L381.24 705.93 L381.55 707.50 L381.86 708.88 L382.17 709.89 L382.48 710.22 L382.79 710.90 L382.79 710.90Z" fill="#e28ae2" stroke="none"/>
<path d="M400.46 710.90 L400.46 710.88 L400.77 710.52 L401.08 710.40 L401.39 709.68 L401.70 708.45 L402.01 707.39 L402.32 706.07 L402.63 705.10 L402.94 705.85 L403.25 706.65 L403.56 707.42 L403.87 709.14 L404.18 709.96 L404.49 710.15 L404.80 710.62 L405.11 710.90 L405.11 710.90Z" fill="#e28ae2" stroke="none"/>
<path d="M412.54 710.90 L412.54 710.68 L412.85 710.48 L413.16 710.06 L413.47 708.93 L413.78 707.59 L414.09 706.17 L414.40 704.69 L414.71 704.45 L415.02 704.57 L415.33 705.84 L415.64 707.72 L415.95 708.78 L416.26 709.96 L416.57 710.47 L416.88 710.65 L416.88 710.90Z" fill="#e28ae2" stroke="none"/>
<path d="M438.57 710.90 L438.57 710.90 L438.88 710.63 L439.19 710.59 L439.50 709.89 L439.81 709.13 L440.12 708.31 L440.43 707.59 L440.74 707.14 L441.05 707.34 L441.36 707.29 L441.67 708.37 L441.98 709.22 L442.29 709.84 L442.60 710.12 L442.91 710.66 L443.22 710.55 L443.22 710.90Z" fill="#e28ae2" stroke="none"/>
<path d="M449.42 710.90 L449.42 710.90 L449.73 710.88 L450.04 710.90 L450.35 710.40 L450.66 709.76 L450.97 709.42 L451.28 708.37 L451.59 708.18 L451.90 707.28 L452.21 706.63 L452.52 705.94 L452.83 706.13 L453.14 706.11 L453.45 706.81 L453.76 707.54 L454.07 708.19 L454.38 708.97 L454.69 709.49 L455.00 710.46 L455.31 710.60 L455.62 710.40 L455.93 710.87 L455.93 710.90Z" fill="#18c018" stroke="none"/>
<path d="M487.23 710.90 L487.23 710.84 L487.54 710.71 L487.85 710.90 L488.16 710.49 L488.47 710.25 L488.78 710.50 L489.09 710.06 L489.40 709.63 L489.71 709.40 L490.02 708.87 L490.33 708.64 L490.64 708.64 L490.95 708.29 L491.26 708.25 L491.57 708.60 L491.88 708.77 L492.19 709.06 L492.50 709.52 L492.81 710.11 L493.12 710.20 L493.43 710.19 L493.74 710.41 L494.05 710.90 L494.36 710.79 L494.67 710.77 L494.98 710.84 L494.98 710.90Z" fill="#18c018" stroke="none"/>
<path d="M524.73 710.90 L524.73 710.57 L525.04 709.99 L525.35 708.46 L525.66 705.75 L525.97 702.22 L526.28 698.33 L526.59 694.90 L526.90 692.67 L527.21 693.38 L527.52 696.13 L527.83 699.59 L528.14 703.94 L528.45 707.17 L528.76 708.77 L529.07 710.35 L529.38 710.78 L529.38 710.90Z" fill="#18c018" stroke="none"/>
<path d="M551.38 710.90 L551.38 710.07 L551.69 709.06 L552.00 706.97 L552.31 702.69 L552.62 694.99 L552.93 685.01 L553.24 673.89 L553.55 665.48 L553.86 662.34 L554.17 665.58 L554.48 674.27 L554.79 684.81 L555.10 694.92 L555.41 702.46 L555.72 707.14 L556.03 709.19 L556.34 710.39 L556.34 710.90Z" fill="#18c018" stroke="none"/>
<path d="M329.18 709.26 L329.49 709.34 L329.80 709.52 L330.11 709.05 L330.42 709.65 L330.73 709.34 L331.04 709.09 L331.35 709.66 L331.66 709.37 L331.97 709.34 L332.28 709.75 L332.59 709.54 L332.90 709.35 L333.21 709.54 L333.52 709.38 L333.83 709.78 L334.14 709.74 L334.45 709.85 L334.76 709.61 L335.07 709.35 L335.38 709.59 L335.69 709.49 L336.00 709.77 L336.31 709.55 L336.62 710.00 L336.93 709.89 L337.24 709.66 L337.55 709.65 L337.86 709.87 L338.17 710.11 L338.48 710.01 L338.79 710.07 L339.10 710.05 L339.41 709.72 L339.72 710.14 L340.03 709.71 L340.34 709.73 L340.65 710.30 L340.96 710.10 L341.27 710.03 L341.58 710.30 L341.89 709.86 L342.20 709.08 L342.51 708.59 L342.82 706.42 L343.13 703.96 L343.44 700.31 L343.75 697.05 L344.06 695.84 L344.37 696.35 L344.68 698.58 L344.98 701.58 L345.29 705.20 L345.60 707.68 L345.91 708.99 L346.22 709.55 L346.53 710.26 L346.84 710.43 L347.15 710.34 L347.46 710.73 L347.77 710.43 L348.08 710.72 L348.39 710.45 L348.70 710.24 L349.01 710.86 L349.32 710.55 L349.63 710.54 L349.94 710.86 L350.25 710.80 L350.56 710.34 L350.87 710.36 L351.18 710.96 L351.49 710.60 L351.80 710.45 L352.11 710.95 L352.42 710.72 L352.73 711.12 L353.04 710.93 L353.35 710.74 L353.66 710.82 L353.97 710.72 L354.28 711.18 L354.59 711.00 L354.90 710.66 L355.21 710.84 L355.52 710.93 L355.83 710.97 L356.14 710.58 L356.45 710.85 L356.76 711.22 L357.07 710.70 L357.38 711.00 L357.69 710.89 L358.00 710.94 L358.31 710.56 L358.62 710.28 L358.93 710.05 L359.24 709.44 L359.55 709.85 L359.86 709.71 L360.17 710.61 L360.48 710.43 L360.79 710.59 L361.10 710.87 L361.41 710.75 L361.72 711.06 L362.03 710.70 L362.34 710.84 L362.65 710.79 L362.96 709.94 L363.27 709.69 L363.58 708.85 L363.89 707.56 L364.20 707.12 L364.51 706.63 L364.82 707.25 L365.13 707.57 L365.44 708.92 L365.75 709.92 L366.06 709.93 L366.37 710.83 L366.68 710.49 L366.99 710.54 L367.30 710.82 L367.61 711.22 L367.92 711.19 L368.23 711.09 L368.54 710.97 L368.85 710.83 L369.16 710.59 L369.47 711.00 L369.78 711.14 L370.09 710.86 L370.40 711.14 L370.71 711.18 L371.02 710.86 L371.33 710.77 L371.64 711.19 L371.95 710.93 L372.26 710.76 L372.57 710.72 L372.88 710.98 L373.19 710.64 L373.50 711.12 L373.81 710.76 L374.12 710.72 L374.43 710.63 L374.74 710.85 L375.05 710.97 L375.36 710.59 L375.67 709.30 L375.97 707.73 L376.28 704.75 L376.59 702.15 L376.90 699.52 L377.21 699.55 L377.52 701.32 L377.83 704.05 L378.14 706.72 L378.45 708.76 L378.76 710.03 L379.07 710.53 L379.38 710.08 L379.69 708.97 L380.00 707.98 L380.31 706.31 L380.62 705.89 L380.93 705.08 L381.24 705.93 L381.55 707.50 L381.86 708.88 L382.17 709.89 L382.48 710.22 L382.79 711.05 L383.10 710.77 L383.41 710.86 L383.72 711.03 L384.03 710.75 L384.34 710.75 L384.65 711.16 L384.96 710.77 L385.27 710.93 L385.58 710.91 L385.89 710.81 L386.20 711.20 L386.51 710.83 L386.82 710.98 L387.13 710.65 L387.44 711.08 L387.75 710.68 L388.06 710.75 L388.37 710.82 L388.68 710.65 L388.99 711.21 L389.30 710.84 L389.61 710.82 L389.92 710.78 L390.23 710.96 L390.54 711.19 L390.85 711.11 L391.16 710.83 L391.47 711.11 L391.78 711.19 L392.09 711.00 L392.40 710.92 L392.71 710.88 L393.02 711.22 L393.33 710.72 L393.64 711.01 L393.95 710.71 L394.26 711.23 L394.57 710.60 L394.88 710.84 L395.19 710.58 L395.50 710.58 L395.81 710.68 L396.12 711.16 L396.43 711.00 L396.74 711.08 L397.05 710.71 L397.36 711.11 L397.67 711.09 L397.98 711.16 L398.29 711.15 L398.60 710.61 L398.91 710.58 L399.22 710.98 L399.53 710.74 L399.84 710.91 L400.15 710.85 L400.46 710.88 L400.77 710.52 L401.08 710.40 L401.39 709.68 L401.70 708.45 L402.01 707.39 L402.32 706.07 L402.63 705.10 L402.94 705.85 L403.25 706.65 L403.56 707.42 L403.87 709.14 L404.18 709.96 L404.49 710.15 L404.80 710.62 L405.11 711.01 L405.42 711.17 L405.73 711.04 L406.04 711.03 L406.35 710.70 L406.65 710.58 L406.96 710.71 L407.27 710.63 L407.58 710.61 L407.89 710.65 L408.20 710.62 L408.51 710.59 L408.82 711.17 L409.13 711.02 L409.44 711.07 L409.75 710.83 L410.06 710.91 L410.37 711.00 L410.68 710.68 L410.99 710.97 L411.30 711.09 L411.61 711.04 L411.92 710.91 L412.23 710.77 L412.54 710.68 L412.85 710.48 L413.16 710.06 L413.47 708.93 L413.78 707.59 L414.09 706.17 L414.40 704.69 L414.71 704.45 L415.02 704.57 L415.33 705.84 L415.64 707.72 L415.95 708.78 L416.26 709.96 L416.57 710.47 L416.88 710.65 L417.19 710.67 L417.50 710.63 L417.81 710.74 L418.12 711.08 L418.43 710.84 L418.74 710.90 L419.05 710.93 L419.36 710.26 L419.67 709.92 L419.98 709.34 L420.29 709.65 L420.60 709.55 L420.91 710.16 L421.22 710.79 L421.53 710.60 L421.84 710.99 L422.15 710.87 L422.46 711.18 L422.77 711.23 L423.08 710.62 L423.39 711.21 L423.70 711.13 L424.01 711.12 L424.32 711.17 L424.63 710.68 L424.94 710.57 L425.25 710.80 L425.56 710.97 L425.87 710.64 L426.18 710.90 L426.49 711.14 L426.80 710.77 L427.11 710.99 L427.42 711.05 L427.73 711.02 L428.04 710.98 L428.35 711.11 L428.66 710.83 L428.97 710.65 L429.28 710.85 L429.59 711.23 L429.90 710.78 L430.21 711.22 L430.52 710.91 L430.83 710.66 L431.14 710.78 L431.45 710.63 L431.76 710.73 L432.07 711.05 L432.38 711.14 L432.69 710.93 L433.00 710.78 L433.31 711.08 L433.62 711.01 L433.93 710.73 L434.24 711.00 L434.55 710.83 L434.86 710.87 L435.17 710.61 L435.48 711.22 L435.79 711.11 L436.10 710.71 L436.41 710.79 L436.72 711.17 L437.03 711.14 L437.34 711.09 L437.64 710.87 L437.95 710.63 L438.26 711.07 L438.57 711.05 L438.88 710.63 L439.19 710.59 L439.50 709.89 L439.81 709.13 L440.12 708.31 L440.43 707.59 L440.74 707.14 L441.05 707.34 L441.36 707.29 L441.67 708.37 L441.98 709.22 L442.29 709.84 L442.60 710.12 L442.91 710.66 L443.22 710.55 L443.53 710.57 L443.84 711.17 L444.15 711.00 L444.46 710.64 L444.77 710.72 L445.08 710.59 L445.39 711.11 L445.70 710.88 L446.01 710.61 L446.32 710.87 L446.63 710.79 L446.94 710.58 L447.25 711.12 L447.56 711.20 L447.87 710.66 L448.18 710.84 L448.49 711.09 L448.80 710.67 L449.11 711.01 L449.42 711.07 L449.73 710.88 L450.04 710.90 L450.35 710.40 L450.66 709.76 L450.97 709.42 L451.28 708.37 L451.59 708.18 L451.90 707.28 L452.21 706.63 L452.52 705.94 L452.83 706.13 L453.14 706.11 L453.45 706.81 L453.76 707.54 L454.07 708.19 L454.38 708.97 L454.69 709.49 L455.00 710.46 L455.31 710.60 L455.62 710.40 L455.93 710.87 L456.24 711.00 L456.55 710.89 L456.86 711.11 L457.17 710.67 L457.48 710.81 L457.79 711.17 L458.10 710.59 L458.41 710.89 L458.72 711.06 L459.03 710.82 L459.34 710.60 L459.65 711.00 L459.96 711.22 L460.27 711.10 L460.58 711.19 L460.89 710.88 L461.20 711.03 L461.51 710.67 L461.82 711.10 L462.13 711.22 L462.44 710.92 L462.75 711.15 L463.06 711.03 L463.37 711.08 L463.68 711.11 L463.99 710.81 L464.30 710.61 L464.61 710.99 L464.92 710.81 L465.23 711.02 L465.54 710.62 L465.85 710.86 L466.16 711.21 L466.47 710.74 L466.78 711.09 L467.09 711.20 L467.40 711.22 L467.71 710.67 L468.02 710.76 L468.33 710.99 L468.63 710.86 L468.94 710.76 L469.25 711.18 L469.56 710.75 L469.87 710.70 L470.18 710.42 L470.49 710.74 L470.80 709.97 L471.11 709.54 L471.42 709.03 L471.73 709.41 L472.04 709.59 L472.35 709.91 L472.66 710.65 L472.97 710.74 L473.28 710.52 L473.59 710.99 L473.90 710.10 L474.21 710.16 L474.52 709.69 L474.83 709.65 L475.14 709.47 L475.45 710.01 L475.76 710.25 L476.07 710.95 L476.38 710.57 L476.69 710.67 L477.00 710.78 L477.31 711.08 L477.62 711.06 L477.93 710.93 L478.24 711.19 L478.55 710.60 L478.86 710.96 L479.17 710.60 L479.48 711.11 L479.79 710.80 L480.10 710.70 L480.41 710.80 L480.72 710.95 L481.03 711.22 L481.34 710.94 L481.65 710.97 L481.96 710.60 L482.27 710.58 L482.58 710.60 L482.89 710.58 L483.20 711.12 L483.51 711.21 L483.82 711.04 L484.13 711.23 L484.44 711.15 L484.75 710.85 L485.06 711.10 L485.37 710.83 L485.68 710.98 L485.99 711.05 L486.30 710.58 L486.61 711.10 L486.92 710.62 L487.23 710.84 L487.54 710.71 L487.85 710.99 L488.16 710.49 L488.47 710.25 L488.78 710.50 L489.09 710.06 L489.40 709.63 L489.71 709.40 L490.02 708.87 L490.33 708.64 L490.64 708.64 L490.95 708.29 L491.26 708.25 L491.57 708.60 L491.88 708.77 L492.19 709.06 L492.50 709.52 L492.81 710.11 L493.12 710.20 L493.43 710.19 L493.74 710.41 L494.05 710.98 L494.36 710.79 L494.67 710.77 L494.98 710.84 L495.29 711.12 L495.60 710.79 L495.91 710.76 L496.22 710.87 L496.53 710.61 L496.84 710.85 L497.15 711.22 L497.46 711.04 L497.77 710.77 L498.08 711.18 L498.39 710.59 L498.70 710.77 L499.01 710.72 L499.32 711.11 L499.62 711.19 L499.93 710.55 L500.24 710.67 L500.55 710.53 L500.86 710.23 L501.17 709.82 L501.48 709.91 L501.79 709.62 L502.10 710.15 L502.41 709.84 L502.72 710.28 L503.03 710.74 L503.34 710.78 L503.65 710.59 L503.96 711.00 L504.27 710.76 L504.58 710.63 L504.89 710.59 L505.20 711.06 L505.51 710.70 L505.82 710.83 L506.13 710.69 L506.44 711.19 L506.75 710.96 L507.06 710.93 L507.37 710.69 L507.68 710.93 L507.99 711.21 L508.30 711.09 L508.61 710.68 L508.92 710.65 L509.23 710.85 L509.54 711.18 L509.85 710.72 L510.16 710.66 L510.47 711.04 L510.78 710.91 L511.09 711.04 L511.40 711.20 L511.71 710.74 L512.02 711.13 L512.33 711.18 L512.64 710.63 L512.95 711.17 L513.26 710.73 L513.57 710.69 L513.88 711.07 L514.19 710.99 L514.50 711.08 L514.81 710.76 L515.12 710.58 L515.43 710.74 L515.74 710.90 L516.05 710.88 L516.36 710.96 L516.67 710.76 L516.98 711.05 L517.29 711.07 L517.60 710.77 L517.91 711.06 L518.22 710.57 L518.53 710.75 L518.84 711.11 L519.15 711.22 L519.46 710.83 L519.77 711.14 L520.08 710.90 L520.39 710.83 L520.70 710.69 L521.01 710.97 L521.32 710.87 L521.63 710.69 L521.94 711.14 L522.25 711.01 L522.56 710.69 L522.87 710.99 L523.18 710.61 L523.49 711.17 L523.80 711.17 L524.11 710.95 L524.42 710.79 L524.73 710.57 L525.04 709.99 L525.35 708.46 L525.66 705.75 L525.97 702.22 L526.28 698.33 L526.59 694.90 L526.90 692.67 L527.21 693.38 L527.52 696.13 L527.83 699.59 L528.14 703.94 L528.45 707.17 L528.76 708.77 L529.07 710.35 L529.38 710.78 L529.69 711.04 L530.00 710.61 L530.31 710.77 L530.62 711.11 L530.92 711.18 L531.23 710.63 L531.54 711.15 L531.85 710.76 L532.16 710.77 L532.47 710.84 L532.78 710.91 L533.09 710.96 L533.40 711.05 L533.71 710.80 L534.02 711.13 L534.33 710.92 L534.64 711.06 L534.95 710.99 L535.26 710.64 L535.57 710.86 L535.88 710.80 L536.19 710.80 L536.50 711.23 L536.81 710.71 L537.12 710.65 L537.43 710.74 L537.74 710.89 L538.05 710.67 L538.36 710.60 L538.67 711.05 L538.98 711.12 L539.29 711.01 L539.60 711.22 L539.91 711.08 L540.22 711.18 L540.53 711.23 L540.84 710.96 L541.15 711.21 L541.46 710.86 L541.77 710.52 L542.08 710.42 L542.39 710.51 L542.70 709.53 L543.01 709.25 L543.32 708.26 L543.63 708.05 L543.94 708.19 L544.25 708.68 L544.56 708.94 L544.87 710.07 L545.18 710.08 L545.49 710.84 L545.80 711.07 L546.11 711.05 L546.42 711.20 L546.73 710.68 L547.04 711.11 L547.35 710.85 L547.66 711.05 L547.97 710.99 L548.28 710.71 L548.59 710.87 L548.90 711.06 L549.21 710.74 L549.52 711.14 L549.83 711.21 L550.14 710.77 L550.45 710.66 L550.76 710.68 L551.07 710.60 L551.38 710.07 L551.69 709.06 L552.00 706.97 L552.31 702.69 L552.62 694.99 L552.93 685.01 L553.24 673.89 L553.55 665.48 L553.86 662.34 L554.17 665.58 L554.48 674.27 L554.79 684.81 L555.10 694.92 L555.41 702.46 L555.72 707.14 L556.03 709.19 L556.34 710.39 L556.65 710.74 L556.96 711.06 L557.27 710.56 L557.58 710.94 L557.89 710.92 L558.20 711.09 L558.51 710.93 L558.82 710.92 L559.13 710.95 L559.44 710.74 L559.75 711.01 L560.06 710.82 L560.37 710.79 L560.68 711.14 L560.99 710.68 L561.30 711.19 L561.61 711.06 L561.91 710.68 L562.22 711.15 L562.53 711.05 L562.84 710.96 L563.15 710.60 L563.46 710.59 L563.77 711.09 L564.08 710.81 L564.39 710.68 L564.70 710.89 L565.01 711.02 L565.32 711.13 L565.63 711.19 L565.94 711.20 L566.25 711.20 L566.56 710.75 L566.87 710.84 L567.18 711.19 L567.49 710.61 L567.80 710.58 L568.11 710.96 L568.42 710.99 L568.73 710.65 L569.04 710.79 L569.35 710.74 L569.66 711.11" fill="none" stroke="#111" stroke-width="0.8" stroke-linejoin="round"/>
<line x1="329.00" y1="654.90" x2="329.00" y2="710.90" stroke="#333" stroke-width="0.9"/>
<line x1="325.50" y1="710.90" x2="329.00" y2="710.90" stroke="#333" stroke-width="0.9"/>
<text x="323.20" y="713.70" font-size="7.9" text-anchor="end" fill="#222">0</text>
<line x1="325.50" y1="683.15" x2="329.00" y2="683.15" stroke="#333" stroke-width="0.9"/>
<text x="323.20" y="685.95" font-size="7.9" text-anchor="end" fill="#222">10</text>
<line x1="325.50" y1="655.40" x2="329.00" y2="655.40" stroke="#333" stroke-width="0.9"/>
<text x="323.20" y="658.20" font-size="7.9" text-anchor="end" fill="#222">20</text>
<line x1="329.00" y1="710.90" x2="659.74" y2="710.90" stroke="#333" stroke-width="0.9"/>
<line x1="339.51" y1="710.90" x2="339.51" y2="712.60" stroke="#333" stroke-width="0.8"/>
<line x1="349.84" y1="710.90" x2="349.84" y2="712.60" stroke="#333" stroke-width="0.8"/>
<line x1="360.17" y1="710.90" x2="360.17" y2="712.60" stroke="#333" stroke-width="0.8"/>
<line x1="370.50" y1="710.90" x2="370.50" y2="713.90" stroke="#333" stroke-width="0.8"/>
<line x1="380.83" y1="710.90" x2="380.83" y2="712.60" stroke="#333" stroke-width="0.8"/>
<line x1="391.16" y1="710.90" x2="391.16" y2="712.60" stroke="#333" stroke-width="0.8"/>
<line x1="401.49" y1="710.90" x2="401.49" y2="712.60" stroke="#333" stroke-width="0.8"/>
<line x1="411.82" y1="710.90" x2="411.82" y2="712.60" stroke="#333" stroke-width="0.8"/>
<line x1="422.15" y1="710.90" x2="422.15" y2="713.90" stroke="#333" stroke-width="0.8"/>
<line x1="432.48" y1="710.90" x2="432.48" y2="712.60" stroke="#333" stroke-width="0.8"/>
<line x1="442.81" y1="710.90" x2="442.81" y2="712.60" stroke="#333" stroke-width="0.8"/>
<line x1="453.14" y1="710.90" x2="453.14" y2="712.60" stroke="#333" stroke-width="0.8"/>
<line x1="463.47" y1="710.90" x2="463.47" y2="712.60" stroke="#333" stroke-width="0.8"/>
<line x1="473.80" y1="710.90" x2="473.80" y2="713.90" stroke="#333" stroke-width="0.8"/>
<line x1="484.13" y1="710.90" x2="484.13" y2="712.60" stroke="#333" stroke-width="0.8"/>
<line x1="494.46" y1="710.90" x2="494.46" y2="712.60" stroke="#333" stroke-width="0.8"/>
<line x1="504.79" y1="710.90" x2="504.79" y2="712.60" stroke="#333" stroke-width="0.8"/>
<line x1="515.12" y1="710.90" x2="515.12" y2="712.60" stroke="#333" stroke-width="0.8"/>
<line x1="525.45" y1="710.90" x2="525.45" y2="713.90" stroke="#333" stroke-width="0.8"/>
<line x1="535.78" y1="710.90" x2="535.78" y2="712.60" stroke="#333" stroke-width="0.8"/>
<line x1="546.11" y1="710.90" x2="546.11" y2="712.60" stroke="#333" stroke-width="0.8"/>
<line x1="556.44" y1="710.90" x2="556.44" y2="712.60" stroke="#333" stroke-width="0.8"/>
<line x1="566.77" y1="710.90" x2="566.77" y2="712.60" stroke="#333" stroke-width="0.8"/>
<line x1="577.10" y1="710.90" x2="577.10" y2="713.90" stroke="#333" stroke-width="0.8"/>
<line x1="587.43" y1="710.90" x2="587.43" y2="712.60" stroke="#333" stroke-width="0.8"/>
<line x1="597.76" y1="710.90" x2="597.76" y2="712.60" stroke="#333" stroke-width="0.8"/>
<line x1="608.09" y1="710.90" x2="608.09" y2="712.60" stroke="#333" stroke-width="0.8"/>
<line x1="618.42" y1="710.90" x2="618.42" y2="712.60" stroke="#333" stroke-width="0.8"/>
<line x1="628.75" y1="710.90" x2="628.75" y2="713.90" stroke="#333" stroke-width="0.8"/>
<line x1="639.08" y1="710.90" x2="639.08" y2="712.60" stroke="#333" stroke-width="0.8"/>
<line x1="649.41" y1="710.90" x2="649.41" y2="712.60" stroke="#333" stroke-width="0.8"/>
<line x1="659.74" y1="710.90" x2="659.74" y2="712.60" stroke="#333" stroke-width="0.8"/>
<text x="370.50" y="723.90" font-size="8.2" text-anchor="middle" fill="#222">10</text>
<text x="422.15" y="723.90" font-size="8.2" text-anchor="middle" fill="#222">15</text>
<text x="473.80" y="723.90" font-size="8.2" text-anchor="middle" fill="#222">20</text>
<text x="525.45" y="723.90" font-size="8.2" text-anchor="middle" fill="#222">25</text>
<text x="577.10" y="723.90" font-size="8.2" text-anchor="middle" fill="#222">30</text>
<text x="628.75" y="723.90" font-size="8.2" text-anchor="middle" fill="#222">35</text>
<path d="M399.53 784.80 L399.53 783.82 L399.84 783.59 L400.15 783.15 L400.46 783.28 L400.77 783.17 L401.08 782.88 L401.39 782.84 L401.70 782.71 L402.01 782.45 L402.32 782.27 L402.63 782.43 L402.94 782.76 L403.25 782.83 L403.56 783.15 L403.87 783.82 L404.18 784.35 L404.49 784.59 L404.80 784.27 L405.11 784.80 L405.42 784.48 L405.42 784.80Z" fill="#18c018" stroke="none"/>
<path d="M412.85 784.80 L412.85 783.82 L413.16 782.91 L413.47 780.21 L413.78 775.22 L414.09 767.18 L414.40 756.92 L414.71 745.86 L415.02 737.17 L415.33 734.10 L415.64 737.15 L415.95 745.69 L416.26 757.16 L416.57 767.05 L416.88 775.01 L417.19 780.29 L417.50 782.75 L417.81 783.86 L417.81 784.80Z" fill="#18c018" stroke="none"/>
<path d="M450.66 784.80 L450.66 784.14 L450.97 783.52 L451.28 782.22 L451.59 779.96 L451.90 776.68 L452.21 773.04 L452.52 769.36 L452.83 766.71 L453.14 766.33 L453.45 768.19 L453.76 771.37 L454.07 775.39 L454.38 778.74 L454.69 781.66 L455.00 782.99 L455.31 783.82 L455.62 784.17 L455.62 784.80Z" fill="#18c018" stroke="none"/>
<path d="M488.78 784.80 L488.78 784.26 L489.09 784.27 L489.40 783.72 L489.71 783.15 L490.02 781.93 L490.33 780.26 L490.64 778.50 L490.95 776.31 L491.26 773.96 L491.57 772.64 L491.88 771.89 L492.19 771.80 L492.50 773.06 L492.81 774.54 L493.12 776.80 L493.43 778.77 L493.74 780.99 L494.05 782.13 L494.36 783.05 L494.67 784.10 L494.98 784.00 L495.29 784.64 L495.29 784.80Z" fill="#18c018" stroke="none"/>
<path d="M524.73 784.80 L524.73 784.07 L525.04 782.44 L525.35 779.97 L525.66 775.43 L525.97 769.26 L526.28 761.55 L526.59 754.84 L526.90 750.81 L527.21 751.83 L527.52 756.65 L527.83 763.79 L528.14 771.55 L528.45 777.27 L528.76 780.95 L529.07 782.91 L529.38 784.13 L529.38 784.80Z" fill="#18c018" stroke="none"/>
<path d="M551.07 784.80 L551.07 783.28 L551.38 781.46 L551.69 777.26 L552.00 769.64 L552.31 759.17 L552.62 746.57 L552.93 735.63 L553.24 729.56 L553.55 730.48 L553.86 738.80 L554.17 750.91 L554.48 763.01 L554.79 772.49 L555.10 778.70 L555.41 781.96 L555.72 783.79 L555.72 784.80Z" fill="#18c018" stroke="none"/>
<path d="M329.18 784.38 L329.49 784.32 L329.80 784.12 L330.11 784.37 L330.42 784.35 L330.73 784.31 L331.04 784.53 L331.35 784.35 L331.66 784.28 L331.97 784.19 L332.28 784.58 L332.59 784.46 L332.90 784.58 L333.21 784.18 L333.52 784.25 L333.83 784.61 L334.14 784.09 L334.45 784.10 L334.76 784.27 L335.07 784.29 L335.38 784.55 L335.69 784.62 L336.00 784.34 L336.31 784.60 L336.62 784.53 L336.93 784.50 L337.24 784.62 L337.55 784.38 L337.86 784.39 L338.17 784.16 L338.48 784.34 L338.79 784.28 L339.10 784.36 L339.41 784.26 L339.72 784.38 L340.03 784.48 L340.34 784.08 L340.65 784.08 L340.96 784.17 L341.27 784.24 L341.58 784.45 L341.89 784.47 L342.20 784.36 L342.51 784.28 L342.82 783.46 L343.13 782.89 L343.44 781.47 L343.75 780.33 L344.06 778.74 L344.37 778.10 L344.68 778.71 L344.98 779.54 L345.29 780.51 L345.60 782.11 L345.91 782.87 L346.22 783.84 L346.53 784.36 L346.84 784.20 L347.15 784.18 L347.46 784.48 L347.77 784.58 L348.08 784.45 L348.39 784.10 L348.70 784.21 L349.01 784.57 L349.32 784.50 L349.63 784.58 L349.94 784.88 L350.25 784.47 L350.56 784.81 L350.87 784.60 L351.18 784.66 L351.49 784.81 L351.80 784.50 L352.11 784.84 L352.42 784.55 L352.73 784.85 L353.04 784.68 L353.35 784.79 L353.66 784.76 L353.97 784.37 L354.28 784.46 L354.59 784.74 L354.90 784.42 L355.21 784.79 L355.52 784.69 L355.83 784.44 L356.14 784.55 L356.45 784.86 L356.76 784.36 L357.07 784.79 L357.38 784.77 L357.69 784.48 L358.00 784.73 L358.31 784.75 L358.62 784.87 L358.93 784.86 L359.24 784.59 L359.55 784.78 L359.86 784.58 L360.17 784.70 L360.48 784.66 L360.79 784.38 L361.10 784.64 L361.41 784.59 L361.72 784.43 L362.03 784.81 L362.34 784.82 L362.65 784.39 L362.96 784.41 L363.27 784.67 L363.58 784.58 L363.89 784.09 L364.20 783.73 L364.51 783.90 L364.82 783.31 L365.13 783.32 L365.44 783.60 L365.75 783.93 L366.06 784.36 L366.37 784.61 L366.68 784.24 L366.99 784.72 L367.30 784.50 L367.61 784.76 L367.92 784.45 L368.23 784.58 L368.54 784.75 L368.85 784.81 L369.16 784.51 L369.47 784.87 L369.78 784.78 L370.09 784.60 L370.40 784.44 L370.71 784.57 L371.02 784.76 L371.33 784.40 L371.64 784.80 L371.95 784.90 L372.26 784.76 L372.57 784.66 L372.88 784.88 L373.19 784.81 L373.50 784.71 L373.81 784.59 L374.12 784.84 L374.43 784.71 L374.74 784.41 L375.05 784.33 L375.36 784.41 L375.67 784.12 L375.97 783.60 L376.28 782.83 L376.59 781.52 L376.90 780.18 L377.21 778.90 L377.52 779.18 L377.83 780.07 L378.14 782.01 L378.45 782.94 L378.76 783.89 L379.07 784.20 L379.38 784.59 L379.69 784.18 L380.00 784.49 L380.31 783.80 L380.62 783.05 L380.93 782.26 L381.24 781.83 L381.55 781.77 L381.86 782.11 L382.17 782.72 L382.48 783.71 L382.79 784.03 L383.10 784.21 L383.41 784.36 L383.72 784.66 L384.03 784.47 L384.34 784.43 L384.65 784.59 L384.96 784.56 L385.27 784.70 L385.58 784.59 L385.89 784.57 L386.20 784.87 L386.51 784.56 L386.82 784.36 L387.13 784.42 L387.44 784.51 L387.75 784.70 L388.06 784.50 L388.37 784.59 L388.68 784.67 L388.99 784.45 L389.30 784.86 L389.61 784.49 L389.92 784.89 L390.23 784.58 L390.54 784.64 L390.85 784.78 L391.16 784.52 L391.47 784.63 L391.78 784.57 L392.09 784.40 L392.40 784.77 L392.71 784.90 L393.02 784.74 L393.33 784.53 L393.64 784.80 L393.95 784.82 L394.26 784.41 L394.57 784.54 L394.88 784.67 L395.19 784.42 L395.50 784.73 L395.81 784.54 L396.12 784.80 L396.43 784.67 L396.74 784.46 L397.05 784.40 L397.36 784.42 L397.67 784.69 L397.98 784.58 L398.29 784.70 L398.60 784.76 L398.91 784.45 L399.22 784.09 L399.53 783.82 L399.84 783.59 L400.15 783.15 L400.46 783.28 L400.77 783.17 L401.08 782.88 L401.39 782.84 L401.70 782.71 L402.01 782.45 L402.32 782.27 L402.63 782.43 L402.94 782.76 L403.25 782.83 L403.56 783.15 L403.87 783.82 L404.18 784.35 L404.49 784.59 L404.80 784.27 L405.11 784.81 L405.42 784.48 L405.73 784.58 L406.04 784.73 L406.35 784.47 L406.65 784.90 L406.96 784.84 L407.27 784.66 L407.58 784.90 L407.89 784.45 L408.20 784.78 L408.51 784.83 L408.82 784.89 L409.13 784.56 L409.44 784.66 L409.75 784.56 L410.06 784.55 L410.37 784.46 L410.68 784.38 L410.99 784.53 L411.30 784.80 L411.61 784.64 L411.92 784.80 L412.23 784.84 L412.54 784.42 L412.85 783.82 L413.16 782.91 L413.47 780.21 L413.78 775.22 L414.09 767.18 L414.40 756.92 L414.71 745.86 L415.02 737.17 L415.33 734.10 L415.64 737.15 L415.95 745.69 L416.26 757.16 L416.57 767.05 L416.88 775.01 L417.19 780.29 L417.50 782.75 L417.81 783.86 L418.12 784.18 L418.43 784.61 L418.74 784.49 L419.05 784.19 L419.36 783.98 L419.67 783.58 L419.98 783.60 L420.29 783.45 L420.60 783.89 L420.91 783.92 L421.22 784.15 L421.53 784.43 L421.84 784.47 L422.15 784.78 L422.46 784.41 L422.77 784.37 L423.08 784.37 L423.39 784.61 L423.70 784.47 L424.01 784.73 L424.32 784.41 L424.63 784.44 L424.94 784.72 L425.25 784.87 L425.56 784.67 L425.87 784.61 L426.18 784.48 L426.49 784.64 L426.80 784.90 L427.11 784.46 L427.42 784.88 L427.73 784.47 L428.04 784.82 L428.35 784.72 L428.66 784.47 L428.97 784.83 L429.28 784.83 L429.59 784.62 L429.90 784.51 L430.21 784.44 L430.52 784.53 L430.83 784.39 L431.14 784.64 L431.45 784.38 L431.76 784.86 L432.07 784.79 L432.38 784.62 L432.69 784.75 L433.00 784.51 L433.31 784.56 L433.62 784.62 L433.93 784.44 L434.24 784.59 L434.55 784.72 L434.86 784.64 L435.17 784.29 L435.48 784.08 L435.79 784.18 L436.10 783.45 L436.41 783.01 L436.72 783.01 L437.03 782.94 L437.34 783.34 L437.64 783.50 L437.95 783.90 L438.26 784.16 L438.57 784.69 L438.88 784.28 L439.19 784.57 L439.50 784.61 L439.81 784.26 L440.12 784.10 L440.43 783.64 L440.74 782.84 L441.05 782.51 L441.36 781.86 L441.67 782.01 L441.98 782.23 L442.29 782.95 L442.60 783.95 L442.91 784.27 L443.22 784.69 L443.53 784.62 L443.84 784.45 L444.15 784.41 L444.46 784.65 L444.77 784.73 L445.08 784.80 L445.39 784.57 L445.70 784.40 L446.01 784.84 L446.32 784.48 L446.63 784.90 L446.94 784.80 L447.25 784.78 L447.56 784.53 L447.87 784.73 L448.18 784.71 L448.49 784.57 L448.80 784.85 L449.11 784.50 L449.42 784.84 L449.73 784.61 L450.04 784.72 L450.35 784.63 L450.66 784.14 L450.97 783.52 L451.28 782.22 L451.59 779.96 L451.90 776.68 L452.21 773.04 L452.52 769.36 L452.83 766.71 L453.14 766.33 L453.45 768.19 L453.76 771.37 L454.07 775.39 L454.38 778.74 L454.69 781.66 L455.00 782.99 L455.31 783.82 L455.62 784.17 L455.93 784.65 L456.24 784.71 L456.55 784.39 L456.86 784.79 L457.17 784.36 L457.48 784.42 L457.79 784.84 L458.10 784.78 L458.41 784.51 L458.72 784.77 L459.03 784.86 L459.34 784.45 L459.65 784.68 L459.96 784.47 L460.27 784.84 L460.58 784.69 L460.89 784.53 L461.20 784.90 L461.51 784.80 L461.82 784.53 L462.13 784.40 L462.44 784.37 L462.75 784.85 L463.06 784.63 L463.37 784.49 L463.68 784.63 L463.99 784.53 L464.30 784.81 L464.61 784.87 L464.92 784.85 L465.23 784.89 L465.54 784.60 L465.85 784.62 L466.16 784.59 L466.47 784.83 L466.78 784.81 L467.09 784.80 L467.40 784.44 L467.71 784.36 L468.02 784.40 L468.33 784.86 L468.63 784.88 L468.94 784.38 L469.25 784.65 L469.56 784.48 L469.87 784.72 L470.18 784.63 L470.49 784.54 L470.80 784.44 L471.11 784.09 L471.42 784.10 L471.73 783.47 L472.04 783.34 L472.35 783.91 L472.66 784.07 L472.97 784.19 L473.28 784.53 L473.59 784.68 L473.90 784.58 L474.21 784.14 L474.52 784.03 L474.83 783.12 L475.14 782.86 L475.45 782.87 L475.76 783.02 L476.07 783.55 L476.38 784.09 L476.69 784.28 L477.00 784.51 L477.31 784.32 L477.62 784.45 L477.93 784.76 L478.24 784.40 L478.55 784.50 L478.86 784.48 L479.17 784.46 L479.48 784.69 L479.79 784.41 L480.10 784.42 L480.41 784.52 L480.72 784.48 L481.03 784.49 L481.34 784.69 L481.65 784.51 L481.96 784.87 L482.27 784.72 L482.58 784.65 L482.89 784.91 L483.20 784.71 L483.51 784.56 L483.82 784.56 L484.13 784.78 L484.44 784.39 L484.75 784.54 L485.06 784.72 L485.37 784.54 L485.68 784.59 L485.99 784.61 L486.30 784.69 L486.61 784.36 L486.92 784.55 L487.23 784.52 L487.54 784.48 L487.85 784.35 L488.16 784.85 L488.47 784.46 L488.78 784.26 L489.09 784.27 L489.40 783.72 L489.71 783.15 L490.02 781.93 L490.33 780.26 L490.64 778.50 L490.95 776.31 L491.26 773.96 L491.57 772.64 L491.88 771.89 L492.19 771.80 L492.50 773.06 L492.81 774.54 L493.12 776.80 L493.43 778.77 L493.74 780.99 L494.05 782.13 L494.36 783.05 L494.67 784.10 L494.98 784.00 L495.29 784.64 L495.60 784.57 L495.91 784.78 L496.22 784.62 L496.53 784.57 L496.84 784.88 L497.15 784.39 L497.46 784.68 L497.77 784.62 L498.08 784.58 L498.39 784.71 L498.70 784.75 L499.01 784.55 L499.32 784.60 L499.62 784.75 L499.93 784.51 L500.24 784.75 L500.55 784.90 L500.86 784.77 L501.17 784.89 L501.48 784.82 L501.79 784.49 L502.10 784.69 L502.41 784.41 L502.72 784.50 L503.03 784.88 L503.34 784.36 L503.65 784.39 L503.96 784.87 L504.27 784.41 L504.58 784.67 L504.89 784.65 L505.20 784.37 L505.51 784.78 L505.82 784.62 L506.13 784.39 L506.44 784.51 L506.75 784.65 L507.06 784.37 L507.37 784.46 L507.68 784.58 L507.99 784.85 L508.30 784.56 L508.61 784.66 L508.92 784.80 L509.23 784.88 L509.54 784.62 L509.85 784.84 L510.16 784.66 L510.47 784.54 L510.78 784.66 L511.09 784.77 L511.40 784.59 L511.71 784.68 L512.02 784.48 L512.33 784.62 L512.64 784.36 L512.95 784.38 L513.26 784.50 L513.57 784.78 L513.88 784.85 L514.19 784.41 L514.50 784.48 L514.81 784.56 L515.12 784.71 L515.43 784.76 L515.74 784.53 L516.05 784.60 L516.36 784.58 L516.67 784.56 L516.98 784.49 L517.29 784.81 L517.60 784.77 L517.91 784.37 L518.22 784.40 L518.53 784.42 L518.84 784.89 L519.15 784.86 L519.46 784.70 L519.77 784.50 L520.08 784.18 L520.39 784.16 L520.70 783.62 L521.01 783.76 L521.32 783.87 L521.63 783.84 L521.94 784.22 L522.25 784.39 L522.56 784.64 L522.87 784.63 L523.18 784.79 L523.49 784.72 L523.80 784.48 L524.11 784.37 L524.42 784.61 L524.73 784.07 L525.04 782.44 L525.35 779.97 L525.66 775.43 L525.97 769.26 L526.28 761.55 L526.59 754.84 L526.90 750.81 L527.21 751.83 L527.52 756.65 L527.83 763.79 L528.14 771.55 L528.45 777.27 L528.76 780.95 L529.07 782.91 L529.38 784.13 L529.69 784.53 L530.00 784.81 L530.31 784.41 L530.62 784.87 L530.92 784.86 L531.23 784.60 L531.54 784.64 L531.85 784.53 L532.16 784.75 L532.47 784.48 L532.78 784.87 L533.09 784.79 L533.40 784.54 L533.71 784.87 L534.02 784.74 L534.33 784.51 L534.64 784.53 L534.95 784.75 L535.26 784.83 L535.57 784.71 L535.88 784.51 L536.19 784.71 L536.50 784.85 L536.81 784.52 L537.12 784.59 L537.43 784.40 L537.74 784.39 L538.05 784.40 L538.36 784.67 L538.67 784.46 L538.98 784.74 L539.29 784.73 L539.60 784.69 L539.91 784.39 L540.22 784.41 L540.53 784.77 L540.84 784.71 L541.15 784.71 L541.46 784.71 L541.77 784.69 L542.08 784.70 L542.39 784.80 L542.70 784.60 L543.01 784.47 L543.32 784.61 L543.63 784.45 L543.94 784.60 L544.25 784.81 L544.56 784.49 L544.87 784.42 L545.18 784.75 L545.49 784.90 L545.80 784.62 L546.11 784.61 L546.42 784.60 L546.73 784.37 L547.04 784.55 L547.35 784.46 L547.66 784.88 L547.97 784.61 L548.28 784.47 L548.59 784.86 L548.90 784.87 L549.21 784.50 L549.52 784.41 L549.83 784.86 L550.14 784.53 L550.45 784.71 L550.76 784.08 L551.07 783.28 L551.38 781.46 L551.69 777.26 L552.00 769.64 L552.31 759.17 L552.62 746.57 L552.93 735.63 L553.24 729.56 L553.55 730.48 L553.86 738.80 L554.17 750.91 L554.48 763.01 L554.79 772.49 L555.10 778.70 L555.41 781.96 L555.72 783.79 L556.03 784.17 L556.34 784.46 L556.65 784.42 L556.96 784.46 L557.27 784.45 L557.58 784.42 L557.89 784.38 L558.20 784.56 L558.51 784.62 L558.82 784.52 L559.13 784.47 L559.44 784.68 L559.75 784.68 L560.06 784.83 L560.37 784.50 L560.68 784.36 L560.99 784.70 L561.30 784.82 L561.61 784.80 L561.91 784.67 L562.22 784.75 L562.53 784.37 L562.84 784.88 L563.15 784.74 L563.46 784.85 L563.77 784.55 L564.08 784.48 L564.39 784.81 L564.70 784.88 L565.01 784.66 L565.32 784.59 L565.63 784.41 L565.94 784.89 L566.25 784.85 L566.56 784.81 L566.87 784.79 L567.18 784.78 L567.49 784.51 L567.80 784.58 L568.11 784.79 L568.42 784.81 L568.73 784.75 L569.04 784.82 L569.35 784.49 L569.66 784.74" fill="none" stroke="#111" stroke-width="0.8" stroke-linejoin="round"/>
<path d="M522.35 784.80 L522.66 784.80 L522.97 784.80 L523.28 784.80 L523.59 784.80 L523.90 784.79 L524.21 784.77 L524.52 784.71 L524.83 784.53 L525.14 784.14 L525.45 783.36 L525.76 782.09 L526.07 780.37 L526.38 778.50 L526.69 777.03 L527.00 776.46 L527.31 777.03 L527.62 778.50 L527.93 780.37 L528.24 782.09 L528.55 783.36 L528.86 784.14 L529.17 784.53 L529.48 784.71 L529.79 784.77 L530.10 784.79 L530.41 784.80 L530.72 784.80 L531.03 784.80 L531.34 784.80Z" fill="#fff" stroke="#111" stroke-width="0.8"/>
<path d="M548.90 784.80 L549.21 784.80 L549.52 784.80 L549.83 784.80 L550.14 784.80 L550.45 784.78 L550.76 784.73 L551.07 784.56 L551.38 784.12 L551.69 783.10 L552.00 781.11 L552.31 777.85 L552.62 773.43 L552.93 768.64 L553.24 764.85 L553.55 763.39 L553.86 764.85 L554.17 768.64 L554.48 773.43 L554.79 777.85 L555.10 781.11 L555.41 783.10 L555.72 784.12 L556.03 784.56 L556.34 784.73 L556.65 784.78 L556.96 784.80 L557.27 784.80 L557.58 784.80 L557.89 784.80Z" fill="#fff" stroke="#111" stroke-width="0.8"/>
<line x1="329.00" y1="728.70" x2="329.00" y2="784.80" stroke="#333" stroke-width="0.9"/>
<line x1="325.50" y1="784.80" x2="329.00" y2="784.80" stroke="#333" stroke-width="0.9"/>
<text x="323.20" y="787.60" font-size="7.9" text-anchor="end" fill="#222">0</text>
<line x1="325.50" y1="757.00" x2="329.00" y2="757.00" stroke="#333" stroke-width="0.9"/>
<text x="323.20" y="759.80" font-size="7.9" text-anchor="end" fill="#222">50</text>
<line x1="325.50" y1="729.20" x2="329.00" y2="729.20" stroke="#333" stroke-width="0.9"/>
<text x="323.20" y="732.00" font-size="7.9" text-anchor="end" fill="#222">100</text>
<line x1="329.00" y1="784.80" x2="659.74" y2="784.80" stroke="#333" stroke-width="0.9"/>
<line x1="339.51" y1="784.80" x2="339.51" y2="786.50" stroke="#333" stroke-width="0.8"/>
<line x1="349.84" y1="784.80" x2="349.84" y2="786.50" stroke="#333" stroke-width="0.8"/>
<line x1="360.17" y1="784.80" x2="360.17" y2="786.50" stroke="#333" stroke-width="0.8"/>
<line x1="370.50" y1="784.80" x2="370.50" y2="787.80" stroke="#333" stroke-width="0.8"/>
<line x1="380.83" y1="784.80" x2="380.83" y2="786.50" stroke="#333" stroke-width="0.8"/>
<line x1="391.16" y1="784.80" x2="391.16" y2="786.50" stroke="#333" stroke-width="0.8"/>
<line x1="401.49" y1="784.80" x2="401.49" y2="786.50" stroke="#333" stroke-width="0.8"/>
<line x1="411.82" y1="784.80" x2="411.82" y2="786.50" stroke="#333" stroke-width="0.8"/>
<line x1="422.15" y1="784.80" x2="422.15" y2="787.80" stroke="#333" stroke-width="0.8"/>
<line x1="432.48" y1="784.80" x2="432.48" y2="786.50" stroke="#333" stroke-width="0.8"/>
<line x1="442.81" y1="784.80" x2="442.81" y2="786.50" stroke="#333" stroke-width="0.8"/>
<line x1="453.14" y1="784.80" x2="453.14" y2="786.50" stroke="#333" stroke-width="0.8"/>
<line x1="463.47" y1="784.80" x2="463.47" y2="786.50" stroke="#333" stroke-width="0.8"/>
<line x1="473.80" y1="784.80" x2="473.80" y2="787.80" stroke="#333" stroke-width="0.8"/>
<line x1="484.13" y1="784.80" x2="484.13" y2="786.50" stroke="#333" stroke-width="0.8"/>
<line x1="494.46" y1="784.80" x2="494.46" y2="786.50" stroke="#333" stroke-width="0.8"/>
<line x1="504.79" y1="784.80" x2="504.79" y2="786.50" stroke="#333" stroke-width="0.8"/>
<line x1="515.12" y1="784.80" x2="515.12" y2="786.50" stroke="#333" stroke-width="0.8"/>
<line x1="525.45" y1="784.80" x2="525.45" y2="787.80" stroke="#333" stroke-width="0.8"/>
<line x1="535.78" y1="784.80" x2="535.78" y2="786.50" stroke="#333" stroke-width="0.8"/>
<line x1="546.11" y1="784.80" x2="546.11" y2="786.50" stroke="#333" stroke-width="0.8"/>
<line x1="556.44" y1="784.80" x2="556.44" y2="786.50" stroke="#333" stroke-width="0.8"/>
<line x1="566.77" y1="784.80" x2="566.77" y2="786.50" stroke="#333" stroke-width="0.8"/>
<line x1="577.10" y1="784.80" x2="577.10" y2="787.80" stroke="#333" stroke-width="0.8"/>
<line x1="587.43" y1="784.80" x2="587.43" y2="786.50" stroke="#333" stroke-width="0.8"/>
<line x1="597.76" y1="784.80" x2="597.76" y2="786.50" stroke="#333" stroke-width="0.8"/>
<line x1="608.09" y1="784.80" x2="608.09" y2="786.50" stroke="#333" stroke-width="0.8"/>
<line x1="618.42" y1="784.80" x2="618.42" y2="786.50" stroke="#333" stroke-width="0.8"/>
<line x1="628.75" y1="784.80" x2="628.75" y2="787.80" stroke="#333" stroke-width="0.8"/>
<line x1="639.08" y1="784.80" x2="639.08" y2="786.50" stroke="#333" stroke-width="0.8"/>
<line x1="649.41" y1="784.80" x2="649.41" y2="786.50" stroke="#333" stroke-width="0.8"/>
<line x1="659.74" y1="784.80" x2="659.74" y2="786.50" stroke="#333" stroke-width="0.8"/>
<text x="370.50" y="797.40" font-size="8.2" text-anchor="middle" fill="#222">10</text>
<text x="422.15" y="797.40" font-size="8.2" text-anchor="middle" fill="#222">15</text>
<text x="473.80" y="797.40" font-size="8.2" text-anchor="middle" fill="#222">20</text>
<text x="525.45" y="797.40" font-size="8.2" text-anchor="middle" fill="#222">25</text>
<text x="577.10" y="797.40" font-size="8.2" text-anchor="middle" fill="#222">30</text>
<text x="628.75" y="797.40" font-size="8.2" text-anchor="middle" fill="#222">35</text>
<line x1="568.84" y1="637.30" x2="659.74" y2="637.30" stroke="#8fdc8f" stroke-width="1"/>
<line x1="568.84" y1="784.60" x2="659.74" y2="784.60" stroke="#8fdc8f" stroke-width="1"/>
<line x1="568.84" y1="710.70" x2="659.74" y2="710.70" stroke="#d8a8d8" stroke-width="0.9"/>
<line x1="329.00" y1="762.80" x2="582.00" y2="762.80" stroke="#aaa" stroke-width="0.8" stroke-dasharray="3 2.5"/>
<text x="583.20" y="765.40" font-size="7.5" fill="#222">~40%</text>
<text x="309.60" y="610.00" font-size="8" text-anchor="middle" fill="#222" transform="rotate(-90 309.60 610.00)">EU</text>
<text x="309.60" y="683.00" font-size="8" text-anchor="middle" fill="#222" transform="rotate(-90 309.60 683.00)">EU</text>
<text x="305.80" y="757.50" font-size="8" text-anchor="middle" fill="#222" transform="rotate(-90 305.80 757.50)">Relative EU (%)</text>
<text x="335.80" y="588.60" font-size="7.7" fill="#222">wildtype</text>
<text x="334.70" y="661.00" font-size="7.8" fill="#222">endo H-treated</text>
<text x="496.50" y="807.20" font-size="7.8" text-anchor="middle" fill="#222">Time (min)</text>
<line x1="574.00" y1="580.50" x2="653.20" y2="580.50" stroke="#555" stroke-width="0.8"/>
<line x1="574.00" y1="632.60" x2="653.20" y2="632.60" stroke="#555" stroke-width="0.8"/>
<text x="575.00" y="586.10" font-size="5.85" fill="#1a1a1a">Total Oligomannose</text>
<text x="652.40" y="586.10" font-size="5.85" text-anchor="end" fill="#1a1a1a">73.6%</text>
<text x="575.00" y="594.75" font-size="5.85" fill="#1a1a1a">M9</text>
<text x="652.40" y="594.75" font-size="5.85" text-anchor="end" fill="#1a1a1a">25.5%</text>
<text x="575.00" y="603.40" font-size="5.85" fill="#1a1a1a">M8</text>
<text x="652.40" y="603.40" font-size="5.85" text-anchor="end" fill="#1a1a1a">14.3%</text>
<text x="575.00" y="612.05" font-size="5.85" fill="#1a1a1a">M7</text>
<text x="652.40" y="612.05" font-size="5.85" text-anchor="end" fill="#1a1a1a">7.2%</text>
<text x="575.00" y="620.70" font-size="5.85" fill="#1a1a1a">M6</text>
<text x="652.40" y="620.70" font-size="5.85" text-anchor="end" fill="#1a1a1a">7.6%</text>
<text x="575.00" y="629.35" font-size="5.85" fill="#1a1a1a">M5</text>
<text x="652.40" y="629.35" font-size="5.85" text-anchor="end" fill="#1a1a1a">19.0%</text>
<line x1="574.00" y1="654.40" x2="653.20" y2="654.40" stroke="#555" stroke-width="0.8"/>
<line x1="574.00" y1="706.30" x2="653.20" y2="706.30" stroke="#555" stroke-width="0.8"/>
<text x="575.00" y="659.90" font-size="5.85" fill="#1a1a1a">Total Oligomannose</text>
<text x="652.40" y="659.90" font-size="5.85" text-anchor="end" fill="#1a1a1a">43.2%</text>
<text x="575.00" y="668.55" font-size="5.85" fill="#1a1a1a">M9</text>
<text x="652.40" y="668.55" font-size="5.85" text-anchor="end" fill="#1a1a1a">30.7%</text>
<text x="575.00" y="677.20" font-size="5.85" fill="#1a1a1a">M8</text>
<text x="652.40" y="677.20" font-size="5.85" text-anchor="end" fill="#1a1a1a">11.2%</text>
<text x="575.00" y="685.85" font-size="5.85" fill="#1a1a1a">M7</text>
<text x="652.40" y="685.85" font-size="5.85" text-anchor="end" fill="#1a1a1a">1.3%</text>
<text x="575.00" y="694.50" font-size="5.85" fill="#1a1a1a">M6</text>
<text x="652.40" y="694.50" font-size="5.85" text-anchor="end" fill="#1a1a1a">0.0%</text>
<text x="575.00" y="703.15" font-size="5.85" fill="#1a1a1a">M5</text>
<text x="652.40" y="703.15" font-size="5.85" text-anchor="end" fill="#1a1a1a">0.0%</text>
<line x1="415.10" y1="572.80" x2="423.00" y2="572.80" stroke="#333" stroke-width="0.7"/>
<line x1="407.20" y1="572.80" x2="415.10" y2="572.80" stroke="#333" stroke-width="0.7"/>
<line x1="407.20" y1="572.80" x2="400.80" y2="566.60" stroke="#333" stroke-width="0.7"/>
<line x1="400.80" y1="566.60" x2="394.10" y2="560.20" stroke="#333" stroke-width="0.7"/>
<line x1="400.80" y1="566.60" x2="394.10" y2="572.80" stroke="#333" stroke-width="0.7"/>
<line x1="407.20" y1="572.80" x2="400.80" y2="578.90" stroke="#333" stroke-width="0.7"/>
<rect x="413.35" y="571.05" width="3.5" height="3.5" fill="#2255ee" stroke="#1a3a9a" stroke-width="0.3"/>
<rect x="421.25" y="571.05" width="3.5" height="3.5" fill="#2255ee" stroke="#1a3a9a" stroke-width="0.3"/>
<circle cx="407.20" cy="572.80" r="1.8" fill="#22dd22" stroke="#119911" stroke-width="0.3"/>
<circle cx="400.80" cy="566.60" r="1.8" fill="#22dd22" stroke="#119911" stroke-width="0.3"/>
<circle cx="394.10" cy="560.20" r="1.8" fill="#22dd22" stroke="#119911" stroke-width="0.3"/>
<circle cx="394.10" cy="572.80" r="1.8" fill="#22dd22" stroke="#119911" stroke-width="0.3"/>
<circle cx="400.80" cy="578.90" r="1.8" fill="#22dd22" stroke="#119911" stroke-width="0.3"/>
<text x="410.90" y="568.40" font-size="6.4" fill="#222">M5</text>
<line x1="454.20" y1="571.90" x2="461.70" y2="571.90" stroke="#333" stroke-width="0.7"/>
<line x1="446.30" y1="571.90" x2="454.20" y2="571.90" stroke="#333" stroke-width="0.7"/>
<line x1="446.30" y1="571.90" x2="439.80" y2="565.40" stroke="#333" stroke-width="0.7"/>
<line x1="439.80" y1="565.40" x2="433.20" y2="558.40" stroke="#333" stroke-width="0.7"/>
<line x1="439.80" y1="565.40" x2="433.20" y2="571.90" stroke="#333" stroke-width="0.7"/>
<line x1="446.30" y1="571.90" x2="439.80" y2="578.00" stroke="#333" stroke-width="0.7"/>
<line x1="439.80" y1="578.00" x2="439.80" y2="587.30" stroke="#333" stroke-width="0.7"/>
<rect x="452.45" y="570.15" width="3.5" height="3.5" fill="#2255ee" stroke="#1a3a9a" stroke-width="0.3"/>
<rect x="459.95" y="570.15" width="3.5" height="3.5" fill="#2255ee" stroke="#1a3a9a" stroke-width="0.3"/>
<circle cx="446.30" cy="571.90" r="1.8" fill="#22dd22" stroke="#119911" stroke-width="0.3"/>
<circle cx="439.80" cy="565.40" r="1.8" fill="#22dd22" stroke="#119911" stroke-width="0.3"/>
<circle cx="433.20" cy="558.40" r="1.8" fill="#22dd22" stroke="#119911" stroke-width="0.3"/>
<circle cx="433.20" cy="571.90" r="1.8" fill="#22dd22" stroke="#119911" stroke-width="0.3"/>
<circle cx="439.80" cy="578.00" r="1.8" fill="#22dd22" stroke="#119911" stroke-width="0.3"/>
<circle cx="439.80" cy="587.30" r="1.8" fill="#22dd22" stroke="#119911" stroke-width="0.3"/>
<text x="449.00" y="567.50" font-size="6.4" fill="#222">M6</text>
<line x1="492.60" y1="572.30" x2="500.20" y2="572.30" stroke="#333" stroke-width="0.7"/>
<line x1="485.20" y1="572.30" x2="492.60" y2="572.30" stroke="#333" stroke-width="0.7"/>
<line x1="485.20" y1="572.30" x2="479.00" y2="566.00" stroke="#333" stroke-width="0.7"/>
<line x1="479.00" y1="566.00" x2="469.90" y2="557.10" stroke="#333" stroke-width="0.7"/>
<line x1="469.90" y1="557.10" x2="469.90" y2="566.00" stroke="#333" stroke-width="0.7"/>
<line x1="479.00" y1="566.00" x2="472.30" y2="572.30" stroke="#333" stroke-width="0.7"/>
<line x1="485.20" y1="572.30" x2="479.00" y2="578.30" stroke="#333" stroke-width="0.7"/>
<line x1="479.00" y1="578.30" x2="479.00" y2="587.40" stroke="#333" stroke-width="0.7"/>
<rect x="490.85" y="570.55" width="3.5" height="3.5" fill="#2255ee" stroke="#1a3a9a" stroke-width="0.3"/>
<rect x="498.45" y="570.55" width="3.5" height="3.5" fill="#2255ee" stroke="#1a3a9a" stroke-width="0.3"/>
<circle cx="485.20" cy="572.30" r="1.8" fill="#22dd22" stroke="#119911" stroke-width="0.3"/>
<circle cx="479.00" cy="566.00" r="1.8" fill="#22dd22" stroke="#119911" stroke-width="0.3"/>
<circle cx="469.90" cy="557.10" r="1.8" fill="#22dd22" stroke="#119911" stroke-width="0.3"/>
<circle cx="469.90" cy="566.00" r="1.8" fill="#22dd22" stroke="#119911" stroke-width="0.3"/>
<circle cx="472.30" cy="572.30" r="1.8" fill="#22dd22" stroke="#119911" stroke-width="0.3"/>
<circle cx="479.00" cy="578.30" r="1.8" fill="#22dd22" stroke="#119911" stroke-width="0.3"/>
<circle cx="479.00" cy="587.40" r="1.8" fill="#22dd22" stroke="#119911" stroke-width="0.3"/>
<text x="487.50" y="567.60" font-size="6.4" fill="#222">M7</text>
<line x1="526.00" y1="572.30" x2="533.60" y2="572.30" stroke="#333" stroke-width="0.7"/>
<line x1="519.20" y1="572.30" x2="526.00" y2="572.30" stroke="#333" stroke-width="0.7"/>
<line x1="519.20" y1="572.30" x2="513.10" y2="566.20" stroke="#333" stroke-width="0.7"/>
<line x1="513.10" y1="566.20" x2="504.60" y2="558.00" stroke="#333" stroke-width="0.7"/>
<line x1="504.60" y1="558.00" x2="504.60" y2="566.60" stroke="#333" stroke-width="0.7"/>
<line x1="513.10" y1="566.20" x2="507.10" y2="572.60" stroke="#333" stroke-width="0.7"/>
<line x1="519.20" y1="572.30" x2="513.10" y2="578.00" stroke="#333" stroke-width="0.7"/>
<line x1="513.10" y1="578.00" x2="513.10" y2="586.50" stroke="#333" stroke-width="0.7"/>
<line x1="513.10" y1="586.50" x2="513.10" y2="595.40" stroke="#333" stroke-width="0.7"/>
<rect x="524.25" y="570.55" width="3.5" height="3.5" fill="#2255ee" stroke="#1a3a9a" stroke-width="0.3"/>
<rect x="531.85" y="570.55" width="3.5" height="3.5" fill="#2255ee" stroke="#1a3a9a" stroke-width="0.3"/>
<circle cx="519.20" cy="572.30" r="1.8" fill="#22dd22" stroke="#119911" stroke-width="0.3"/>
<circle cx="513.10" cy="566.20" r="1.8" fill="#22dd22" stroke="#119911" stroke-width="0.3"/>
<circle cx="504.60" cy="558.00" r="1.8" fill="#22dd22" stroke="#119911" stroke-width="0.3"/>
<circle cx="504.60" cy="566.60" r="1.8" fill="#22dd22" stroke="#119911" stroke-width="0.3"/>
<circle cx="507.10" cy="572.60" r="1.8" fill="#22dd22" stroke="#119911" stroke-width="0.3"/>
<circle cx="513.10" cy="578.00" r="1.8" fill="#22dd22" stroke="#119911" stroke-width="0.3"/>
<circle cx="513.10" cy="586.50" r="1.8" fill="#22dd22" stroke="#119911" stroke-width="0.3"/>
<circle cx="513.10" cy="595.40" r="1.8" fill="#22dd22" stroke="#119911" stroke-width="0.3"/>
<text x="522.60" y="567.90" font-size="6.4" fill="#222">M8</text>
<line x1="558.10" y1="572.30" x2="565.00" y2="572.30" stroke="#333" stroke-width="0.7"/>
<line x1="551.50" y1="572.30" x2="558.10" y2="572.30" stroke="#333" stroke-width="0.7"/>
<line x1="551.50" y1="572.30" x2="545.80" y2="566.60" stroke="#333" stroke-width="0.7"/>
<line x1="545.80" y1="566.60" x2="537.40" y2="558.60" stroke="#333" stroke-width="0.7"/>
<line x1="537.40" y1="558.60" x2="537.40" y2="566.90" stroke="#333" stroke-width="0.7"/>
<line x1="545.80" y1="566.60" x2="539.70" y2="572.60" stroke="#333" stroke-width="0.7"/>
<line x1="539.70" y1="572.60" x2="539.70" y2="580.40" stroke="#333" stroke-width="0.7"/>
<line x1="551.50" y1="572.30" x2="545.80" y2="578.00" stroke="#333" stroke-width="0.7"/>
<line x1="545.80" y1="578.00" x2="545.80" y2="585.90" stroke="#333" stroke-width="0.7"/>
<line x1="545.80" y1="585.90" x2="545.80" y2="594.10" stroke="#333" stroke-width="0.7"/>
<rect x="556.35" y="570.55" width="3.5" height="3.5" fill="#2255ee" stroke="#1a3a9a" stroke-width="0.3"/>
<rect x="563.25" y="570.55" width="3.5" height="3.5" fill="#2255ee" stroke="#1a3a9a" stroke-width="0.3"/>
<circle cx="551.50" cy="572.30" r="1.8" fill="#22dd22" stroke="#119911" stroke-width="0.3"/>
<circle cx="545.80" cy="566.60" r="1.8" fill="#22dd22" stroke="#119911" stroke-width="0.3"/>
<circle cx="537.40" cy="558.60" r="1.8" fill="#22dd22" stroke="#119911" stroke-width="0.3"/>
<circle cx="537.40" cy="566.90" r="1.8" fill="#22dd22" stroke="#119911" stroke-width="0.3"/>
<circle cx="539.70" cy="572.60" r="1.8" fill="#22dd22" stroke="#119911" stroke-width="0.3"/>
<circle cx="539.70" cy="580.40" r="1.8" fill="#22dd22" stroke="#119911" stroke-width="0.3"/>
<circle cx="545.80" cy="578.00" r="1.8" fill="#22dd22" stroke="#119911" stroke-width="0.3"/>
<circle cx="545.80" cy="585.90" r="1.8" fill="#22dd22" stroke="#119911" stroke-width="0.3"/>
<circle cx="545.80" cy="594.10" r="1.8" fill="#22dd22" stroke="#119911" stroke-width="0.3"/>
<text x="551.50" y="567.90" font-size="6.4" fill="#222">M9</text>
</svg></body></html>
